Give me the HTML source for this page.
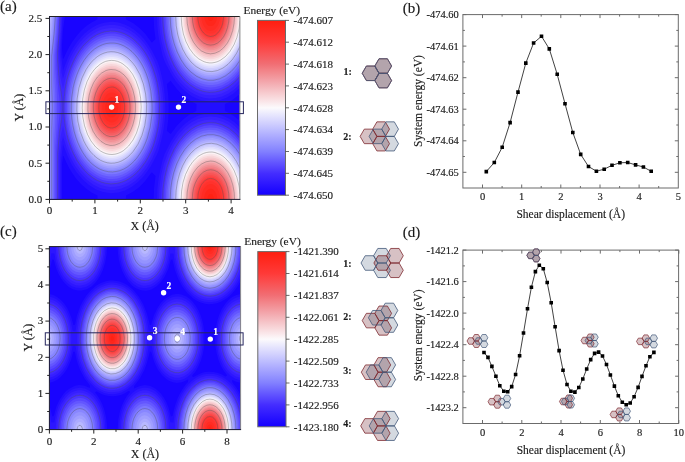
<!DOCTYPE html>
<html><head><meta charset="utf-8"><style>
html,body{margin:0;padding:0;background:#fff;width:685px;height:462px;overflow:hidden}
svg{display:block}
text{font-family:"Liberation Serif",serif;stroke-width:0.15px}
</style></head><body>
<svg width="685" height="462" viewBox="0 0 685 462">
<defs>
<clipPath id="ca"><rect x="49.5" y="16.5" width="190.4" height="182.9"/></clipPath>
<clipPath id="cc"><rect x="49.4" y="246.6" width="191.2" height="183"/></clipPath>
<linearGradient id="cb" x1="0" y1="0" x2="0" y2="1"><stop offset="0.0000" stop-color="#ff1e0f"/><stop offset="0.0312" stop-color="#ff2519"/><stop offset="0.0625" stop-color="#ff2c24"/><stop offset="0.0938" stop-color="#ff332e"/><stop offset="0.1250" stop-color="#ff3a38"/><stop offset="0.1562" stop-color="#fc4747"/><stop offset="0.1875" stop-color="#f85456"/><stop offset="0.2188" stop-color="#f46165"/><stop offset="0.2500" stop-color="#f16e74"/><stop offset="0.2812" stop-color="#f28085"/><stop offset="0.3125" stop-color="#f29196"/><stop offset="0.3438" stop-color="#f3a2a8"/><stop offset="0.3750" stop-color="#f4b4b9"/><stop offset="0.4062" stop-color="#f6c6ca"/><stop offset="0.4375" stop-color="#f8d7da"/><stop offset="0.4688" stop-color="#fae8eb"/><stop offset="0.5000" stop-color="#fcfafc"/><stop offset="0.5312" stop-color="#ecebfd"/><stop offset="0.5625" stop-color="#dddcfe"/><stop offset="0.5938" stop-color="#cecdfe"/><stop offset="0.6250" stop-color="#bebeff"/><stop offset="0.6562" stop-color="#afaeff"/><stop offset="0.6875" stop-color="#a09fff"/><stop offset="0.7188" stop-color="#9190ff"/><stop offset="0.7500" stop-color="#8280ff"/><stop offset="0.7812" stop-color="#726bff"/><stop offset="0.8125" stop-color="#6356ff"/><stop offset="0.8438" stop-color="#5442ff"/><stop offset="0.8750" stop-color="#442dff"/><stop offset="0.9062" stop-color="#3822ff"/><stop offset="0.9375" stop-color="#2c16ff"/><stop offset="0.9688" stop-color="#200bff"/><stop offset="1.0000" stop-color="#1400ff"/></linearGradient>
</defs>
<g clip-path="url(#ca)">
<rect x="49.5" y="16.5" width="190.4" height="182.9" fill="#1904ff"/>
<path fill="#220eff" fill-rule="evenodd" d="M240 199.5L153.6 199.5L154.1 187.5L155.5 176L152 172.5L151.5 172.6L145 181.3L139.5 186.9L133 191.8L126 195.5L125.9 199.5L97.5 199.5L97.4 195.5L91.5 192.5L86 188.6L80.9 184L76 178.4L72.5 173.5L69.1 168L66.1 162L63.5 156.1L63 156.2L62 165L62 199.5L49.5 199.5L49.5 16.5L64.9 16.5L63 29.7L62 45.5L62.1 50.5L63 58.7L63.5 58.8L66.3 52.5L69.4 46.5L72.8 41L76.5 35.9L81.3 30.5L86.3 26L91.5 22.4L97.2 19.5L97.5 19L97.5 16.5L125.9 16.5L125.9 19L126.2 19.5L133 23.1L139.5 28L145 33.6L151.5 42.3L152 42.4L155.5 39L154.1 28L153.6 16.5L240 16.5L240 93.9L233 99.6L229 102L224.9 104L224.9 110.5L225 111L229.5 113.2L233.5 115.7L240 121L240 199.5ZM170.6 134L177 125.6L183 119.5L189.5 114.6L196.3 111L196.5 104.5L196.5 104L192 101.8L188 99.3L182.5 94.9L176.8 89L170.5 80.8L167 84L166.9 84.5L168.3 96L168.7 107.5L168.3 119L166.9 130.5L167 130.9L170.6 134Z"/>
<path fill="#2c16ff" fill-rule="evenodd" d="M60.5 199.5L49.5 199.5L49.5 16.5L62.6 16.5L62 30.5L61 47L60.9 52.5L63 70.5L68.3 57L71 51.6L74 46.5L77.1 42L80.7 37.5L84.5 33.6L88.5 30.2L92.5 27.5L97 25.1L101 23.5L105.5 22.4L110.5 21.7L113 21.7L118.5 22.5L123.5 23.9L129 26.4L134.5 29.9L139.5 34.2L144 39L148.1 44.5L152.1 51L157.5 61.5L159.6 67.5L162.7 80.5L164.1 89L165.1 99L165.4 109L164.9 119L163.7 129L162 137.5L158.7 150.5L156.5 155.5L152 164.1L149 169.1L143.9 176L138 182.1L131.5 187.1L125 190.4L118.5 192.4L111 193.3L103 192L96 189.4L89 185.1L82.7 179.5L76.8 172.5L71.6 164.5L67.5 156L63 144.4L60.9 162.5L60.9 199.5L60.5 199.5ZM212.5 101.6L209 101.6L201.5 100.3L196.5 98.5L191.5 95.9L186.5 92.3L182 88.3L177.5 83.2L173.5 77.7L170.4 72.5L165.4 63L163.9 59.5L162.6 55.5L159.7 43L158.3 35L157.3 26L157 16.5L240 16.5L240 87.6L233.5 93.4L227 97.5L220 100.2L212.5 101.6ZM240 199.5L157 199.5L157.4 188.5L158.7 177.5L162.4 160.5L164.5 154L171.2 141L177 132.3L180.5 128.2L184 124.7L188 121.4L192 118.7L198 115.8L204 114.1L210.5 113.2L216.5 113.9L223 115.7L228.9 118.5L234.5 122.3L240 127.3L240 199.5Z"/>
<path fill="#361fff" fill-rule="evenodd" d="M59.5 199.5L49.5 199.5L49.5 16.5L61.7 16.5L61.1 31L59.9 48.5L59.9 55L61.6 73L63 78.5L67.7 64L70.2 58L73 52.6L76.1 47.5L79.7 42.5L83.5 38.2L87.5 34.5L91.5 31.4L96 28.8L100.5 26.8L105 25.6L109.5 25L114.5 25L119 25.7L123.5 27.1L129.5 29.9L135 33.7L140.2 38.5L145 44.2L149.5 51L153.4 58.5L156.6 66.5L159.3 75L161.3 84L162.7 93.5L163.4 103L163.4 113L162.6 122.5L161.1 132L159 141L156.2 149.5L152 159.3L147 167.8L141.5 175L135.2 181L128.5 185.5L121.5 188.5L114.5 189.9L110.5 190L107 189.7L100 187.9L93 184.4L86.5 179.6L80.5 173.3L75.2 166L70.5 157.4L66.8 148.5L63 136.5L61.6 142L59.9 160L59.9 199.5L59.5 199.5ZM215.5 98.1L210 98.4L205 97.9L199.5 96.5L194.5 94.3L189.5 91.2L184.5 87.1L180 82.4L176 77.2L172.1 71L168.8 64.5L166 57.5L163.4 49.5L161.5 41.5L160.1 33.5L159.2 25L158.9 16.5L240 16.5L240 83.9L234.5 89.2L228.5 93.4L222 96.4L215.5 98.1ZM240 199.5L158.9 199.5L159.5 187L161.1 175L163.9 163.5L167.9 152.5L172.7 143L178.5 134.4L185 127.3L188.5 124.4L192 122L198 119L204 117.2L210 116.5L216.5 117L223 118.9L229 121.8L234.5 125.7L240 131L240 199.5Z"/>
<path fill="#3f28ff" fill-rule="evenodd" d="M58.5 199.5L49.5 199.5L49.5 16.5L60.8 16.5L60.2 31.5L58.8 50L58.8 57.5L60.5 77.6L63 89.1L66.4 74.5L70.4 63L73 57.4L76 52L79 47.5L82.5 43.1L86 39.4L90 35.9L94 33.2L98 31L102 29.5L106.5 28.4L111 28L115.5 28.2L120 29.1L124 30.4L128.5 32.6L132.5 35.2L136.5 38.5L140 42L143.5 46.3L146.8 51L149.7 56L152.5 61.8L155 68L156.9 74L159.9 87L160.8 94L161.4 101L161.5 108.5L161.2 116L160.5 123.5L159.4 130.5L157.8 137.5L155.9 144L153.6 150.5L150.9 156.5L147.9 162L144.5 167.3L141 171.7L137 175.9L133 179.3L128.5 182.3L124 184.5L119.5 185.9L115 186.7L110 186.9L105.5 186.3L101 185.1L96.5 183.1L92 180.4L88 177.4L84 173.5L80.5 169.4L77 164.5L73.8 159L70.9 153L68.5 147L66.5 140.9L63 125.9L60.5 137.3L58.8 156.5L58.8 199.5L58.5 199.5ZM215 95L209.5 95.3L204.5 94.7L199.5 93.3L194.5 91L189.5 87.8L185 84L181 79.7L177 74.5L173.3 68.5L170.1 62L167.3 55L165.1 48L163.3 40.5L161.9 32.5L161.1 24.5L160.8 16.5L240 16.5L240 80.1L234.1 86L228 90.4L221.5 93.4L215 95ZM240 199.5L160.8 199.5L161.4 187.5L163 176L165.6 165L169.2 155L173.8 145.5L179.1 137.5L185.4 130.5L192 125.4L198 122.2L204.5 120.2L211 119.6L217 120.2L223 122L229 125.1L234.5 129.2L240 134.8L240 199.5Z"/>
<path fill="#4a35ff" fill-rule="evenodd" d="M57.5 199.5L49.5 199.5L49.5 16.5L59.9 16.5L59.2 32L57.7 51.5L57.7 60.5L59.4 82.5L60.9 91L61.8 98L62.2 108.5L61.5 119.5L59.4 132.5L57.7 153L57.5 199.5ZM214.5 92L210 92.3L205 91.7L199.5 90.2L194.5 87.8L190 84.8L186 81.4L182.4 77.5L178.2 72L174.8 66.5L171.8 60.5L168.8 53L166.8 46.5L165.2 40L163.8 31.5L163.1 25L162.7 16.5L240 16.5L240 76.3L234.5 82.1L228.5 86.8L225 88.8L221.5 90.3L218.5 91.3L214.5 92ZM116 183.5L111 183.9L106 183.3L102 182.3L97 180.2L93 177.8L88.5 174.3L84.2 170L80.2 165L77.2 160.5L73.7 154L71.3 148.5L68.8 141.5L66.8 134L65.3 126.5L64.3 118.5L63.8 111.5L63.8 104.5L64.3 96.5L65.3 88.5L66.7 81L68.8 73.5L70.7 68L73.2 62L76.3 56L79.7 50.5L83.2 46L88 41.1L92 37.8L97 34.7L101.5 32.8L105.5 31.7L110.5 31.1L115 31.2L120 32.2L124.5 33.8L129 36.2L132.5 38.6L137 42.6L140.2 46L144.3 51.5L147.7 57L150.2 62L152.7 68L155.2 75.5L156.8 81.5L158.3 89.5L159.2 97.5L159.6 104L159.2 117.5L158.3 125.5L157.2 131.5L155.3 139L153.3 145.5L150.9 151.5L148.2 157L145.3 162L141.3 167.5L137.3 172L133 175.9L129 178.7L125 180.9L120 182.7L116 183.5ZM240 199.5L162.7 199.5L163.2 188L164.7 177.5L167.2 167L170.7 157L174.7 148.5L180.2 140L186 133.6L192 128.7L198 125.4L204.5 123.3L211 122.6L217 123.3L223 125.2L229.5 128.8L235 133.2L240 138.6L240 199.5Z"/>
<path fill="#5746ff" fill-rule="evenodd" d="M56 199.5L49.5 199.5L49.5 16.5L59 16.5L58.2 33.5L56.5 52.5L56.5 65L58.3 89.5L59.5 100L59.7 109L59.4 115.5L58.3 125.5L56.5 150L56.5 199.5L56 199.5ZM215 89.5L210 89.9L205.5 89.4L200.5 88.1L196 86.1L191.5 83.2L187 79.5L183 75.3L179.5 70.7L176 65L173 59.1L170.5 52.9L168.3 46L166.6 39L165.3 31.5L164.6 24L164.3 16.5L240 16.5L240 73.2L234.5 79.4L228.5 84.2L222 87.6L218.5 88.8L215 89.5ZM116.5 181L112 181.4L107 181.1L102.5 180L98 178.1L93.5 175.5L89.5 172.4L85.5 168.5L81.8 164L78.4 159L75.1 153L72.5 147L70.2 140.5L68.3 133.5L66.9 126.5L65.9 119.5L65.4 112L65.3 104.5L65.8 97L66.7 89.5L68 82.6L69.8 75.5L72 69.1L74.6 63L77.5 57.4L81 52L84.5 47.5L88.5 43.4L92.5 40.1L97 37.3L101.5 35.3L106 34L110.5 33.5L115 33.6L119.5 34.5L124 36.1L128 38.2L132 40.9L136 44.4L139.5 48.2L143 52.8L146.2 58L149 63.4L151.5 69.4L153.5 75.5L155.3 82L156.5 88.5L157.5 95.5L158 102.5L158.1 109.5L157.7 116.5L157 123.5L155.8 130.5L154.2 137L152.2 143.5L149.9 149.5L147.2 155L144.4 160L141 164.8L137.5 169L133.5 172.8L129.5 175.8L125.5 178.1L121 179.9L116.5 181ZM240 199.5L164.3 199.5L164.7 189L166.1 178.5L168.4 168.5L171.7 159L175.6 150.5L180.5 142.8L186 136.4L192 131.3L198 127.9L204.5 125.7L211 125L217 125.7L223 127.7L229 131.1L234.5 135.5L240 141.7L240 199.5Z"/>
<path fill="#6356ff" fill-rule="evenodd" d="M55 199.5L49.5 199.5L49.5 16.5L58.1 16.5L57.3 31.5L55.3 54L55.3 68.5L56.7 89L57.3 108L56.7 126.5L55.3 146.5L55.3 199.5L55 199.5ZM215.5 87.1L211 87.5L206 87.1L201.5 86L197 84.1L192.5 81.3L188.5 78.1L184.5 74L180.9 69.5L177.5 64.1L174.6 58.5L172 52.3L169.8 45.5L168.1 38.5L166.9 31.5L166.1 24L165.8 16.5L240 16.5L240 70.1L234.5 76.6L228.5 81.6L222 85.2L215.5 87.1ZM113 179L108.5 178.9L104 178L99.5 176.4L95.5 174.2L91.5 171.4L87.5 167.8L84 163.8L80.5 159L77.6 154L74.9 148.5L72.5 142.5L70.5 136L69 129.5L67.8 122.5L67.1 115.5L66.8 108.5L67 101.5L67.5 94.5L68.6 87.5L70 81L71.8 74.5L74 68.5L76.5 63L79.5 57.5L82.9 52.5L86.2 48.5L90 44.8L94 41.6L98 39.3L102.5 37.4L107 36.2L111.5 35.8L116 36.2L120 37.1L124.5 38.8L128.5 41.1L132.5 44L136.5 47.8L140 51.9L143.2 56.5L146.4 62L149 67.5L151.2 73.5L153 79.5L154.5 86L155.6 92.5L156.3 99.5L156.6 106.5L156.4 113.5L155.8 120.5L154.9 127L153.5 133.6L151.7 140L149.5 146L147 151.7L144.1 157L141 161.7L137.5 166.1L134 169.6L130 172.8L126 175.3L121.5 177.3L117.5 178.5L113 179ZM240 199.5L165.8 199.5L166.2 189L167.6 179L169.8 169.5L172.8 160.5L176.5 152.5L181.2 145L186.5 138.7L192 133.9L198 130.3L204 128.2L210.5 127.4L217 128.1L223.5 130.4L229.5 134L235 138.9L240 144.8L240 199.5Z"/>
<path fill="#6f67ff" fill-rule="evenodd" d="M54 199.5L49.5 199.5L49.5 16.5L57.2 16.5L56.3 32L54.1 55L54.2 74L55.2 92L55.6 108L55.2 123.5L54.1 142.5L54 199.5ZM212.5 85L208 84.9L204 84.3L199.5 82.7L195.5 80.7L191.5 78L187.6 74.5L184 70.5L180.7 66L177.8 61L175.1 55.5L172.7 49.5L170.9 43.5L169.3 37L168.2 30.5L167.5 23.5L167.3 16.5L240 16.5L240 66.9L237 70.9L234 74.2L231 77L227.5 79.7L224 81.7L220 83.5L216.5 84.5L212.5 85ZM114.5 176.5L110 176.6L106 176.1L101.5 174.7L97.5 172.9L93.5 170.3L89.5 166.9L86 163.2L82.5 158.7L79.5 153.9L76.8 148.5L74.3 142.5L72.3 136.5L70.7 130L69.5 123.5L68.7 117L68.3 110L68.4 103L68.8 96.5L69.8 89.5L71.1 83L72.7 77L74.8 71L77.2 65.5L80.1 60L83 55.5L86.5 51.1L90 47.5L94 44.3L98 41.8L102.5 39.8L106.5 38.7L111 38.2L115.5 38.5L119.5 39.4L123.5 40.8L127.5 43L131.5 45.9L135 49.1L138.5 53L141.5 57.1L144.4 62L146.9 67L149.2 72.5L151.1 78.5L152.6 84.5L153.9 91L154.6 97.5L155.1 104.5L155 111.5L154.6 118L153.8 124.5L152.5 131L150.9 137L148.9 143L146.6 148.5L144 153.7L141 158.5L137.6 163L134 166.8L130.5 169.8L126.5 172.5L122.5 174.5L118.5 175.8L114.5 176.5ZM240 199.5L167.3 199.5L167.6 190L168.9 180.5L171 171L173.8 162.5L177.4 154.5L181.7 147.5L186.5 141.5L192 136.6L197.5 133.1L203.5 130.8L209.5 129.8L216 130.3L222 132.2L227.9 135.5L233.3 140L238.2 145.5L240 148L240 199.5Z"/>
<path fill="#7c78ff" fill-rule="evenodd" d="M52.5 199.5L49.5 199.5L49.5 16.5L56.2 16.5L55.3 32L53 55.5L53 79.5L53.7 94.5L53.9 108.5L53.7 121.5L53 135.5L53 199.5L52.5 199.5ZM213.5 82.5L209 82.6L205 82.1L201 80.9L196.9 79L193 76.5L189 73.1L185.5 69.3L182.3 65L179.5 60.5L176.7 55L174.3 49L172.4 43L170.8 36.5L169.7 30L169 23.5L168.8 16.5L240 16.5L240 63.6L234.5 70.8L231.3 74L228 76.7L224.5 78.9L221 80.6L217.5 81.8L213.5 82.5ZM115.5 174L111 174.3L107 173.9L103 172.8L99 171.1L95 168.7L91 165.6L87.5 162L84.3 158L81.3 153.5L78.5 148.2L76.2 143L74.1 137L72.5 131L71.2 124.5L70.3 118L69.9 111L69.8 104L70.3 97.5L71.1 91L72.3 84.5L73.9 78.5L76 72.5L78.3 67L81 62L84 57.3L87.4 53L91 49.3L94.5 46.5L98.5 44L102.5 42.3L106.5 41.1L111 40.6L115 40.8L119 41.6L123 43.1L126.5 44.9L130 47.3L133.6 50.5L137 54.2L140.2 58.5L143 63L145.5 68L147.8 73.5L149.6 79L152.3 91L153.1 97.5L153.5 104L153.2 116.5L151.4 129L148.1 140.5L145.9 146L143.5 151L140.5 156L137.6 160L134.5 163.5L131 166.8L127.5 169.3L123.5 171.6L119.5 173.1L115.5 174ZM240 199.5L168.8 199.5L169.2 190L170.3 181L172.3 172L175 164L178.5 156.2L182.5 149.6L187 143.9L192 139.2L197.5 135.6L203 133.3L209 132.3L215 132.6L221 134.3L226.5 137.2L231.5 141.1L236.6 146.5L240 151.3L240 199.5Z"/>
<path fill="#8886ff" fill-rule="evenodd" d="M51.5 199.5L49.5 199.5L49.5 16.5L55.3 16.5L54.2 32.5L51.7 56L51.7 85.5L52.3 108L51.7 129.5L51.7 199.5L51.5 199.5ZM214.5 80L210.5 80.3L206 79.9L202 78.8L198.5 77.3L195 75.3L190.5 71.7L187.3 68.5L183.8 64L181.2 60L178.3 54.5L175.8 48.5L173.7 42L172.2 36L171.2 30L170.6 24.5L170.2 16.5L240 16.5L240 60.2L234.9 67.5L232 70.6L228.5 73.7L225.5 75.8L222 77.8L218 79.3L214.5 80ZM116 171.5L112.5 171.9L108.5 171.7L104 170.7L100 169.2L96.5 167.2L92.5 164.2L89.2 161L85.8 157L82.8 152.5L80.3 148L77.8 142.5L75.8 137L74.2 131.5L72.7 124.5L71.7 117.5L71.3 111.5L71.3 105L71.6 98.5L73.2 87.5L74.7 81.5L76.8 75L78.8 70L81.3 65L84.3 60L87.8 55.5L91 52.1L94.5 49.1L98 46.8L102.5 44.7L106 43.6L110 43.1L114 43.1L117.5 43.6L121 44.7L124.5 46.3L128.5 48.8L132 51.7L135.2 55L138.4 59L141.3 63.5L143.7 68L146.3 74L147.8 78.5L149.2 83.5L150.7 90.5L151.9 101.5L152.1 108L151.9 115L150.2 127L147.3 138L145.2 143.5L142.9 148.5L140.3 153L137.2 157.5L134.2 161L131 164.1L127.5 166.8L124 168.9L119.5 170.7L116 171.5ZM240 199.5L170.2 199.5L170.6 190L171.7 182L173.3 174.5L175.8 166.5L178.7 159.5L182.7 152.5L186.8 147L191.5 142.3L196.5 138.7L200 136.9L203 135.7L208.5 134.7L214 134.8L220 136.3L225 138.8L230.5 142.9L235.4 148L240 154.7L240 199.5Z"/>
<path fill="#9493ff" fill-rule="evenodd" d="M49.5 199.5L49.5 16.5L54.3 16.5L53.5 28L52 43.6L49.9 56.5L49.9 199.5L49.5 199.5ZM212 78.5L208 78.4L204 77.7L200 76.2L196.5 74.4L193 71.9L189.5 68.7L186.5 65.3L183.5 61.2L181 57L178.5 51.9L176.4 46.5L174.7 41L173.2 35L172.2 29L171.4 16.5L240 16.5L240 57.6L237.3 62L234.3 66L231 69.5L227.5 72.5L224 74.9L220 76.8L216 78L212 78.5ZM114 170L110 170.1L106 169.5L102 168.2L98.5 166.5L95 164.2L91.5 161.2L88.4 158L85.4 154L82.5 149.5L80 144.5L77.9 139.5L76.1 134L73.5 122.5L72.8 116.5L72.4 110L72.9 97.5L74.9 85.5L76.4 80L78.2 74.5L80.5 69.3L83.1 64.5L86 60L89 56.3L92.5 52.7L96 50L99.5 47.8L103.5 46.1L107 45.2L111 44.8L115 45L118.5 45.7L122.5 47.2L126 49L129.5 51.5L132.7 54.5L135.9 58L138.8 62L141.5 66.5L143.7 71L147.5 81.5L150 93L151 105L150.6 117L148.6 129L145.3 140L140.9 149.5L138.4 153.5L135.4 157.5L132 161.1L128.7 164L125 166.5L121.5 168.2L118 169.3L114 170ZM240 199.5L171.4 199.5L171.7 191L172.7 182.5L174.5 174.5L176.9 167L179.9 160L183.5 153.7L187.5 148.4L192 143.9L197 140.3L202.5 137.7L208 136.5L213.5 136.5L219 137.8L224 140.1L229 143.6L233.9 148.5L237 152.5L240 157.3L240 199.5Z"/>
<path fill="#a09fff" fill-rule="evenodd" d="M49.5 48.6L49.5 16.5L53.3 16.5L52 33.3L49.5 48.6ZM214.5 76.5L210.5 76.8L206.5 76.5L202.5 75.4L198.5 73.7L195 71.5L191.4 68.5L188 64.9L185 61L182.2 56.5L179.9 52L177.6 46.5L175.8 41L174.4 35L173.3 29L172.7 23L172.4 16.5L240 16.5L240 55L237.4 59.5L234.5 63.5L231.5 67L228.5 69.8L225 72.4L221.5 74.3L218 75.7L214.5 76.5ZM116 168L112.5 168.4L108.5 168.2L104.5 167.3L101 166L97.5 164.1L94 161.5L90.5 158.2L87.4 154.5L84.5 150.3L82 145.8L79.8 141L77.8 135.5L76.2 130L74.9 124L73.6 112L73.5 105.5L73.8 99.5L75.6 87.5L77 82L78.8 76.5L81 71.1L83.4 66.5L86 62.3L89 58.4L92 55.2L95.5 52.2L99 50L103 48.1L106.5 47.1L110.5 46.5L114.5 46.7L118 47.3L121.5 48.5L125 50.3L128.5 52.7L131.5 55.3L134.5 58.5L137.2 62L139.7 66L142.1 70.5L146 80.5L148.6 91.5L149.8 103L149.7 114.5L148.1 126L145.1 137L141.1 146.5L136 154.5L133 158.1L130 161L126.5 163.7L123 165.7L119.5 167.1L116 168ZM240 199.5L172.4 199.5L172.7 191.5L173.7 183.5L175.3 176L177.6 168.5L180.5 161.6L183.9 155.5L188 150L192 145.8L197 142.1L202 139.7L207 138.4L212.5 138.1L218 139.2L223 141.3L228 144.7L232.5 149L236.5 154.1L240 159.9L240 199.5Z"/>
<path fill="#acabff" fill-rule="evenodd" d="M49.5 38.7L49.5 16.5L52.4 16.5L51.5 26.6L49.5 38.7ZM212.5 75L208.5 75L205 74.4L201.5 73.3L198 71.5L194.5 69.2L191 66.1L188 62.8L185.2 59L182.5 54.5L180.3 50L178.3 45L176.6 39.5L174.3 28L173.5 16.5L240 16.5L240 52.2L237.4 57L234.5 61.3L231.4 65L228 68.2L224.5 70.8L220.5 73L216.5 74.4L212.5 75ZM114.5 166.5L110.5 166.6L107 166.2L103.5 165.2L100 163.7L96.5 161.5L93 158.6L90 155.5L87 151.7L84.3 147.5L82 143L78.2 133L75.7 122L74.6 110L75 98.5L76.8 87L80 76.5L82.2 71.5L84.6 67L87.2 63L90 59.4L93 56.3L96.5 53.4L100 51.2L103.5 49.7L107 48.7L111 48.2L114.5 48.4L118 49.1L121.5 50.3L125 52.2L128.5 54.6L131.5 57.4L134.3 60.5L137 64.1L141.7 72.5L145.4 82.5L147.7 93L148.8 104.5L148.4 116L146.8 127L143.7 137.5L139.5 146.7L137 150.8L134.3 154.5L131.5 157.6L128.2 160.5L125 162.7L121.5 164.6L118 165.8L114.5 166.5ZM240 199.5L173.5 199.5L173.8 191.5L174.8 184L176.3 176.5L178.5 169.5L181.2 163L184.5 157L188 152.1L192 147.8L196.5 144.3L201.5 141.6L206.5 140.2L212 139.9L217 140.7L222 142.6L227 145.8L231.5 150L236 155.7L240 162.7L240 199.5Z"/>
<path fill="#b8b8ff" fill-rule="evenodd" d="M49.5 28.7L49.5 16.5L51.2 16.5L49.5 28.7ZM214.5 73L211 73.3L207 73.1L203 72L199.5 70.5L196 68.4L193 66L190 63L186.8 59L184 54.5L181.7 50L179.6 45L178 40L176.6 34.5L175.5 28.5L174.9 22.5L174.6 16.5L240 16.5L239.9 49.5L237.6 54L235 58.3L232 62.2L228.9 65.5L225.5 68.3L222 70.4L218.5 72L214.5 73ZM116 164.5L112.5 164.9L108.5 164.7L105 163.9L101.5 162.6L98 160.6L95 158.4L91.9 155.5L88.9 152L86.1 148L83.6 143.5L79.7 134L77.1 123.5L75.8 112L75.9 100.5L77.6 89L80.6 78.5L82.6 73.5L84.9 69L87.5 64.8L90.5 61L93.5 57.8L96.5 55.3L100 53.1L103.5 51.5L107 50.5L110.5 50L114 50.1L117.5 50.7L121 51.9L124 53.4L127 55.4L130.1 58L133 61.1L135.7 64.5L140.3 72.5L144 82L146.4 92L147.6 103L147.5 114L146 125L143.3 135L139.5 144L137 148.4L134.5 152L129 157.9L126 160.2L122.5 162.3L119.5 163.6L116 164.5ZM240 199.5L174.6 199.5L174.9 192L175.7 185L177.1 178L179.2 171L181.9 164.5L184.8 159L188.3 154L192 149.9L196.5 146.2L201.5 143.4L206.5 141.9L211.5 141.6L216.5 142.3L221.5 144.2L226 147L230.5 151L235.6 157.5L240 165.6L240 199.5Z"/>
<path fill="#c4c4ff" fill-rule="evenodd" d="M49.5 18.3L49.5 16.5L49.7 16.5L49.5 18.3ZM212.5 71.5L209 71.6L205.5 71L202 69.9L198.5 68.1L195.5 66.1L192.5 63.5L189.5 60.2L186.7 56.5L184.3 52.5L182.1 48L178.7 38.5L176.5 27.6L175.7 16.5L240 16.5L240 46.2L238 50.6L235.5 55.1L232.8 59L229.8 62.5L226.5 65.6L223 68L219.5 69.8L216 71L212.5 71.5ZM114.5 163L111 163.2L107.5 162.8L104 161.8L100.5 160.3L97 158L94 155.5L91.1 152.5L88.5 149.2L86 145.2L83.8 141L80.2 131.5L77.8 121L76.8 110L77.1 99L78.9 88L82 78L86.1 69.5L88.7 65.5L91.5 62L94.5 58.9L97.5 56.5L100.5 54.6L104 53.1L107.5 52.1L111 51.7L114.5 51.9L117.5 52.5L121 53.7L124 55.3L127 57.3L130 60L133 63.3L135.5 66.6L140 74.7L143.4 84L145.6 94L146.6 104.5L146.3 115L144.8 125.5L141.9 135.5L138 144.2L133.1 151.5L130.5 154.4L127.5 157.2L124.5 159.3L121 161.2L118 162.3L114.5 163ZM240 199.5L175.7 199.5L176 192.5L176.8 185.5L178.2 178.5L180 172.3L182.3 166.5L185.1 161L188.5 156L192 151.9L196.5 148.1L201 145.5L205.5 143.9L210.5 143.3L215.5 143.8L220 145.3L224.5 147.8L229 151.6L232.1 155L235 159L237.6 163.5L240 168.7L240 199.5Z"/>
<path fill="#d1d0fe" fill-rule="evenodd" d="M214.5 69.5L211 69.9L207.5 69.6L204 68.8L200.5 67.4L197 65.3L194 62.9L191 59.8L188.4 56.5L185.8 52.5L183.5 48.1L179.9 38.5L177.7 28L176.8 16.5L240 16.5L240 42.9L237.5 48.8L233 56.5L230.5 59.7L227.5 62.7L224.5 65.2L221 67.3L218 68.6L214.5 69.5ZM116 161L112.5 161.4L109 161.3L105.5 160.6L102.5 159.4L99 157.5L96 155.3L93 152.5L90.4 149.5L88 146L85.7 142L81.9 133L79.3 123L77.9 112L78.1 101L79.5 90.5L82.3 80.5L84.2 76L86.4 71.5L88.9 67.5L91.5 64.1L94.4 61L97.4 58.5L100.5 56.5L104 54.9L107 54L110.5 53.5L114 53.6L117 54.1L120 55.1L123 56.5L126 58.5L129 61L134.1 67L138.5 74.5L142 83.3L144.3 93L145.5 103L145.4 113.5L144 123.5L141.5 133L138 141.5L133.5 148.8L130.8 152L128 154.8L125 157.1L122 158.9L119 160.2L116 161ZM240 199.5L176.8 199.5L177.1 192.5L177.8 186L179.1 179.5L180.8 173.5L183 167.9L185.7 162.5L188.7 158L192 154L196 150.4L200.5 147.5L205 145.8L210 145L215 145.5L219.5 146.9L224 149.4L228 152.6L231.5 156.5L234.7 161L237.5 166.1L240 172L240 199.5Z"/>
<path fill="#dddcfe" fill-rule="evenodd" d="M213 68L209.5 68.1L206.5 67.7L203 66.7L200 65.3L197 63.4L194 60.9L191 57.7L188.5 54.4L186.1 50.5L184 46.3L180.7 37L178.6 27L177.9 16.5L240 16.5L240 39.2L238.1 44.5L235.8 49.5L233.5 53.4L231 56.9L228.5 59.7L225.5 62.5L222.5 64.6L219.5 66.2L216.5 67.3L213 68ZM114.5 159.5L111 159.7L108 159.4L104.5 158.4L101.5 157.1L98.5 155.3L95.5 152.9L92.7 150L90 146.6L85.6 139L82.1 130L80 120.5L79 110L79.3 99.5L80.9 89.5L83.8 80L87.6 72L90 68.3L92.5 65.1L95 62.5L98 60L101 58L104.5 56.5L107.5 55.6L111 55.2L114.5 55.4L117.5 56L120.5 57.1L123.5 58.7L126.5 60.8L129 63.1L134 69.1L138.1 76.5L141.3 85L143.5 94.5L144.4 104.5L144.2 114.5L142.7 124.5L140.1 133.5L136.5 141.6L132 148.5L129.3 151.5L126.5 154.1L123.5 156.2L120.5 157.8L117.5 158.9L114.5 159.5ZM240 199.5L177.9 199.5L178.1 193L178.8 187L179.9 181L181.6 175L183.6 169.5L186.1 164.5L188.9 160L192 156.1L196 152.3L200.5 149.3L205 147.6L209.5 146.8L214 147L218.5 148.3L223 150.6L227 153.7L231 158L234.5 163.1L237.5 169L240 175.7L240 199.5Z"/>
<path fill="#e9e8fd" fill-rule="evenodd" d="M214.5 66L211.5 66.4L208 66.2L204.5 65.4L201.5 64.2L198.5 62.5L195.5 60.2L192.5 57.3L189.9 54L187.5 50.3L185.2 46L181.9 37L179.8 27L179 16.5L240 16.5L240 35L237.8 42L235.1 48L231 54.6L226 60.1L223.5 62.1L220.5 63.9L217.5 65.2L214.5 66ZM116 157.5L113 157.9L109.5 157.9L106.5 157.3L103.5 156.3L100.5 154.7L97.5 152.6L94.6 150L92 147L87.5 140L83.8 131.5L81.4 122L80.1 112L80.2 101.5L81.6 91.5L84.3 82L87.9 74L92.5 67.2L95 64.5L98 61.9L101 59.9L104 58.4L107 57.5L110.5 57L113.5 57L116.5 57.5L119.5 58.5L122.5 59.9L127.9 64L132.6 69.5L136.7 76.5L139.9 84.5L142.2 93.5L143.3 103L143.2 112.5L142 122L139.7 131L136.5 139L132.5 145.6L127.5 151.3L125 153.3L122 155.2L119 156.6L116 157.5ZM240 199.5L179 199.5L179.2 193.5L179.8 187.5L180.8 182L182.3 176.5L184.3 171L186.5 166.4L189.1 162L192 158.2L196 154.2L200 151.5L204 149.6L208.5 148.6L213 148.6L217.5 149.7L221.5 151.5L225.6 154.5L229.6 158.5L233.2 163.5L236.4 169.5L238.9 176L240 179.9L240 199.5Z"/>
<path fill="#f6f4fc" fill-rule="evenodd" d="M213 64.5L209.5 64.6L206.5 64.2L203.5 63.3L200.5 61.9L197.6 60L195 57.8L192.5 55.1L190 51.8L185.9 44.5L182.8 36L180.8 26.5L180.1 16.5L240 16.5L240 29.8L239.8 31L237.3 40L233.5 48.4L229.4 54.5L224.4 59.5L219 62.8L216 63.9L213 64.5ZM114.5 156L111.5 156.2L108.5 156L105.5 155.2L102.5 154L99.5 152.2L97 150.3L94.2 147.5L91.8 144.5L87.5 137.3L84.2 129L82 119.5L81.1 110L81.4 100.5L82.9 91L85.5 82.2L89.1 74.5L93.7 68L96.1 65.5L99 63.1L102 61.2L105 59.8L108 59L111 58.7L114 58.8L117 59.4L120 60.5L122.5 61.8L125 63.5L127.8 66L132.5 71.7L136.3 78.5L139.3 86.5L141.4 95.5L142.2 104.5L142 114L140.7 123L138.3 131.5L135 139.1L130.9 145.5L126 150.6L123.5 152.5L120.5 154.2L117.5 155.4L114.5 156ZM240 199.5L180.1 199.5L180.3 193.5L180.9 188L181.9 182.5L183.2 177.5L185 172.5L187 168.1L189.4 164L192 160.4L195.5 156.7L199.5 153.6L203.5 151.6L208 150.4L212.5 150.3L216.5 151.1L220.5 152.8L224.5 155.5L228.5 159.4L232 164L235 169.4L237.3 175L238.8 180L240 185.1L240 199.5Z"/>
<path fill="#fbf3f5" fill-rule="evenodd" d="M214.5 62.5L211.5 62.9L208.5 62.8L205.5 62.2L202.3 61L199.5 59.4L196.5 57.1L194 54.7L191.4 51.5L189 47.8L187 44L184 36L182 27L181.2 16.5L240 16.5L239.7 24L238.2 33L236 40L232.5 47.5L228.5 53.4L224.4 57.5L220 60.5L217.5 61.6L214.5 62.5ZM112 154.5L109 154.3L106 153.6L103.2 152.5L100.5 151L95.5 146.8L91 141L87.5 134.4L84.5 125.7L82.8 117L82.2 108L82.7 99L84.3 90L87 81.7L90.5 74.7L95 68.7L100 64.3L103 62.5L105.5 61.4L108.5 60.7L111.5 60.4L114.5 60.6L117.5 61.3L120.4 62.5L123 64L128 68.2L132.5 74L136.1 81L139 89.5L140.6 98L141.2 107L140.7 116L139.1 125L136.5 133L133 140L128.5 146.1L123.5 150.6L121 152.1L118 153.4L115 154.2L112 154.5ZM240 199.5L181.2 199.5L181.8 189L184 179L185.5 174.5L187.4 170L189.5 166.3L192 162.6L195.5 158.7L199 155.8L203 153.6L207 152.3L211.5 152L215.5 152.6L219.5 154.1L223.5 156.7L227.1 160L230.5 164.2L233.5 169.2L236 174.9L237.9 181L239.2 187L240 193.9L240 199.5Z"/>
<path fill="#fae5e8" fill-rule="evenodd" d="M212.5 61L209.5 61.1L206.5 60.6L204 59.8L201.2 58.5L198.5 56.7L196 54.6L191.5 49.2L187.7 42.5L184.8 34.5L182.9 25.5L182.3 16.5L239 16.5L238.5 25L236.9 33L234.5 40.5L231.3 47L227 52.9L222.5 57L217.5 59.8L212.5 61ZM114 152.6L111 152.7L108.5 152.4L105.5 151.6L103 150.5L100 148.7L97.5 146.6L93 141.5L89.2 135L86.3 127.5L84.3 119L83.4 110L83.6 101L85 92L87.5 83.8L91 76.5L95 70.9L100 66.2L102.5 64.6L105.5 63.3L108 62.6L111 62.2L114 62.4L116.5 62.9L121.5 65L126.5 68.8L131 74.3L134.7 81L137.5 88.5L139.2 96.5L140 105L139.8 114L138.5 122.3L136.1 130.5L133 137.3L129 143.3L124.5 147.8L119.5 151L117 151.9L114 152.6ZM239 199.5L182.3 199.5L182.9 189.5L184.9 180L188.2 171.5L190.3 167.5L192.5 164.3L195.8 160.5L199.4 157.5L203 155.5L207 154.2L211 153.8L215 154.3L219 155.8L223 158.3L226.5 161.5L229.5 165.2L232.4 170L234.7 175L236.7 181L238 187L238.8 193.5L239 199.5Z"/>
<path fill="#f8d7da" fill-rule="evenodd" d="M213.5 59.1L211 59.3L208 59.1L205 58.4L202.5 57.3L199.5 55.5L197.1 53.5L192.5 48.2L188.7 41.5L185.9 34L184.1 25.5L183.4 16.5L237.9 16.5L237.4 24.5L236 31.8L233.7 39L230.9 45L227.1 50.5L223 54.6L218.5 57.5L213.5 59.1ZM115 150.6L112.5 150.9L109.5 150.8L106.5 150.1L104 149.1L99 145.9L94.4 141L90.5 134.7L87.5 127.5L85.5 119.3L84.5 110.5L84.7 102L85.9 93.5L88.2 85.5L91.5 78.3L95.5 72.5L98 69.9L100.5 67.9L105.5 65.2L108 64.4L111 64L116 64.6L121 66.6L126 70.5L130 75.3L133.5 81.4L136.2 88.5L138.1 96.5L138.9 104.5L138.8 112.5L137.7 120.5L135.7 128L132.8 135L129 141L124.8 145.5L120 148.8L115 150.6ZM237.5 199.5L183.4 199.5L184 190L186 180.5L189.4 172L193.5 165.3L196.5 161.9L200 159.1L203.5 157.1L207.5 155.9L211.5 155.6L215 156.2L219 157.7L222.5 159.9L226 163.1L229 166.9L231.7 171.5L234 176.5L235.9 182.5L237.1 188.5L237.9 196.5L237.9 199.5L237.5 199.5Z"/>
<path fill="#f6c9cd" fill-rule="evenodd" d="M214.5 57L212 57.4L209 57.4L206 56.8L203.5 55.9L201 54.5L198.5 52.7L196 50.3L193.7 47.5L189.9 41L187 33.5L185.2 25L184.6 16.5L236.8 16.5L236.3 24L235 31L233 37.5L230.2 43.5L226.9 48.5L223 52.6L219 55.3L214.5 57ZM113 149L108 148.7L103 146.7L98.1 143L94 138L90.5 131.7L87.9 124.5L86.2 116.5L85.6 108.5L86 100.5L87.3 92.5L89.7 85L92.9 78.5L97 73L101.5 69.1L106.5 66.7L111.5 65.8L116.5 66.5L121.5 68.9L126 72.6L129.8 77.5L133 83.5L135.5 90.5L137.2 98.5L137.8 106.5L137.4 114.5L136 122.5L133.8 129.5L130.7 136L127 141.2L122.5 145.4L118 147.9L113 149ZM236.5 199.5L184.6 199.5L185.2 190L187.1 181L190.3 173L192.3 169.5L194.5 166.4L197.5 163.1L201 160.4L204.5 158.6L208 157.6L211.5 157.4L215 158L218.5 159.3L222 161.5L225.2 164.5L228.1 168L230.8 172.5L233 177.5L234.8 183L236 189L236.7 196L236.8 199.5L236.5 199.5Z"/>
<path fill="#f5bbc0" fill-rule="evenodd" d="M213 55.5L210.5 55.7L208 55.5L205.5 54.8L203 53.8L198.3 50.5L194 45.5L190.6 39.5L188 32.5L186.3 24.5L185.7 16.5L235.6 16.5L235.2 23.5L233.9 30.5L231.8 37L229 42.9L225.5 47.9L221.8 51.5L217.5 54.2L213 55.5ZM114.5 147L112 147.3L109.5 147.1L107 146.6L104.5 145.6L100 142.6L95.7 138L92 132L89.4 125.5L87.6 118L86.8 110L87 102L88.2 94L90.3 87L93.3 80.5L97 75.3L101.5 71.1L106 68.7L108.5 68L111 67.6L113.5 67.7L116 68.2L120.5 70.2L124.7 73.5L128.5 78L131.6 83.5L134.1 90L135.8 97L136.6 104.5L136.5 112L135.5 119.5L133.6 126.5L131 132.7L127.5 138.3L123.5 142.5L119 145.5L114.5 147ZM235.5 199.5L185.7 199.5L186.3 190.5L188.1 182L191 174.5L195 168L198 164.7L201 162.3L204.5 160.5L208 159.4L211.5 159.2L215 159.8L218.5 161.2L221.5 163.2L224.6 166L227.5 169.6L230 173.8L232 178.3L233.7 183.5L234.8 189L235.5 195L235.5 199.5Z"/>
<path fill="#f4adb2" fill-rule="evenodd" d="M214 53.5L211.5 53.9L209 53.8L206.5 53.3L204 52.4L199.5 49.4L195.4 45L191.8 39L189.2 32.5L187.5 24.5L186.8 16.5L234.5 16.5L234.1 23L232.8 30L230.9 36L228.6 41L225.5 45.6L222 49.3L218 52L214 53.5ZM115 145.1L112.5 145.4L110 145.4L105.5 144.2L101 141.4L96.7 137L93.2 131.5L90.7 125.5L88.8 118L87.9 110.5L88 103L89.1 95.5L90.9 89L93.7 82.5L97.4 77L101.5 73.1L106 70.5L108.5 69.8L111 69.5L115.5 69.9L120 71.8L124 74.9L127.5 79L130.7 84.5L132.9 90L134.6 97L135.4 104L135.4 111L134.6 118L132.8 125L130.4 131L127.1 136.5L123.5 140.5L119.5 143.4L115 145.1ZM234.5 199.5L186.8 199.5L187.4 191L189.2 182.5L192 175.5L195.7 169.5L198.5 166.4L201.5 164L204.5 162.3L208 161.3L211.5 161L215 161.7L218 162.9L221 164.8L224 167.5L226.8 171L229.1 175L230.9 179L232.6 184L233.7 189L234.3 194L234.5 199.5Z"/>
<path fill="#f39fa4" fill-rule="evenodd" d="M212.5 52L208 51.9L203.5 50.3L199.5 47.5L195.5 42.9L192.4 37.5L190 31L188.5 24L187.9 16.5L233.4 16.5L233 23L231.7 29.5L229.8 35.5L227.4 40.5L224.2 45L220.5 48.6L216.5 50.9L212.5 52ZM114 143.5L109.5 143.6L105 142.1L101 139.5L97 135.1L93.9 130L91.5 124L89.8 117L89 110L89.2 102.5L90.2 95.5L92.1 89L94.9 83L98.4 78L102.2 74.5L106.5 72.1L111 71.2L115.5 71.7L119.5 73.4L123.5 76.4L127 80.6L129.8 85.5L132.1 91.5L133.7 98L134.4 105L134.3 112L133.3 119L131.5 125.3L129 131L126 135.7L122.3 139.5L118.5 142.1L114 143.5ZM233 199.5L187.9 199.5L188.4 191.5L190.1 183.5L192.8 176.5L196.5 170.7L199 167.9L202 165.5L205 163.9L208 163L211.5 162.8L214.5 163.3L217.5 164.4L220.7 166.5L223.5 169.1L226 172.2L228.2 176L230.2 180.5L231.8 185.5L232.8 191L233.4 198L233.4 199.5L233 199.5Z"/>
<path fill="#f29196" fill-rule="evenodd" d="M213.5 50.1L209 50.3L204.5 49L200.1 46L196.5 42L193.5 36.9L191.1 30.5L189.5 23.5L189 16.5L232.3 16.5L231.9 22.5L230.8 28.5L229.1 34L226.7 39L224 43.1L220.7 46.5L217 48.9L213.5 50.1ZM115 141.6L110.5 141.9L106.5 141L102.5 138.7L98.5 134.8L95.3 130L92.7 124L91 117.5L90.1 110.5L90.2 103.5L91.2 96.5L93 90L95.5 84.5L98.6 80L102.5 76.2L106.5 73.9L111 72.9L115 73.3L119 74.9L122.5 77.5L126 81.5L128.9 86.5L131.1 92L132.5 98L133.3 104.5L133.2 111L132.4 117.5L130.9 123.5L128.6 129L125.9 133.5L122.5 137.4L119 140L115 141.6ZM232 199.5L189 199.5L189.5 192L191 184.5L193.7 177.5L197.2 172L199.5 169.5L202.5 167.1L205.5 165.5L208.5 164.7L211.5 164.5L214.5 165L217.5 166.3L220.2 168L223 170.6L225.5 173.9L227.6 177.5L229.3 181.5L230.7 186L231.7 191L232.3 197.5L232.3 199.5L232 199.5Z"/>
<path fill="#f28389" fill-rule="evenodd" d="M212.5 48.5L208.5 48.5L204.2 47L200.5 44.4L197 40.4L194.2 35.5L192 29.5L190.6 23L190.1 16.5L231.2 16.5L230.8 22.5L229.6 28.5L227.8 34L225.6 38.5L222.7 42.5L219.5 45.5L216 47.5L212.5 48.5ZM114 140L110 140.1L106 139L102 136.4L98.5 132.6L95.7 128L93.4 122.5L91.9 116.5L91.2 110L91.3 103.5L92.2 97L93.9 91L96.4 85.5L99.5 81L103 77.7L107 75.5L111 74.7L115 75.1L119 76.8L122.5 79.5L125.5 83.1L128 87.5L130.2 93L131.6 99L132.2 105L132.1 111.5L131.3 117.5L129.6 123.5L127.5 128.4L124.6 133L121.5 136.3L118 138.7L114 140ZM231 199.5L190.1 199.5L190.6 192L192.1 185L194.6 178.5L198 173.2L200.5 170.5L203 168.6L205.5 167.3L208.5 166.4L211.5 166.3L214.5 166.8L217.5 168.1L220 169.8L222.5 172.2L224.7 175L226.7 178.5L228.4 182.5L229.8 187L230.7 191.5L231.2 197L231.2 199.5L231 199.5Z"/>
<path fill="#f1757b" fill-rule="evenodd" d="M213.5 46.6L209.5 46.9L205.5 45.8L201.5 43.3L198 39.5L195.1 34.5L193 29L191.7 23L191.2 16.5L230.1 16.5L229.8 22L228.9 27L227.3 32L225.2 36.5L222.9 40L220 43.1L217 45.2L213.5 46.6ZM112 138.5L108 137.9L104.5 136.3L101 133.4L98 129.5L95.6 125L93.7 119.5L92.7 114L92.2 108L92.5 102L93.6 96L95.4 90.5L97.6 86L100.5 82L104 78.9L107.5 77.1L111.5 76.4L115.5 77L119 78.7L122.4 81.5L125.2 85L127.6 89.5L129.5 95L130.7 101L131.2 107L130.9 113L129.8 119L128 124.4L125.7 129L122.8 133L119.5 135.9L116 137.7L112 138.5ZM230 199.5L191.2 199.5L191.6 192.5L193 186L195.3 180L198.5 174.8L200.6 172.5L203 170.5L205.5 169.1L208.5 168.2L211.5 168L214 168.4L217 169.7L219.5 171.4L222 173.8L224 176.4L225.8 179.5L227.3 183L228.6 187L229.6 191.5L230.1 196.5L230 199.5Z"/>
<path fill="#f2696e" fill-rule="evenodd" d="M212.5 45L208.5 45L205 43.8L201.5 41.3L198.5 37.8L196 33.5L194 28.2L192.8 22.5L192.3 16.5L229.1 16.5L228.7 22L227.7 27L226 32L224 36L221.6 39.5L219 42L216 43.9L212.5 45ZM114 136.5L110 136.6L106.5 135.6L103 133.3L100 130.1L97.5 126L95.4 121L94 115.5L93.4 110L93.4 104L94.2 98.5L95.7 93L97.9 88L100.7 84L104 80.8L107.5 78.9L111 78.2L114.5 78.5L118 79.9L121 82.2L123.9 85.5L126.2 89.5L128.2 94.5L129.4 99.5L130 105L130 110.5L129.3 116L128 121L126 125.9L123.5 129.9L120.5 133.2L117.5 135.3L114 136.5ZM229 199.5L192.3 199.5L192.7 193L194 186.7L196.2 181L199 176.4L201.1 174L203.5 172L206 170.7L208.5 169.9L211 169.7L213.5 170.1L216 171L218.5 172.5L221 174.8L223 177.3L224.7 180L226.3 183.5L227.6 187.5L228.4 191.5L229 196L229 199.5Z"/>
<path fill="#f55e62" fill-rule="evenodd" d="M213.5 43.1L209.5 43.4L206 42.4L202.5 40.2L199.6 37L197 32.8L195.1 28L193.9 22.5L193.4 16.5L228 16.5L227.6 21.5L226.8 26L225.5 30.1L223.7 34L221.5 37.4L219 40L216.5 41.8L213.5 43.1ZM112.5 135L109 134.7L105.5 133.2L102.5 130.8L99.8 127.5L97.5 123.2L95.8 118.5L94.8 113.5L94.4 108L94.7 102.5L95.7 97L97.4 92L99.4 88L102 84.6L105 82L108 80.5L111.5 79.9L115 80.4L118 81.8L121 84.2L123.6 87.5L125.8 91.5L127.4 96L128.5 101L129 106.5L128.8 112L127.9 117L126.5 121.7L124.5 126L122 129.6L119 132.5L116 134.2L112.5 135ZM227.5 199.5L193.4 199.5L193.8 193L195.1 187L197.3 181.5L200 177.3L202 175.2L204.1 173.5L206.5 172.3L209 171.6L211.5 171.5L214 172L216.5 173.1L218.5 174.4L220.5 176.3L222.6 179L224.3 182L225.7 185.5L226.9 189.5L227.6 193.5L228 199.5L227.5 199.5Z"/>
<path fill="#f85456" fill-rule="evenodd" d="M212.5 41.5L209 41.6L206 40.6L202.8 38.5L200 35.3L197.8 31.5L196 27L194.9 22L194.5 16.5L226.9 16.5L226.6 21L225.7 25.5L224.4 29.5L222.5 33.5L220.5 36.4L218 38.9L215.5 40.5L212.5 41.5ZM114 133L110.5 133.2L107.5 132.4L104.5 130.6L101.5 127.5L99.2 124L97.5 119.9L96.2 115L95.6 110L95.6 104.5L96.3 99.5L97.5 95L99.5 90.5L101.8 87L104.5 84.3L107.5 82.5L111 81.6L114 81.9L117 83L120 85.3L122.4 88L124.5 91.5L126.1 95.5L127.2 100L127.8 105L127.8 110L127.2 115L126 119.5L124.4 123.5L122.3 127L119.6 130L117 131.9L114 133ZM226.5 199.5L194.5 199.5L194.8 193.5L196 188L198 182.9L200.8 178.5L204.5 175.1L206.5 174.1L209 173.3L211.5 173.2L213.5 173.6L216 174.6L218 176L220 177.9L222 180.5L224.7 186L225.7 189.5L226.5 193.5L226.9 199L226.9 199.5L226.5 199.5Z"/>
<path fill="#fb4a4a" fill-rule="evenodd" d="M213.5 39.5L210 40L207 39.3L204 37.5L201.1 34.5L198.9 31L197.1 26.5L196 21.5L195.6 16.5L225.8 16.5L225.5 20.5L224.8 24.5L223.7 28L222.2 31.5L220.5 34.2L218.5 36.5L216 38.4L213.5 39.5ZM112.5 131.5L109.5 131.3L106.5 130.1L104 128.2L101.5 125.2L99.5 121.7L98 117.5L97 113L96.6 108L96.8 103L97.7 98.5L99 94.4L100.9 90.5L103.2 87.5L106 85.1L108.5 83.9L111.5 83.3L114.5 83.8L117.2 85L120 87.3L122.1 90L124 93.5L125.5 97.5L126.4 102L126.8 106.5L126.7 111L125.9 115.5L124.8 119.5L123 123.5L120.5 127L118 129.4L115.5 130.8L112.5 131.5ZM225.5 199.5L195.6 199.5L195.9 194L197.1 188.5L199 183.7L201.5 179.9L203.5 177.8L205.3 176.5L207.5 175.5L209.5 175L211.5 175L213.5 175.4L215.5 176.2L217.5 177.5L219.5 179.5L221 181.5L223.8 187L225.5 194L225.8 198.5L225.8 199.5L225.5 199.5Z"/>
<path fill="#fe3f3e" fill-rule="evenodd" d="M212.5 38L209.5 38.2L206.5 37.2L203.9 35.5L201.5 32.8L199.5 29.5L198 25.5L197 21L196.6 16.5L224.7 16.5L224.4 20.5L223.6 24.5L222.5 28L221 31L219 33.9L217 35.8L215 37.1L212.5 38ZM114 129.5L111 129.8L108.5 129.2L106 127.9L103.4 125.5L101.3 122.5L99.5 118.5L98.4 114.5L97.8 110L97.7 105.5L98.3 101L99.5 96.5L101 93L103 89.9L105.5 87.4L108 85.9L111 85.1L114 85.4L116.5 86.4L119 88.4L120.9 90.5L122.7 93.5L124.1 97L125.1 101L125.6 105L125.7 109.5L125.2 113.5L124.2 117.5L122.9 121L121 124.2L119 126.6L116.5 128.5L114 129.5ZM224.5 199.5L196.6 199.5L196.9 194.5L198 189.5L199.7 185L202 181.5L205.5 178.2L207.5 177.2L209.5 176.7L211.5 176.7L213.5 177.1L217 179.1L220.1 182.5L222.7 187.5L224.3 194L224.7 198L224.5 199.5Z"/>
<path fill="#ff3734" fill-rule="evenodd" d="M213.5 36L210.5 36.5L208 36L205.2 34.5L203 32.5L200.5 28.6L199 24.7L198 20L197.8 16.5L223.6 16.5L223.4 19L222.5 24L220.5 29.2L217.5 33.3L215.5 35L213.5 36ZM112.5 128L110.5 128L107.5 127L105 125.1L103 122.7L101 119L100 116.2L99 111.5L98.8 108.5L99 103.5L99.5 100.5L101 96L102.5 93L104.5 90.4L106.6 88.5L108.5 87.5L111.5 86.9L113.5 87L116 88L118.5 89.9L120.5 92.4L122 95L123.5 99L124.5 104.5L124.6 106.5L124.5 110.4L124 113.8L123 117.5L121.5 120.9L119.5 123.9L118 125.5L115.8 127L112.5 128ZM223.5 199.5L197.8 199.5L198 194.9L199 190.2L200.5 186.3L202.5 183.1L205.7 180L207.5 179.1L209.5 178.5L211.9 178.5L213.5 178.9L216.3 180.5L219.5 184L222 189L223 193L223.5 196.5L223.5 199.5Z"/>
<path fill="#ff322c" fill-rule="evenodd" d="M212 33.6L209.5 33.6L207.5 33L205.5 31.7L203.5 29.5L201.9 27L200.6 23.5L199.8 20L199.5 16.5L221.8 16.5L221.1 22.5L220.1 25.5L218.9 28L217.5 30L215.5 32L214 32.9L212 33.6ZM113.5 125.1L111 125.3L109 124.8L106.8 123.5L104.8 121.5L103.2 119L101.9 116L101 112.5L100.6 109L100.6 105.5L101 102L102 98.5L103.4 95.5L105 93.2L107 91.3L109 90.1L111.5 89.6L113.5 89.8L115.5 90.7L117.5 92.2L119 94L120.5 96.5L121.7 99.5L122.4 102.5L122.8 106L122.4 112.5L121.7 115.5L120.5 118.5L119 121L117.5 122.7L115.5 124.2L113.5 125.1ZM221.5 199.5L199.5 199.5L199.7 195.5L200.5 191.5L202 187.8L204 184.7L207 182.2L210 181.2L213 181.6L216 183.4L218.5 186.3L220.5 190.5L221.7 196L221.9 199.5L221.5 199.5Z"/>
<path fill="#ff2c24" fill-rule="evenodd" d="M212.5 30.6L210.5 30.9L208.5 30.5L206.5 29.4L205 27.9L203.5 25.6L202.4 23L201.6 20L201.2 16.5L220.1 16.5L219.5 21.1L217.9 25.5L215.5 28.8L214 29.9L212.5 30.6ZM114 122L112 122.5L110 122.2L108 121.3L106.5 120L105 118L103.7 115.5L102.4 110L102.3 106.5L102.6 103.5L103.3 100.5L104.4 98L106 95.5L107.5 94L109 93L111 92.5L113 92.6L114.5 93.1L116 94.1L117.5 95.6L118.8 97.5L119.9 100L121 105L120.9 111L119.5 115.9L117 119.9L115.5 121.2L114 122ZM220 199.5L201.2 199.5L201.4 196L202.2 192.5L203.4 189.5L205 187L207.5 184.9L210 184L212.5 184.3L215 185.7L217.1 188L218.8 191.5L219.8 195.5L220 199.5Z"/>
<path fill="#ff261b" fill-rule="evenodd" d="M211.5 26.1L209 25.9L207.6 25L206.5 23.8L204.9 20.5L204.2 16.5L217.1 16.5L216.6 20L215.4 23L213.5 25.2L211.5 26.1ZM113 117.6L110.5 117.6L109 116.9L108 115.9L106 112.5L105.2 108.5L105.6 104L106.9 100.5L109 98L111.5 97.1L114 97.8L116 99.7L117.5 102.8L118.2 106.5L118 110L117 113.5L115.3 116L113 117.6ZM217 199.5L204.2 199.5L204.3 197L204.8 194.5L205.6 192.5L207 190.5L208.5 189.3L210.5 188.7L212.5 189.1L214 190.2L215.4 192L216.5 194.5L217.1 197.5L217 199.5Z"/>
<path fill="#ff2113" fill-rule="evenodd" d="M211 21L209.5 20.7L208.5 19.7L207.9 18.5L207.5 16.5L213.9 16.5L213 19.5L212 20.6L211 21ZM112 112.6L111 112.5L109.7 111.5L108.9 110L108.5 108L108.6 106L109.3 104L110.5 102.6L111.5 102.3L112.6 102.5L113.8 103.5L114.6 105L114.9 107L114.8 109L114.1 111L113 112.2L112 112.6ZM213.5 199.5L207.4 199.5L207.8 196.5L209 194.6L210 194L211 193.9L212.5 194.8L213.8 197.5L213.9 199.5L213.5 199.5Z"/>
<path fill="none" stroke="#555" stroke-opacity="0.6" stroke-width="0.6" d="M59.9 16.5L59.2 32L57.7 51.5L57.7 60.5L59.4 82.5L60.9 91L61.8 98L62.2 108.5L61.5 119.5L59.4 132.5L57.7 153.5L57.7 199.5M240 76.3L234.5 82.1L228.5 86.8L223 89.7L220 90.8L216 91.8L209.5 92.3L203 91.3L196.5 88.9L190 84.8L184.1 79.5L179.2 73.5L174.2 65.5L170.3 57L167.2 48L164.7 37.5L163.3 27L162.7 16.5M116 183.5L111 183.9L106 183.3L102 182.3L97 180.2L93 177.8L88.5 174.3L84.2 170L80.2 165L77.2 160.5L73.7 154L71.3 148.5L68.8 141.5L66.8 134L65.3 126.5L64.3 118.5L63.8 111.5L63.8 104.5L64.3 96.5L65.3 88.5L66.7 81L68.8 73.5L70.7 68L73.2 62L76.3 56L79.7 50.5L83.2 46L88 41.1L92 37.8L97 34.7L101.5 32.8L105.5 31.7L110.5 31.1L115 31.2L120 32.2L124.5 33.8L129 36.2L132.5 38.6L137 42.6L140.2 46L144.3 51.5L147.7 57L150.2 62L152.7 68L155.2 75.5L156.8 81.5L158.3 89.5L159.2 97.5L159.6 104L159.2 117.5L158.3 125.5L157.2 131.5L155.3 139L153.3 145.5L150.9 151.5L148.2 157L145.3 162L141.3 167.5L137.3 172L133 175.9L129 178.7L125 180.9L120 182.7L116 183.5M162.7 199.5L163.2 188L164.7 177.5L167.2 167L170.2 158L174.2 149.5L178.8 142L184.1 135.5L190 130.1L196 126.3L202.5 123.7L209 122.7L212.5 122.7L216 123.1L222 124.8L228.5 128.1L234.5 132.7L240 138.6"/>
<path fill="none" stroke="#555" stroke-opacity="0.6" stroke-width="0.6" d="M55.3 16.5L54.2 32.5L51.7 56L51.7 85.5L52.3 107.5L51.7 129.5L51.7 199.5M240 60.2L235.7 66.5L231 71.6L225.5 75.8L219.5 78.8L213.5 80.2L208 80.2L202 78.8L196.5 76.2L190.5 71.7L185.6 66.5L181.2 60L177.2 52L174.3 44L172.2 36L170.7 26L170.2 16.5M116 171.5L112.5 171.9L108.5 171.7L104 170.7L100 169.2L96.5 167.2L92.5 164.2L89.2 161L85.8 157L82.8 152.5L80.3 148L77.8 142.5L75.8 137L74.2 131.5L72.7 124.5L71.7 117.5L71.3 111.5L71.3 105L71.6 98.5L73.2 87.5L74.7 81.5L76.8 75L78.8 70L81.3 65L84.3 60L87.8 55.5L91 52.1L94.5 49.1L98 46.8L102.5 44.7L106 43.6L110 43.1L114 43.1L117.5 43.6L121 44.7L124.5 46.3L128.5 48.8L132 51.7L135.2 55L138.4 59L141.3 63.5L143.7 68L146.3 74L147.8 78.5L149.2 83.5L150.7 90.5L151.9 101.5L152.1 108L151.9 115L150.2 127L147.3 138L145.2 143.5L142.9 148.5L140.3 153L137.2 157.5L134.2 161L131 164.1L127.5 166.8L124 168.9L119.5 170.7L116 171.5M170.2 199.5L170.7 189.5L171.8 181.5L173.7 173L176.7 164L180.3 156.5L184.8 149.5L190 143.6L195.5 139.3L201.5 136.2L207.5 134.8L213.5 134.7L219.5 136.1L225 138.8L231 143.3L235.8 148.5L240 154.7"/>
<path fill="none" stroke="#555" stroke-opacity="0.6" stroke-width="0.6" d="M49.7 16.5L49.5 18.3M240 46.2L236.5 53.4L232.5 59.4L228 64.3L223 68L217.5 70.5L212 71.6L206.5 71.2L201 69.4L196 66.5L191 62L186.5 56.1L182.8 49.5L179.8 42L177.6 34L176.2 25.5L175.7 16.5M114.5 163L111 163.2L107.5 162.8L104 161.8L100.5 160.3L97 158L94 155.5L91.1 152.5L88.5 149.2L86 145.2L83.8 141L80.2 131.5L77.8 121L76.8 110L77.1 99L78.9 88L82 78L86.1 69.5L88.7 65.5L91.5 62L94.5 58.9L97.5 56.5L100.5 54.6L104 53.1L107.5 52.1L111 51.7L114.5 51.9L117.5 52.5L121 53.7L124 55.3L127 57.3L130 60L133 63.3L135.5 66.6L140 74.7L143.4 84L145.6 94L146.6 104.5L146.3 115L144.8 125.5L141.9 135.5L138 144.2L133.1 151.5L130.5 154.4L127.5 157.2L124.5 159.3L121 161.2L118 162.3L114.5 163M175.7 199.5L176.1 190.5L177.4 182L179.6 173.5L182.5 166L186 159.5L190.5 153.5L195.5 148.8L200.5 145.7L206 143.8L211.5 143.3L217 144.2L222.5 146.6L227.9 150.5L232.5 155.5L236.5 161.5L240 168.7"/>
<path fill="none" stroke="#555" stroke-opacity="0.6" stroke-width="0.6" d="M240 21.1L239 29L236.9 37.5L234 44.7L230 51.4L225.5 56.5L220.5 60.2L217.9 61.5L215 62.4L212 62.9L209.5 62.9L206.7 62.5L204 61.7L198.9 59L194 54.7L189.5 48.6L186 41.7L183.4 34L181.8 25.5L181.2 16.5M112 154.5L109 154.3L106 153.6L103.2 152.5L100.5 151L95.5 146.8L91 141L87.5 134.4L84.5 125.7L82.8 117L82.2 108L82.7 99L84.3 90L87 81.7L90.5 74.7L95 68.7L100 64.3L103 62.5L105.5 61.4L108.5 60.7L111.5 60.4L114.5 60.6L117.5 61.3L120.4 62.5L123 64L128 68.2L132.5 74L136.1 81L139 89.5L140.6 98L141.2 107L140.7 116L139.1 125L136.5 133L133 140L128.5 146.1L123.5 150.6L121 152.1L118 153.4L115 154.2L112 154.5M181.2 199.5L181.6 191L183 182.5L185.5 174.5L189.1 167L193 161.4L198 156.5L201 154.6L203.5 153.4L206.3 152.5L209 152.1L212 152L215 152.5L220.2 154.5L223 156.3L225.5 158.4L230 163.5L234 170.2L236.9 177.5L239 185.9L240 193.9"/>
<path fill="none" stroke="#555" stroke-opacity="0.6" stroke-width="0.6" d="M234.5 16.5L234 23.5L232.7 30.5L230.3 37.5L227.4 43L223.5 47.9L219.5 51.2L215 53.2L210.5 53.9L206 53.1L201.5 51L197.5 47.5L193.7 42.5L190.9 37L188.7 30.5L187.3 23.5L186.8 16.5M115 145.1L112.5 145.4L110 145.4L105.5 144.2L101 141.4L96.7 137L93.2 131.5L90.7 125.5L88.8 118L87.9 110.5L88 103L89.1 95.5L90.9 89L93.7 82.5L97.4 77L101.5 73.1L106 70.5L108.5 69.8L111 69.5L115.5 69.9L120 71.8L124 74.9L127.5 79L130.7 84.5L132.9 90L134.6 97L135.4 104L135.4 111L134.6 118L132.8 125L130.4 131L127.1 136.5L123.5 140.5L119.5 143.4L115 145.1M186.8 199.5L187.2 192L188.6 184.5L190.8 178L193.6 172.5L197.4 167.5L201.5 164L206 161.8L210.5 161L213 161.2L215.5 161.8L220 164.1L224 167.5L227.7 172.5L230.7 178.5L232.8 185L234.2 192.5L234.5 199.5"/>
<path fill="none" stroke="#555" stroke-opacity="0.6" stroke-width="0.6" d="M229.1 16.5L228.7 22L227.5 27.5L225.8 32.5L223.5 36.9L220.6 40.5L217.5 43.1L214 44.7L210.5 45.2L207 44.6L203.5 42.9L200.5 40.3L197.6 36.5L195.5 32.4L193.8 27.5L192.7 22L192.3 16.5M114 136.5L110 136.6L106.5 135.6L103 133.3L100 130.1L97.5 126L95.4 121L94 115.5L93.4 110L93.4 104L94.2 98.5L95.7 93L97.9 88L100.7 84L104 80.8L107.5 78.9L111 78.2L114.5 78.5L118 79.9L121 82.2L123.9 85.5L126.2 89.5L128.2 94.5L129.4 99.5L130 105L130 110.5L129.3 116L128 121L126 125.9L123.5 129.9L120.5 133.2L117.5 135.3L114 136.5M192.3 199.5L192.6 193.5L193.6 188L195.3 183L197.5 178.6L200.5 174.6L203.5 172L207 170.3L210.5 169.7L214 170.2L217.5 171.8L221 174.8L223.8 178.5L226.1 183L227.7 188L228.7 193.5L229.1 199.5"/>
<path fill="none" stroke="#555" stroke-opacity="0.6" stroke-width="0.6" d="M223.6 16.5L223.4 19L222.5 24.2L221.5 27.1L219.5 30.9L217.5 33.3L215.5 35L213.5 36L210.5 36.5L208 36L205.9 35L203.5 33L201.5 30.4L200 27.5L199 24.7L198 20L197.8 16.5M112.5 128L110.5 128L107.5 127L105 125.1L103 122.7L101 119L100 116.2L99 111.5L98.8 108.5L99 103.5L99.5 100.5L101 96L102.5 93L104.5 90.4L106.6 88.5L108.5 87.5L111.5 86.9L113.5 87L116 88L118.5 89.9L120.5 92.4L122 95L123.5 99L124.5 104.5L124.6 106.5L124.5 110.4L124 113.8L123 117.5L121.5 120.9L119.5 123.9L118 125.5L115.8 127L112.5 128M197.8 199.5L198 195L198.5 192L200 187.5L201.5 184.5L203 182.4L205 180.5L207.6 179L210.5 178.4L213.5 178.9L215.5 179.9L217.5 181.5L219.5 184L221 186.7L222.5 190.7L223.5 196L223.6 199.5"/>
</g>
<g clip-path="url(#cc)">
<rect x="49.4" y="246.6" width="191.2" height="183" fill="#1904ff"/>
<path fill="#220eff" fill-rule="evenodd" d="M81.9 290.6L77.4 290.6L72.9 289.3L68.4 286.7L64.5 283.1L61.1 278.6L58.3 273.6L56 268.1L53.9 260.3L53.4 259.6L52.4 259.6L52.1 260.1L49.4 271.3L49.4 246.6L107.1 246.6L106.6 254.6L105.2 262.6L102.9 270.1L99.8 276.6L96 282.1L91.9 286.2L86.9 289.2L81.9 290.6ZM212.4 304.1L208.9 304.2L205.9 303.9L202.4 303.1L199.4 302L195.9 300.2L192.9 298.2L187.3 293.1L182.3 286.6L178 278.6L174.9 270.1L172.4 259.6L170.9 259.7L168.3 269.1L164.5 277.1L160.9 282.3L156.4 286.6L151.4 289.5L148.9 290.3L145.9 290.7L142.9 290.6L140.4 290.1L135.4 288L131.9 285.4L128.3 281.6L125.2 277.1L122.4 271.6L120.4 266L118.8 259.6L117.9 253.1L117.6 246.6L240.4 246.6L240.4 281.5L237.9 285.9L235 290.1L232.1 293.6L228.9 296.7L224.9 299.6L220.9 301.8L216.9 303.3L212.4 304.1ZM240.4 429.6L117.6 429.6L118.2 420.1L120 411.1L121.9 405.6L124.2 400.6L126.9 396.1L130.1 392.1L129.9 391.6L128.4 391L124.4 393.4L120.9 394.9L117.4 395.8L113.4 396.3L108.9 396.1L104.9 395.3L100.9 393.8L96.9 391.5L96.2 391.6L95.1 392.6L97.9 396.3L100.2 400.1L102.2 404.1L103.9 408.6L105.3 413.6L106.3 418.6L106.9 424.1L107.1 429.6L49.4 429.6L49.4 404.6L52.1 415.6L52.4 416.3L53.4 416.3L53.9 415.6L56.4 406.6L59.4 400.1L63.4 394.1L65.9 391.3L68.4 389.2L73.4 386.4L75.9 385.6L78.9 385.1L81.9 385.3L84.4 385.8L90.1 388.1L89.9 385.6L84.4 378.3L80.1 370.1L77.5 363.1L76 357.6L74.9 352L74.4 351.7L73.4 351.7L73.2 352.1L71.2 359.6L68.8 365.6L66.4 370L63.9 373.6L60.4 377.3L56.9 380L53.4 381.7L49.4 382.7L49.4 294.1L53.4 295.1L57.4 297.2L60.9 299.9L64.2 303.6L67.2 308.1L69.6 313.1L71.5 318.1L73.4 325.1L74.9 324.8L77.1 315.1L80.3 306.1L83.4 300.1L86.7 295.1L90.9 290.2L95.7 286.1L100.7 283.1L105.9 281.2L109.4 280.6L113.4 280.5L116.9 280.9L120.4 281.8L123.9 283.2L127.3 285.1L130.4 287.4L133.4 290.1L138.8 296.6L143.4 304.6L146.9 313.5L149.9 325.1L150.9 325.1L151.2 324.6L153.8 315.6L157.4 307.9L161.1 302.6L165.4 298.4L170.4 295.4L172.9 294.5L175.9 294L178.9 294L181.4 294.4L186.4 296.5L189.9 299L192.9 301.9L195.9 305.9L198.4 310.2L200.5 315.1L202.3 320.6L203.5 326.1L204.3 332.1L204.6 337.6L204.4 343.6L203.8 349.1L202.7 354.6L200.9 360.7L198.4 366.6L195.4 371.7L191.8 376.1L193.4 376.9L201.4 373.1L204.9 372.1L208.9 371.7L213.4 371.9L217.4 372.8L221.4 374.3L225.4 376.5L227.2 375.6L223.5 370.6L220.9 366L218.5 360.1L216.8 354.1L215.6 347.6L215 340.6L215.2 333.6L215.9 327.1L217.3 320.6L219.3 314.6L221.8 309.1L224.9 304.2L228.4 300.1L232.2 297.1L236.4 295L240.4 294L240.4 382.8L236.9 382L232.4 379.9L232.1 380.1L232.4 382.6L236.7 388.1L240.4 394.4L240.4 429.6ZM172.5 416.1L174.7 406.6L177.7 398.1L179.9 393.4L182.4 389.2L184.9 385.6L187.9 382.1L188.2 379.6L187.9 379.5L184.9 381.1L181.9 382.2L176.9 382.9L173.9 382.5L171.4 381.8L168.9 380.7L166.3 379.1L161.8 375.1L157.8 369.6L155.7 365.6L154 361.6L151.4 352.6L150.9 351.7L149.9 351.7L147.1 362.6L144.4 370.1L139.9 378.6L134.2 386.1L133.9 388.6L139.9 385.9L144.9 385.1L147.9 385.4L150.4 386L153.4 387.4L155.9 388.9L160.4 393L164.1 398.1L166.3 402.1L168.2 406.6L170.9 416.2L172.5 416.1Z"/>
<path fill="#2c16ff" fill-rule="evenodd" d="M81.4 288.1L76.4 287.8L71.9 286.2L67.9 283.5L63.9 279.2L60.5 274.1L57.8 268.1L55.8 261.6L54.4 253.6L51.4 253.3L49.4 265.2L49.4 246.6L105.6 246.6L105.1 254.6L103.7 262.1L101.4 269.1L98.5 275.1L94.9 280.3L90.9 284.1L86.4 286.8L81.4 288.1ZM211.9 302.1L208.4 302.1L204.9 301.7L201.4 300.7L198.4 299.4L194.9 297.3L192 295.1L186.4 289.3L183.8 285.6L181.4 281.6L177.6 273.1L174.9 263.6L173.4 253.4L170.4 253.6L168.4 263.3L165.6 271.1L161.6 278.1L159.4 280.9L156.9 283.3L154.4 285.2L151.9 286.6L149.4 287.6L146.4 288.1L143.4 288.1L140.9 287.7L138.4 286.9L135.9 285.6L132.4 283L129.2 279.6L126.4 275.5L123.9 270.6L121.8 265.1L120.3 259.1L119.5 253.1L119.1 246.6L240.4 246.6L240.4 277.6L238.9 280.6L236.4 285.1L233.4 289.3L230.4 292.7L226.9 295.9L223.4 298.3L219.4 300.3L215.9 301.4L211.9 302.1ZM115.4 394.1L111.9 394.3L108.4 394L104.9 393.2L101.4 391.8L97.9 389.9L94.9 387.7L89.3 382.1L86.6 378.6L84.2 374.6L80.3 366.1L77.5 357.1L75.4 345.5L72.9 345.7L72.7 346.1L71.1 354.1L69.2 360.1L66.5 366.1L63.4 371L60.4 374.4L56.9 377.2L53.4 379.1L49.4 380.2L49.4 296.6L53.4 297.7L56.9 299.6L60.4 302.4L63.4 305.8L66.5 310.6L69.2 316.6L71 322.6L72.6 330.6L72.9 331.1L75.4 331.4L77.2 321.1L79.2 313.6L82.2 306.1L85.7 299.6L89.9 294L94.9 289.1L100.4 285.5L105.9 283.3L109.4 282.6L113.4 282.5L116.9 282.9L120.4 283.9L123.9 285.4L127.4 287.5L130.8 290.1L133.9 293.2L136.7 296.6L139.3 300.6L141.8 305.1L143.8 309.6L146.9 319.6L148.9 331.4L151.9 331L153.7 321.6L156.7 313.1L158.8 309.1L160.9 306L163.4 303.1L166.1 300.6L168.9 298.7L171.4 297.6L174.4 296.7L177.4 296.5L180.4 296.8L182.9 297.5L185.9 298.9L188.4 300.6L191.4 303.3L193.9 306.4L196.3 310.1L198.3 314.1L200 318.6L201.4 323.6L202.9 333.6L203 339.1L202.8 344.1L202.2 349.1L201.2 354.1L199.7 359.1L197.9 363.5L195.8 367.6L193.4 371.1L190.8 374.1L187.9 376.6L184.9 378.5L181.9 379.7L178.9 380.3L175.4 380.2L171.9 379.4L168.9 378.1L166.4 376.4L163.7 374.1L161.4 371.4L159.1 368.1L156.5 363.1L154.4 357.7L152.9 352.1L151.9 345.8L148.9 345.4L147.2 355.6L145.1 363.6L141.8 371.6L137.8 378.6L132.9 384.7L127.4 389.3L121.4 392.6L115.4 394.1ZM240.4 380.2L235.4 378.8L231 376.1L226.9 372L223.4 366.9L220.5 360.6L218.3 353.6L217 346.1L216.6 338.6L217 330.6L218.3 323.1L220.5 316.1L223.4 309.9L226.9 304.8L231.2 300.6L235.9 297.8L240.4 296.6L240.4 380.2ZM240.4 429.6L119.1 429.6L119.4 423.1L120.3 417.1L121.7 411.1L123.7 405.6L126.3 400.6L129 396.6L132.4 392.9L135.9 390.3L138.4 389L140.9 388.2L143.4 387.7L146.4 387.7L149.4 388.3L151.9 389.3L154.4 390.6L156.9 392.5L161.5 397.6L163.8 401.1L165.5 404.6L168.4 412.6L170.4 422.2L173.4 422.6L174.8 412.6L177.4 403.4L180.9 395.1L185.6 387.6L190.9 381.7L193.9 379.3L196.9 377.3L199.9 375.8L203.4 374.6L206.4 373.9L209.9 373.7L213.9 374L217.9 375L221.9 376.7L225.7 379.1L229.3 382.1L232.6 385.6L235.6 389.6L238.3 394.1L240.4 398.3L240.4 429.6ZM105.4 429.6L49.4 429.6L49.4 410.7L51.4 422.6L54.4 422.2L55.9 414L58.3 406.6L61.5 400.1L65.4 394.8L69.9 390.9L72.4 389.4L74.9 388.4L79.9 387.7L84.9 388.5L88.9 390.4L93 393.6L96.8 398.1L99.8 403.1L102.3 409.1L104.2 416.1L105.3 423.6L105.4 429.6Z"/>
<path fill="#361fff" fill-rule="evenodd" d="M49.4 255.9L49.4 246.6L50 246.6L49.4 255.9ZM80.9 285.6L78.4 285.6L75.9 285.2L71.4 283.2L66.9 279.6L63.3 275.1L60.1 269.1L57.7 262.1L56.2 254.6L55.6 246.6L104 246.6L103.5 254.1L102.2 261.1L100.2 267.6L97.2 273.6L93.9 278.3L89.9 282.1L85.4 284.6L80.9 285.6ZM146.4 285.6L143.9 285.7L141.4 285.3L136.9 283.5L132.4 280.1L128.4 275.2L125.1 269.1L122.7 262.1L121.2 254.6L120.7 246.6L169.1 246.6L168.6 254.1L167.3 261.1L165.2 267.6L162.4 273.4L158.9 278.4L154.9 282.1L150.9 284.4L146.4 285.6ZM211.4 300.1L207.9 300.1L204.4 299.5L200.9 298.4L197.4 296.6L193.9 294.3L190.9 291.6L188.1 288.6L185.5 285.1L181 277.1L177.6 267.6L175.4 257.1L174.7 246.6L240.4 246.6L240.4 273.2L237 280.6L234.4 285L231.7 288.6L228.9 291.6L225.5 294.6L221.9 296.9L218.4 298.6L214.9 299.6L211.4 300.1ZM114.9 392.1L111.4 392.3L107.9 391.9L104.4 390.9L100.9 389.4L97.4 387.3L94.4 384.9L91.6 382.1L88.9 378.7L86.4 375L84 370.6L80.5 361.6L78.1 351.6L77.1 341.1L77.4 330.6L79.1 320.1L82.1 310.6L84.1 306.1L86.4 301.8L88.9 298.1L91.7 294.6L94.8 291.6L97.9 289.2L100.9 287.4L104.4 285.9L107.9 284.9L111.4 284.5L114.9 284.7L118.4 285.4L121.9 286.6L124.9 288.1L127.9 290.2L130.9 292.7L133.6 295.6L136.3 299.1L140.6 306.6L144.1 315.6L146.4 325.5L147.4 335.6L147.1 346.1L145.5 356.1L142.6 365.6L138.6 374.1L133.7 381.1L130.9 384.1L127.9 386.6L124.9 388.7L121.4 390.4L118.4 391.4L114.9 392.1ZM179.4 377.7L176.9 377.8L174.4 377.5L169.9 375.9L165.4 372.7L161.4 368.2L157.9 362.1L155.5 355.6L153.8 348.1L153.1 340.6L153.3 332.6L154.5 325.1L156.5 318.1L159.5 311.6L163.4 306.1L167.4 302.4L171.9 300L174.4 299.3L176.9 299L181.4 299.6L185.9 301.6L190.2 305.1L193.9 309.8L197 315.6L199.3 322.1L200.8 329.1L201.4 336.6L201.2 344.1L200.1 351.6L198.1 358.6L195.4 364.5L192.1 369.6L188.2 373.6L183.9 376.3L179.4 377.7ZM49.4 377.7L49.4 299.2L53.9 300.5L57.9 303.1L61.9 307.1L65.2 312.1L67.9 318L69.8 324.6L71 331.6L71.4 338.6L71 345.6L69.8 352.6L67.8 359.1L65 365.1L61.6 370.1L57.9 373.7L53.9 376.3L49.4 377.7ZM240.4 377.7L235.9 376.4L231.9 374L227.9 370.1L224.5 365.1L221.7 359.1L219.7 352.6L218.5 345.6L218.1 338.6L218.5 331.1L219.8 324.1L221.8 317.6L224.4 311.9L227.9 306.8L231.6 303.1L235.9 300.4L240.4 299.1L240.4 377.7ZM240.4 429.6L174.7 429.6L174.9 423.6L175.6 417.6L176.6 412.1L178.1 406.6L179.9 401.4L182.1 396.6L184.6 392.1L187.4 388.2L191.4 383.8L196 380.1L200.9 377.5L205.9 376.1L210.9 375.7L216.2 376.6L221.3 378.6L225.9 381.6L230.2 385.6L234.2 390.6L237.5 396.1L240.4 402.7L240.4 429.6ZM103.9 429.6L55.6 429.6L56.3 420.6L58.1 412.1L61.4 404.1L65.4 397.9L68.4 394.8L71.4 392.6L74.4 391.2L77.9 390.3L81.4 390.3L84.4 390.9L87.9 392.5L90.9 394.6L93.9 397.6L96.4 400.9L98.5 404.6L100.5 409.1L102.1 414.1L103.1 419.1L103.9 425.1L103.9 429.6ZM168.9 429.6L120.7 429.6L121.3 420.6L123.2 412.1L126.4 404.1L130.4 398L133.4 394.9L136.4 392.7L139.4 391.2L142.9 390.3L146.4 390.3L149.4 390.9L152.9 392.4L155.9 394.5L158.9 397.5L161.4 400.8L163.6 404.6L165.5 409.1L167.1 414.1L168.3 419.6L168.9 425.6L168.9 429.6ZM49.9 429.6L49.4 429.6L49.4 420L49.9 429.6Z"/>
<path fill="#3f28ff" fill-rule="evenodd" d="M80.9 283.1L76.4 282.7L71.9 280.8L67.9 277.6L64.3 273.1L61.3 267.6L59.1 261.1L57.7 254.1L57.2 246.6L102.5 246.6L102 253.6L100.8 260.1L98.9 266.1L96.3 271.6L93.1 276.1L89.4 279.7L85.4 282L80.9 283.1ZM145.9 283.1L141.4 282.7L136.9 280.8L132.9 277.6L129.3 273.1L126.4 267.6L124.1 261.1L122.7 254.1L122.2 246.6L167.5 246.6L167.1 253.6L165.7 260.6L163.8 266.6L161 272.1L157.7 276.6L153.9 280.1L149.9 282.2L145.9 283.1ZM210.4 298.1L206.9 297.9L203.9 297.3L200.4 296L197.4 294.4L194.4 292.3L191.5 289.6L186.4 283.3L182.2 275.6L179 266.6L177 256.6L176.3 246.6L240.4 246.6L240.4 268L238 274.6L234.9 280.9L232.5 284.6L229.9 287.9L226.9 291L223.9 293.4L220.9 295.3L217.4 296.8L213.9 297.7L210.4 298.1ZM114.4 390.1L110.9 390.2L107.9 389.8L104.4 388.8L101.4 387.5L98.4 385.6L95.4 383.3L92.4 380.3L89.9 377.1L85.4 369.6L81.9 360.6L79.6 350.6L78.7 340.6L79 330.6L80.7 320.6L83.7 311.1L87.6 303.1L90 299.6L92.8 296.1L95.4 293.5L98.4 291.2L101.4 289.3L104.9 287.8L107.9 287L111.4 286.6L114.9 286.7L117.9 287.3L121.4 288.5L124.4 290.1L127.4 292.2L130.2 294.6L135.2 300.6L139.5 308.1L142.7 316.6L144.9 326.1L145.8 336.1L145.5 346.1L143.8 356.1L141 365.1L137.2 373.1L132.4 379.9L129.8 382.6L126.9 385L123.9 387L120.9 388.5L117.9 389.5L114.4 390.1ZM179.4 375.1L174.9 375.1L170.4 373.5L166.2 370.6L162.4 366.2L159.4 361.1L156.9 354.6L155.3 347.6L154.7 340.6L154.9 333.1L156 325.6L158 319.1L160.8 313.1L164.4 308.1L168.2 304.6L172.4 302.4L176.9 301.5L181.4 302.1L185.4 304L189.4 307.3L192.8 311.6L195.8 317.1L197.9 323.1L199.3 329.6L199.9 336.6L199.7 343.6L198.6 350.6L196.9 356.8L194.4 362.5L191.4 367.2L187.7 371.1L183.9 373.7L179.4 375.1ZM49.4 375.1L49.4 301.7L53.4 302.9L57.4 305.5L60.9 309.1L63.9 313.6L66.5 319.1L68.3 325.1L69.4 331.6L69.8 338.6L69.4 345.1L68.3 351.6L66.4 357.9L63.9 363.3L60.9 367.7L57.4 371.3L53.4 373.9L49.4 375.1ZM240.4 375.2L236.4 374L232.4 371.6L228.9 368.1L225.8 363.6L223.2 358.1L221.3 352.1L220.1 345.6L219.7 338.6L220.1 331.6L221.2 325.1L223 319.1L225.6 313.6L228.9 308.7L232.4 305.2L236.4 302.8L240.4 301.7L240.4 375.2ZM240.4 429.6L176.3 429.6L177.1 418.6L179.3 408.1L181 403.1L183 398.6L185.4 394.1L187.9 390.4L191.6 386.1L195.9 382.5L200.4 379.9L205.4 378.2L210.4 377.8L214.9 378.3L219.9 380.1L224.4 382.8L228.9 386.8L233.1 392.1L236.8 398.6L239.7 405.6L240.4 407.8L240.4 429.6ZM102.4 429.6L57.2 429.6L57.8 421.1L59.6 413.1L62.4 406L66.2 400.1L68.9 397.3L71.9 395L74.9 393.6L77.9 392.8L80.9 392.8L83.9 393.3L86.9 394.6L89.9 396.6L92.4 398.9L94.9 402.1L97.3 406.1L99 410.1L100.5 414.6L101.6 419.6L102.3 425.1L102.4 429.6ZM167.4 429.6L122.2 429.6L122.8 421.1L124.6 413.1L127.4 406.1L129.4 402.7L131.4 399.9L133.9 397.3L136.9 395.1L139.9 393.6L142.9 392.9L145.9 392.8L148.9 393.3L151.9 394.5L155 396.6L157.6 399.1L159.9 402.1L162.3 406.1L164.1 410.1L165.5 414.6L166.7 419.6L167.3 425.1L167.4 429.6Z"/>
<path fill="#4a35ff" fill-rule="evenodd" d="M80.4 280.6L76.2 280.1L71.9 278.1L68.4 275.1L64.9 270.6L62.4 265.6L60.4 259.6L59.2 253.1L58.7 246.6L100.9 246.6L100.5 253.1L99.4 259.1L97.5 265.1L94.9 270.3L91.9 274.4L88.4 277.6L84.4 279.8L80.4 280.6ZM145.4 280.6L141.2 280.1L136.9 278.1L133.4 275.1L130.3 271.1L127.4 265.6L125.4 259.6L124.2 253.1L123.8 246.6L165.9 246.6L165.5 253.1L164.4 259.2L162.4 265.3L159.9 270.3L156.9 274.5L153.4 277.7L149.4 279.8L145.4 280.6ZM213.9 295.7L210.4 296.1L206.9 295.9L202.9 294.9L200.4 293.9L196.9 291.8L194.4 289.9L191.6 287.1L188.7 283.6L186.1 279.6L184 275.6L180.7 266.6L178.6 257.1L177.9 246.6L240.4 246.6L240.3 262.1L237.7 271.1L234.3 278.6L230.7 284.1L228.3 287.1L225.4 289.9L222.9 291.8L219.4 293.9L213.9 295.7ZM113.9 388.1L111.4 388.2L107.9 387.8L104.9 386.9L101.4 385.3L98.4 383.3L95.4 380.8L90.6 375.1L88.1 371.1L86 367.1L83.1 359.1L81.1 350.1L80.2 340.1L80.6 330.1L82.2 321.1L84.6 313.1L86.6 308.6L88.7 304.6L93.4 298.1L96.4 295.1L99.4 292.8L104.9 289.9L108.4 288.9L111.4 288.6L114.9 288.7L117.9 289.4L123.4 291.7L125.9 293.3L128.9 295.9L131.5 298.6L134.2 302.1L138.1 309.1L141.2 317.1L143.2 325.6L144.2 336.1L144.2 341.6L143.8 347.1L142.2 356.1L139.7 364.1L136.1 371.6L133.5 375.6L131.2 378.6L125.9 383.5L122.9 385.4L119.9 386.8L116.4 387.8L113.9 388.1ZM178.9 372.7L174.9 372.5L170.8 371.1L166.9 368.3L163.4 364.3L160.4 359.1L158.4 353.6L156.9 347.1L156.2 340.1L156.4 333.6L157.4 326.9L159.4 320.2L161.9 314.9L164.9 310.6L168.6 307.1L172.4 305L176.9 304.1L180.9 304.6L184.9 306.4L188.4 309.2L191.9 313.6L194.4 318.4L196.4 324.1L197.8 330.6L198.3 336.6L198.2 343.1L197.3 349.1L195.9 354.6L193.4 360.6L190.4 365.3L186.9 369L182.9 371.5L178.9 372.7ZM50.9 372.2L49.4 372.6L49.4 304.2L52.9 305.3L56.4 307.5L59.6 310.6L62.4 314.6L64.8 319.6L66.5 324.6L67.8 331.1L68.2 337.1L68.1 343.1L67.2 349.1L65.8 354.6L63.5 360.1L60.9 364.5L57.9 368L54.4 370.7L50.9 372.2ZM240.4 372.6L236.9 371.6L232.9 369.1L229.8 366.1L226.9 361.8L224.4 356.6L222.8 351.6L221.6 345.1L221.2 338.6L221.5 332.6L222.6 326.1L224.4 320.3L226.8 315.1L229.9 310.6L232.9 307.7L236.4 305.4L240.4 304.2L240.4 372.6ZM240.4 429.6L177.9 429.6L178.6 419.1L180.6 409.6L183.6 401.1L185.6 397.1L188.1 393.1L191.7 388.6L195.9 384.8L199.9 382.3L204.9 380.4L209.4 379.8L214.4 380.3L218.9 381.8L223.4 384.4L227.6 388.1L231.7 393.1L234.7 398.1L237.6 404.6L239.2 409.6L240.4 414.5L240.4 429.6ZM100.9 429.6L58.7 429.6L59.3 421.6L60.9 414.4L63.4 408L66.9 402.4L69.4 399.7L71.9 397.8L74.9 396.2L77.4 395.5L80.4 395.3L83.4 395.8L86.4 397L88.9 398.6L91.4 400.9L93.9 404L97.4 410.6L98.9 415L99.9 419.1L100.6 424.1L100.9 429.6ZM165.9 429.6L123.8 429.6L124.4 421.6L125.9 414.6L128.4 408.1L131.9 402.5L134.4 399.8L136.9 397.8L139.4 396.4L142.4 395.5L145.4 395.3L148.4 395.7L151.4 396.9L153.9 398.6L156.4 400.9L158.9 404L160.9 407.3L162.8 411.6L164.4 416.6L165.2 420.6L165.8 425.6L165.9 429.6Z"/>
<path fill="#5746ff" fill-rule="evenodd" d="M82.4 277.7L78.4 277.9L74.4 276.7L70.4 274L67 270.1L64.2 265.1L62.2 259.6L60.8 253.1L60.4 246.6L99.3 246.6L98.9 252.1L98 257.6L96.5 262.6L94.4 267.2L91.9 271.1L88.9 274.3L85.9 276.4L82.4 277.7ZM147.4 277.7L143.4 277.9L139.4 276.7L135.4 273.9L132 270.1L129.2 265.1L127.2 259.6L125.9 253.1L125.4 246.6L164.3 246.6L164 252.1L163 257.6L161.5 262.6L159.4 267.3L156.9 271.1L153.9 274.3L150.9 276.4L147.4 277.7ZM213.9 294.1L210.9 294.5L207.4 294.3L203.9 293.6L200.9 292.4L197.9 290.7L194.9 288.4L192.1 285.6L189.6 282.6L187.3 279.1L185.2 275.1L181.9 266.3L179.8 256.6L179.1 246.6L240.4 246.6L240.4 253.1L238.9 262.6L236.5 270.6L233 278.1L229 284.1L224.4 288.8L219.4 292.2L213.9 294.1ZM113.4 386.6L110.4 386.6L107.4 386L104.4 385.1L101.4 383.6L98.5 381.6L95.9 379.3L91.2 373.6L87.2 366.6L84.1 358.1L82.2 349.1L81.4 339.6L81.9 330.1L83.5 321.1L86.2 312.6L89.9 305.1L94.4 299.1L96.9 296.6L99.9 294.2L102.9 292.4L105.9 291.2L108.9 290.4L111.9 290.2L114.9 290.3L117.9 291L123.4 293.5L126.4 295.6L128.9 297.8L133.5 303.6L137.4 310.6L140.4 318.9L142.2 327.6L143 337.1L142.6 346.6L141 355.6L138.3 364.1L134.6 371.6L130.2 377.6L127.7 380.1L124.9 382.4L119.4 385.3L116.4 386.2L113.4 386.6ZM50.4 369.6L49.4 369.9L49.4 306.9L52.9 308.1L55.9 310.1L58.9 313.1L61.6 317.1L63.7 321.6L65.2 326.6L66.2 332.1L66.6 337.6L66.4 343.1L65.6 348.6L64.1 354.1L62.2 358.6L59.7 362.6L56.9 365.8L53.9 368.1L50.4 369.6ZM180.4 369.7L176.4 370L172.4 369.1L168.9 367L165.4 363.5L162.6 359.1L160.2 353.6L158.7 347.6L157.9 341.6L157.9 335.1L158.8 328.6L160.4 322.7L162.6 317.6L165.4 313.3L168.9 309.8L172.4 307.7L176.4 306.8L179.9 307L183.4 308.3L186.9 310.9L189.9 314.3L192.4 318.6L194.5 323.6L195.9 329.1L196.6 335.1L196.6 341.1L196 347.1L194.7 352.6L192.7 357.6L190.4 361.8L187.4 365.4L183.9 368.2L180.4 369.7ZM240.4 369.9L236.9 368.8L233.5 366.6L230.4 363.4L227.9 359.7L225.8 355.1L224.2 350.1L223.2 344.6L222.9 338.6L223.2 332.6L224.2 327.1L225.8 321.6L227.9 317.1L230.4 313.4L233.4 310.3L236.9 308L240.4 306.9L240.4 369.9ZM240.4 429.6L179.1 429.6L179.7 420.1L181.6 410.6L184.6 402.1L186.6 398.1L188.9 394.3L192.4 389.9L196.4 386.2L200.4 383.7L204.9 382L209.4 381.4L213.9 381.8L218.4 383.2L222.4 385.5L226.4 388.9L229.9 392.9L233.2 398.1L235.8 403.6L238.1 410.1L239.6 416.6L240.4 422.8L240.4 429.6ZM98.9 429.6L60.4 429.6L60.9 422.1L62.5 415.1L65 409.1L68.4 404L70.4 401.9L72.9 400L75.4 398.8L78.4 398L81.4 398L83.9 398.6L86.4 399.8L88.9 401.6L91.4 404.1L93.2 406.6L95.1 410.1L96.6 413.6L97.9 418.1L98.8 422.6L99.3 428.6L99.3 429.6L98.9 429.6ZM163.9 429.6L125.4 429.6L126 422.1L127.6 415.1L130 409.1L133.4 404L135.4 401.9L137.9 400L140.4 398.8L143.4 398L146.4 398L148.9 398.6L151.4 399.8L153.9 401.6L156.4 404.1L158.4 406.9L160.2 410.1L161.6 413.6L163 418.1L163.8 422.6L164.3 429.1L164.3 429.6L163.9 429.6Z"/>
<path fill="#6356ff" fill-rule="evenodd" d="M81.4 275.2L77.9 275.1L74.4 273.9L70.9 271.4L67.9 267.8L65.4 263.3L63.6 258.1L62.4 252.6L62 246.6L97.6 246.6L97.3 252.1L96.3 257.1L94.9 261.7L92.9 265.9L90.4 269.6L87.9 272.1L84.9 274.1L81.4 275.2ZM146.4 275.2L142.9 275.1L139.4 273.9L135.9 271.3L132.9 267.8L130.4 263.2L128.6 258.1L127.5 252.6L127.1 246.6L162.7 246.6L162.3 252.1L161.4 257.1L159.9 261.8L157.9 266L155.4 269.6L152.9 272.1L149.9 274.1L146.4 275.2ZM213.4 292.6L210.4 292.9L206.9 292.7L203.9 292L200.9 290.7L197.9 288.9L195.4 287L192.9 284.5L190.4 281.4L186.1 274.1L183 265.6L181 256.1L180.3 246.6L239.5 246.6L239 255.1L237.5 263.1L235.2 270.6L231.9 277.5L227.9 283.3L223.4 287.8L218.4 291L213.4 292.6ZM116.4 384.6L113.4 385L110.4 385L107.4 384.5L104.4 383.4L101.4 381.8L98.9 380.1L93.9 375.1L89.7 368.6L86.2 360.6L83.8 351.6L82.7 342.1L82.9 332.6L84.2 323.6L86.6 315.1L90.3 307.1L94.9 300.6L99.9 296L102.4 294.4L105.4 293L108.4 292.1L111.4 291.7L114.4 291.9L116.9 292.3L119.9 293.3L122.4 294.6L127.4 298.3L131.9 303.6L135.8 310.1L138.7 317.6L140.8 326.1L141.7 334.6L141.6 343.6L140.5 352.1L138.4 360.1L135.3 367.6L131.4 374L126.9 378.9L121.9 382.5L119.4 383.7L116.4 384.6ZM179.4 367.2L175.9 367.3L172.4 366.3L168.9 364L165.9 360.7L163.4 356.6L161.4 351.6L160.1 346.1L159.5 340.6L159.6 334.6L160.4 329.1L161.9 323.8L164 319.1L166.7 315.1L169.9 312L173.4 310.1L176.9 309.4L180.4 309.9L183.4 311.2L186.5 313.6L189.4 317.1L191.6 321.1L193.4 326.1L194.5 331.1L195 336.6L194.9 342.1L194.2 347.6L192.8 352.6L190.9 357.1L188.4 361L185.9 363.8L182.9 365.9L179.4 367.2ZM240.4 367.2L237 366.1L234.1 364.1L231.4 361.3L229 357.6L227 353.1L225.7 348.6L224.8 343.6L224.5 338.6L224.8 333.1L225.7 328.1L227 323.6L229 319.1L231.4 315.5L234.2 312.6L237.4 310.5L240.4 309.6L240.4 367.2ZM49.4 367.2L49.4 309.6L52.4 310.7L55.4 312.7L58.2 315.6L60.5 319.1L62.4 323.4L63.8 328.1L64.7 333.1L65 338.6L64.7 343.6L63.8 348.6L62.4 353.5L60.5 357.6L58.3 361.1L55.4 364.1L52.4 366.1L49.4 367.2ZM239.4 429.6L180.3 429.6L180.9 420.1L182.9 410.6L185.9 402.3L190 395.1L193.4 390.9L197 387.6L201 385.1L205.4 383.5L209.4 382.9L213.9 383.3L217.9 384.7L221.9 386.9L225.7 390.1L229.1 394.1L232 398.6L234.7 404.1L236.8 410.1L238.3 416.6L239.3 423.6L239.4 429.6ZM162.4 429.6L127.1 429.6L127.5 423.1L128.9 416.6L131.4 410.6L134.4 406.1L136.4 404.1L138.9 402.3L140.9 401.3L143.4 400.7L145.9 400.6L148.4 401.2L150.9 402.3L152.9 403.7L154.9 405.7L156.9 408.2L158.6 411.1L160.1 414.6L161.3 418.6L162.1 422.6L162.6 427.6L162.7 429.6L162.4 429.6ZM97.4 429.6L62 429.6L62.5 423.1L63.9 416.6L66.4 410.6L69.4 406.1L71.4 404L73.9 402.2L75.9 401.3L78.4 400.7L80.9 400.7L83.4 401.2L85.9 402.3L87.9 403.8L89.9 405.7L91.9 408.3L93.5 411.1L95.1 414.6L96.3 418.6L97.1 422.6L97.6 427.6L97.6 429.6L97.4 429.6Z"/>
<path fill="#6f67ff" fill-rule="evenodd" d="M82.9 272.1L79.4 272.6L75.9 271.8L72.4 269.7L69.5 266.6L67.1 262.6L65.2 257.6L64.1 252.1L63.7 246.6L96 246.6L95.7 251.1L94.9 255.6L93.7 259.6L92.2 263.1L90.4 266.2L87.9 269.1L85.4 271L82.9 272.1ZM147.9 272.1L144.4 272.6L140.9 271.8L137.4 269.6L134.6 266.6L132.2 262.6L130.3 257.6L129.1 252.1L128.7 246.6L161 246.6L160.7 251.1L160 255.6L158.8 259.6L157.3 263.1L155.4 266.2L152.9 269.1L150.4 271L147.9 272.1ZM212.9 291.1L209.9 291.4L206.9 291.1L203.9 290.4L201 289.1L197.9 287.2L195.4 285.1L190.9 279.8L186.9 272.7L184 264.6L182.1 255.6L181.5 246.6L238.3 246.6L237.8 254.6L236.4 262.6L234 270.1L230.9 276.6L227.2 282.1L222.9 286.4L217.9 289.6L212.9 291.1ZM115.9 383.1L112.9 383.5L109.9 383.4L106.9 382.7L104.4 381.8L99.3 378.6L96.9 376.4L94.4 373.5L90.3 367.1L87.2 359.6L85 351.1L83.9 342.1L84 333.1L85.3 324.1L87.7 315.6L91.2 308.1L95.4 302.1L100.4 297.4L102.9 295.8L105.9 294.4L108.4 293.7L111.4 293.3L114.4 293.4L116.9 293.9L121.9 296L126.7 299.6L131 304.6L134.8 311.1L137.6 318.1L139.5 326.1L140.5 334.6L140.5 343.1L139.4 351.6L137.3 359.6L134.4 366.6L130.7 372.6L126.3 377.6L121.4 381.1L118.9 382.3L115.9 383.1ZM178.4 364.7L174.9 364.4L171.9 363.2L169.1 361.1L166.6 358.1L164.3 354.1L162.6 349.6L161.6 344.6L161.1 339.6L161.3 334.6L162 329.6L163.4 324.9L165.4 320.5L167.8 317.1L170.4 314.6L173.4 312.8L176.9 312.1L179.9 312.4L182.9 313.7L185.9 316.1L188.3 319.1L190.4 323.1L191.9 327.2L193 332.1L193.4 337.1L193.3 342.1L192.5 347.1L191.3 351.6L189.4 355.8L186.9 359.5L184.4 362L181.4 363.9L178.4 364.7ZM50.4 364.2L49.4 364.5L49.4 312.3L51.9 313.2L54.7 315.1L56.9 317.4L59.1 320.6L60.9 324.5L62.2 328.6L63 333.1L63.3 337.6L63.2 342.1L62.5 346.6L61.4 350.9L59.9 354.6L57.9 358.1L55.9 360.6L53.4 362.7L50.4 364.2ZM240.4 364.5L237.4 363.5L234.9 361.8L232.4 359.2L230.4 356.1L228.5 352.1L227.3 348.1L226.5 343.6L226.2 338.6L226.4 333.6L227.2 329.1L228.4 325L230.1 321.1L232.4 317.6L234.9 315L237.4 313.3L240.4 312.3L240.4 364.5ZM237.9 429.6L181.5 429.6L182.1 420.1L184.1 410.6L187.4 402.1L191.6 395.1L194.9 391.3L198.4 388.4L202.4 386.1L206.4 384.8L210.4 384.5L214.4 385L218.4 386.5L221.9 388.7L225.4 391.8L228.6 395.6L231.4 400.1L234 405.6L235.9 411.6L237.4 418.1L238.2 426.1L238.3 429.6L237.9 429.6ZM95.9 429.6L63.7 429.6L64.1 423.6L65.3 418.1L67.2 413.1L69.9 408.8L71.9 406.6L73.9 405.1L75.9 404.1L77.9 403.5L80.4 403.3L82.4 403.6L84.9 404.6L86.9 405.9L88.9 407.8L90.7 410.1L93.5 415.6L95.4 422.6L95.9 429.6ZM160.9 429.6L128.7 429.6L129.1 423.6L130.4 417.8L132.4 412.8L135.1 408.6L136.9 406.7L138.9 405.1L140.9 404.1L143.4 403.4L145.9 403.3L147.9 403.7L149.9 404.6L151.9 405.9L153.9 407.8L155.7 410.1L158.5 415.6L160.4 422.6L160.9 426.6L160.9 429.6Z"/>
<path fill="#7c78ff" fill-rule="evenodd" d="M81.9 269.7L78.9 269.9L75.9 269L72.9 267.1L70.4 264.3L68.3 260.6L66.6 256.1L65.7 251.6L65.3 246.6L94.3 246.6L94.1 250.6L93.4 254.6L92.4 258.1L90.9 261.6L89 264.6L86.9 266.9L84.4 268.7L81.9 269.7ZM146.9 269.7L143.9 269.9L140.9 269L137.9 267L135.4 264.2L133.3 260.6L131.7 256.1L130.7 251.6L130.3 246.6L159.4 246.6L159.1 250.6L158.4 254.6L157.4 258.2L155.9 261.6L154 264.6L151.9 267L149.4 268.7L146.9 269.7ZM212.4 289.6L209.4 289.8L206.9 289.6L203.9 288.8L201.4 287.6L196.4 284.1L193.9 281.5L191.7 278.6L187.9 271.9L185.1 264.1L183.3 255.6L182.7 246.6L237.1 246.6L236.6 254.6L235.2 262.1L232.9 269.5L229.9 275.8L226.2 281.1L221.9 285.4L217.4 288.1L212.4 289.6ZM115.4 381.7L112.9 382L109.9 381.8L106.9 381.1L104.4 380.1L99.4 376.8L94.9 372L91 365.6L88.1 358.6L86 350.1L85.1 341.6L85.3 332.6L86.5 324.1L88.9 316.1L92.1 309.1L96.3 303.1L100.9 298.8L105.9 296L108.4 295.3L111.4 294.9L116.4 295.4L121.4 297.4L126.3 301.1L130.4 306L133.9 312.1L136.6 319.1L138.5 327.1L139.3 335.1L139.2 343.6L138.1 351.6L136.2 359.1L133.2 366.1L129.5 372.1L125.3 376.6L120.4 379.9L115.4 381.7ZM49.9 361.6L49.4 361.8L49.4 315L51.9 316L54.4 317.9L56.4 320.1L58.2 323.1L59.8 326.6L60.8 330.1L61.5 334.1L61.7 338.1L61.5 342.1L60.9 346.1L59.8 350.1L58.4 353.4L56.5 356.6L54.4 358.9L52.4 360.5L49.9 361.6ZM179.9 361.7L176.9 362L173.9 361.4L171.4 360L168.8 357.6L166.7 354.6L164.8 350.6L163.5 346.1L162.8 341.1L162.8 336.1L163.5 331.1L164.7 326.6L166.4 322.7L168.5 319.6L171 317.1L173.9 315.4L176.9 314.8L179.9 315.1L182.4 316.3L184.9 318.3L186.9 320.7L188.8 324.1L190.2 327.6L191.2 331.6L191.7 336.1L191.7 340.6L191.3 344.6L190.4 348.6L188.9 352.6L186.9 356.1L184.9 358.5L182.4 360.5L179.9 361.7ZM240.4 361.8L237.9 360.9L235.4 359.2L233.4 357.1L231.4 354L229.9 350.6L228.7 346.6L228 342.6L227.8 338.6L228 334.1L228.7 330.1L229.9 326.2L231.4 322.8L233.4 319.7L235.4 317.6L237.9 315.9L240.4 315L240.4 361.8ZM236.9 429.6L182.7 429.6L183.4 420.1L185.3 411.1L188.4 402.9L192.5 396.1L195.6 392.6L198.9 389.8L202.4 387.7L206.4 386.4L210.4 386L213.9 386.5L217.9 388L221.4 390.1L224.9 393.3L227.9 396.9L230.7 401.6L233 406.6L234.8 412.1L236.1 418.1L237 425.1L237.1 429.6L236.9 429.6ZM93.9 429.6L65.3 429.6L65.7 424.1L67 418.6L68.9 414L71.4 410.3L74.9 407.3L76.9 406.4L78.9 406L80.9 406L82.9 406.5L86.5 408.6L89.9 412.6L92.4 417.8L94 424.6L94.3 429.6L93.9 429.6ZM158.9 429.6L130.3 429.6L130.7 424.1L131.9 418.9L133.9 414.1L136.4 410.4L139.9 407.4L141.9 406.4L143.9 406L145.9 406L147.9 406.5L151.5 408.6L154.9 412.5L157.4 417.7L158.4 421.1L159.1 425.1L159.4 429.6L158.9 429.6Z"/>
<path fill="#8886ff" fill-rule="evenodd" d="M80.9 267.2L78.4 267.1L75.7 266.1L73.4 264.4L71.4 262.1L69.4 258.6L67.9 254.2L67.3 251.1L66.9 246.6L92.7 246.6L91.9 253.6L90.4 258.1L88.9 261.1L87.4 263.2L85.4 265.2L83 266.6L80.9 267.2ZM145.9 267.2L143.4 267.1L140.9 266.2L138.4 264.4L136.4 262.1L134.9 259.6L133.3 255.6L132.4 251.5L132 246.6L157.7 246.6L156.9 253.7L155.9 257.1L154.4 260.3L152.9 262.6L150.5 265.1L148 266.6L145.9 267.2ZM211.9 288.2L209.4 288.3L206.4 287.9L201.4 286L198.9 284.4L196.4 282.2L192.2 277.1L188.7 270.6L186.2 263.6L184.6 256.1L183.9 246.6L235.9 246.6L235.6 253.1L234.2 261.6L232.2 268.1L229.1 274.6L225.8 279.6L221.4 284L216.9 286.7L211.9 288.2ZM114.9 380.2L109.9 380.3L106.9 379.5L104.4 378.5L101.9 377L99.4 375L95.1 370.1L91.6 364.1L88.6 356.1L87.1 349.6L86.2 340.6L86.5 331.6L87.6 324.6L89.6 317.6L92.7 310.6L96.8 304.6L101.4 300.2L103.4 298.9L106.4 297.5L111.4 296.4L115.9 296.8L120.9 298.8L125.4 302.2L129.6 307.1L133.2 313.6L135.7 320.1L137.2 326.6L138.2 335.6L138.2 342.6L137.2 350.6L135.2 358.1L132.1 365.6L128.2 371.6L123.9 376L119.4 378.8L114.9 380.2ZM178.9 359.2L176.4 359.3L173.8 358.6L171.4 357.1L168.9 354.3L167.4 351.8L165.9 348.1L164.9 344.1L164.4 339.6L164.6 335.1L165.3 330.6L166.4 327.2L167.9 324.1L169.9 321.2L172.3 319.1L174.4 318L176.9 317.5L178.9 317.6L181.5 318.6L183.9 320.4L185.9 322.9L187.5 325.6L188.9 329.4L189.8 333.6L190.1 336.6L190 341.1L189.5 345.1L187.4 351.3L185.4 354.6L183.6 356.6L181.4 358.2L178.9 359.2ZM50.4 358.7L49.4 359.1L49.4 317.8L51.4 318.6L53.4 320.1L54.9 321.6L56.9 324.7L58.4 328.1L59.4 331.6L60 337.6L59.9 341.6L59.4 345L57.4 351.1L55.9 353.8L54.4 355.7L52.4 357.6L50.4 358.7ZM240.4 359.1L237.9 358.1L235.9 356.6L232.9 352.6L231.4 349.5L230.4 346.3L229.8 343.1L229.5 338.6L229.7 334.6L230.4 330.6L232.4 325L233.9 322.5L235.9 320.2L238.1 318.6L240.4 317.7L240.4 359.1ZM235.9 429.6L183.9 429.6L184.1 424.1L184.6 419.6L186.7 410.6L189.7 403.1L191.7 399.6L194.2 396.1L197.4 392.7L200.4 390.5L203.9 388.7L207.4 387.8L211.4 387.7L214.9 388.4L218.4 389.9L221.4 391.9L224.4 394.7L227.1 398.1L230.1 403.1L232.1 407.6L233.7 412.6L235.1 419.1L235.7 424.1L235.9 429.6ZM92.4 429.6L66.9 429.6L67.4 424.1L68.3 420.1L69.9 416.2L71.9 413.1L75.1 410.1L76.9 409.2L78.9 408.7L82.4 409.1L85.9 411.1L88.9 414.8L90.9 419L92.4 425.1L92.7 429.6L92.4 429.6ZM157.4 429.6L132 429.6L132.4 424.3L133.4 420.1L134.9 416.3L136.9 413.1L140.2 410.1L142.2 409.1L143.9 408.7L147.4 409.1L150.9 411.1L153.8 414.6L155.9 418.8L157.4 424.9L157.7 429.6L157.4 429.6Z"/>
<path fill="#9493ff" fill-rule="evenodd" d="M81.4 263.7L78.9 263.9L76.9 263.3L74.9 262L72.9 259.9L71.3 257.1L70.1 254.1L69.3 250.6L69 246.6L90.6 246.6L89.9 252.6L87.9 258L86.4 260.3L84.9 261.8L83.4 262.9L81.4 263.7ZM146.4 263.7L143.9 263.8L141.9 263.2L139.9 262L137.9 259.8L136.3 257.1L135.2 254.1L134.4 250.6L134 246.6L155.7 246.6L155 252.6L152.9 258.1L151.4 260.3L149.9 261.9L148.4 262.9L146.4 263.7ZM212.9 286.7L210.4 287L207.4 286.8L204.9 286.2L202.4 285.1L199.9 283.7L197.4 281.6L193.4 277.1L189.7 270.6L186.9 263.1L185.3 255.1L184.7 246.6L235.1 246.6L234.7 254.1L233.4 261.1L231.4 267.6L228.6 273.6L225.2 278.6L221.4 282.5L217.4 285.2L212.9 286.7ZM112.9 379.1L110.4 379L107.9 378.5L103.4 376.6L98.9 373L94.9 368L91.5 361.6L89.1 354.6L87.6 347.1L87 339.1L87.4 331.1L88.7 323.6L90.9 316.6L94.1 310.1L97.9 304.9L102.4 300.9L106.9 298.6L109.4 297.9L111.9 297.7L114.4 297.8L116.9 298.4L121.4 300.5L125.9 304.2L129.7 309.1L132.9 315.1L135.4 322.1L136.9 329.6L137.5 337.6L137.1 345.6L135.8 353.1L133.6 360.1L130.4 366.6L126.8 371.6L122.4 375.7L117.9 378.1L115.4 378.8L112.9 379.1ZM179.4 355.7L176.9 356L174.9 355.6L172.9 354.5L170.9 352.7L169.2 350.1L167.9 347.3L167 344.1L166.5 340.6L166.5 337.1L166.8 333.6L167.7 330.1L169 327.1L170.5 324.6L172.4 322.6L174.4 321.4L176.9 320.8L178.9 321L180.9 321.8L182.9 323.3L184.4 325.1L185.8 327.6L186.9 330.3L188 336.6L187.7 343.1L187 346.1L185.9 349.1L184.5 351.6L182.9 353.5L181.4 354.7L179.4 355.7ZM240.4 355.8L238.4 354.9L236.9 353.7L235.4 352L233.9 349.6L232.2 344.6L231.5 338.6L232.1 332.6L234 327.1L235.4 324.8L236.9 323.1L238.4 322L240.4 321L240.4 355.8ZM49.4 355.7L49.4 321.1L51.4 322.2L52.9 323.4L55.5 327.1L57.4 332.6L58 338.6L57.3 344.6L55.6 349.6L52.9 353.4L51.4 354.7L49.4 355.7ZM234.9 429.6L184.7 429.6L185.3 420.6L187.3 411.6L190.4 403.8L194.4 397.5L197.4 394.2L200.4 391.9L203.9 390L207.4 389.1L210.9 388.9L214.4 389.5L217.9 391L220.9 392.9L223.9 395.7L226.9 399.5L229.3 403.6L231.4 408.3L233.1 413.6L234.3 419.1L235 425.6L235.1 429.6L234.9 429.6ZM90.4 429.6L69 429.6L69.3 425.6L70.2 421.6L71.6 418.1L73.4 415.4L75.9 413.1L78.9 412L81.9 412.3L84.9 414L87.4 417L89.1 420.6L90.4 425.6L90.6 429.6L90.4 429.6ZM155.4 429.6L134 429.6L134.3 425.6L135.2 421.6L136.6 418.1L138.4 415.4L140.9 413.2L143.9 412L146.9 412.3L149.9 414L152.4 416.9L154.2 420.6L155.4 425.6L155.7 429.6L155.4 429.6Z"/>
<path fill="#a09fff" fill-rule="evenodd" d="M81.9 260.2L79.9 260.6L77.9 260.2L75.9 259.1L74.4 257.6L72.9 255.1L71.9 252.6L71.3 249.6L71 246.6L88.6 246.6L88.1 251.1L86.7 255.1L84.4 258.5L81.9 260.2ZM146.9 260.2L144.9 260.6L142.9 260.2L140.9 259.1L139.4 257.5L137.9 255.1L137 252.6L136.3 249.6L136.1 246.6L153.6 246.6L153.1 251.1L151.8 255.1L149.4 258.5L146.9 260.2ZM211.4 285.6L208.9 285.7L206.4 285.3L203.9 284.5L201.4 283.3L196.9 279.7L193.2 275.1L189.9 269.1L187.5 262.1L186 254.6L185.4 246.6L234.4 246.6L233.9 254.1L232.6 261.1L230.4 267.8L227.6 273.6L223.9 278.6L220.1 282.1L215.9 284.5L211.4 285.6ZM114.9 377.6L112.4 377.8L109.9 377.7L107.4 377.1L104.9 376L100.4 372.9L96.5 368.6L93.1 363.1L90.4 356.3L88.7 349.1L87.8 341.1L88 333.1L89.1 325.6L91.1 318.6L94 312.1L97.8 306.6L101.9 302.6L106.4 300.1L108.9 299.3L111.4 299L115.9 299.4L120.4 301.2L124.8 304.6L128.6 309.1L131.7 314.6L134.2 321.1L135.9 328.1L136.6 335.6L136.5 343.1L135.5 350.6L133.6 357.6L131.1 363.6L127.9 368.7L123.9 373.1L119.4 376.1L114.9 377.6ZM178.4 352.6L176.4 352.7L174.9 352.2L173.4 351.3L171.8 349.6L170.5 347.6L169.5 345.1L168.5 339.6L168.9 334.1L170.6 329.1L171.9 327.1L173.4 325.5L174.9 324.6L176.9 324.1L178.9 324.3L180.4 325L183 327.6L185.2 332.1L186 337.1L185.7 342.6L184 347.6L182.9 349.4L181.4 351L179.9 352.1L178.4 352.6ZM49.4 352.3L49.4 324.5L51.9 326.3L54.1 329.6L55.5 333.6L56 338.6L55.5 343.1L54.2 347.1L51.9 350.5L49.4 352.3ZM240.4 352.4L237.7 350.6L235.4 347.2L234 343.1L233.5 338.6L234 333.6L235.4 329.6L237.4 326.5L238.9 325.2L240.4 324.4L240.4 352.4ZM233.9 429.6L185.4 429.6L186.1 420.6L188 412.1L191 404.6L194.9 398.4L197.9 395.2L200.9 392.9L203.9 391.4L207.4 390.4L210.9 390.2L214.4 390.8L217.9 392.3L220.9 394.4L223.9 397.2L226.5 400.6L228.9 404.7L231 409.6L232.7 415.1L233.7 420.6L234.4 428.6L234.4 429.6L233.9 429.6ZM88.4 429.6L71 429.6L71.3 426.1L72 423.1L73 420.6L74.6 418.1L76.4 416.4L78.9 415.4L81.4 415.5L83.9 416.9L85.9 419.3L87.4 422.4L88.4 426.6L88.6 429.6L88.4 429.6ZM153.4 429.6L136.1 429.6L136.3 426.1L137 423.1L138.3 420.1L139.9 417.8L141.9 416.1L144.4 415.3L146.9 415.7L148.9 416.9L150.9 419.2L152.5 422.6L153.5 426.6L153.7 429.6L153.4 429.6Z"/>
<path fill="#acabff" fill-rule="evenodd" d="M80.9 257.1L79.4 257.2L77.9 256.8L76.4 255.8L75.4 254.6L73.8 251.1L73.1 246.6L86.6 246.6L86.1 250.1L84.9 253.5L82.9 256L80.9 257.1ZM145.9 257.1L144.4 257.2L142.9 256.8L140.5 254.6L138.8 251.1L138.1 246.6L151.6 246.6L151.2 250.1L149.9 253.6L147.9 256.1L145.9 257.1ZM212.9 284.1L210.4 284.4L207.9 284.3L205.4 283.7L202.9 282.7L198.4 279.6L194.4 275.1L190.9 269.1L188.3 262.1L186.8 254.6L186.2 246.6L233.6 246.6L233.2 253.6L232 260.1L230.2 266.1L227.6 271.6L224.4 276.5L220.9 280.1L216.9 282.7L212.9 284.1ZM115.9 376.1L113.4 376.5L110.9 376.5L106.4 375.4L101.9 372.8L97.7 368.6L94.1 363.1L91.4 356.7L89.5 349.6L88.6 342.1L88.7 334.1L89.7 326.6L91.6 319.6L94.4 313.2L97.9 308L101.9 304.1L106.4 301.4L108.9 300.6L111.4 300.3L115.9 300.7L120.4 302.6L124.4 305.7L127.9 309.8L131 315.1L133.4 321.1L135 327.6L135.8 334.6L135.9 341.6L135.1 348.6L133.4 355.6L131.1 361.6L127.9 367L124.4 371.2L120.4 374.2L115.9 376.1ZM178.4 349.2L176.9 349.4L175.4 349L173.1 347.1L171.4 343.8L170.6 339.6L170.8 335.1L172.2 331.1L174.4 328.5L176.9 327.4L179.4 328L181.7 330.1L183.2 333.1L184 337.1L183.8 341.1L182.6 345.1L180.9 347.7L178.4 349.2ZM49.4 348.8L49.4 328L51.2 329.6L52.7 332.1L53.6 335.1L53.9 338.6L53.6 341.6L52.8 344.6L51.3 347.1L49.4 348.8ZM240.4 348.9L238.4 347.4L237 345.1L236 342.1L235.6 338.6L235.9 335.1L236.9 331.9L238.4 329.5L240.4 327.9L240.4 348.9ZM233.4 429.6L186.2 429.6L186.8 421.1L188.5 413.1L191.2 406.1L194.9 400L197.4 397.2L200.4 394.6L203.4 392.9L206.9 391.7L210.4 391.4L213.4 391.9L216.9 393.1L220 395.1L222.9 397.7L225.7 401.1L228.1 405.1L230.1 409.6L231.7 414.6L232.8 419.6L233.5 426.1L233.6 429.6L233.4 429.6ZM86.4 429.6L73.1 429.6L73.8 424.6L74.6 422.6L75.9 420.6L77.4 419.3L79.4 418.6L81.4 418.9L82.9 419.8L84.4 421.6L85.7 424.1L86.4 427.1L86.4 429.6ZM151.4 429.6L138.1 429.6L138.9 424.6L139.7 422.6L140.9 420.7L142.4 419.4L144.4 418.6L146.4 418.9L147.9 419.8L149.5 421.6L150.7 424.1L151.5 427.6L151.6 429.6L151.4 429.6Z"/>
<path fill="#b8b8ff" fill-rule="evenodd" d="M80.9 253.7L78.9 253.8L76.9 252.3L75.6 249.6L75.1 246.6L84.5 246.6L84.2 249.1L83.5 251.1L82.4 252.7L80.9 253.7ZM145.9 253.7L143.9 253.8L141.9 252.2L140.6 249.6L140.2 246.6L149.6 246.6L149.2 249.1L148.5 251.1L147.4 252.7L145.9 253.7ZM210.9 283.1L206.4 282.7L201.9 280.8L197.9 277.7L194.2 273.1L191.2 267.6L188.9 261.1L187.5 254.1L186.9 246.6L232.9 246.6L232.4 253.6L231.2 260.1L229.1 266.6L226.4 271.9L223 276.6L219.4 279.8L215.4 282.1L210.9 283.1ZM114.4 375.1L109.9 375.1L105.4 373.6L101.4 370.9L97.4 366.6L94.1 361.1L91.8 355.1L90.1 348.1L89.3 340.6L89.5 333.1L90.6 326.1L92.7 319.1L95.4 313.3L98.9 308.4L102.9 304.7L107.4 302.3L111.9 301.5L116.4 302.1L120.4 303.9L124.4 307.1L127.9 311.5L130.9 316.9L133.1 323.1L134.5 329.6L135.2 336.6L135 343.6L133.9 350.6L132 357.1L129.6 362.6L126.4 367.4L122.8 371.1L118.9 373.7L114.4 375.1ZM178.4 345.8L176.4 345.9L174.5 344.6L173.3 342.6L172.6 339.6L172.7 336.6L173.6 333.6L174.9 331.8L176.9 330.8L178.9 331.2L180.3 332.6L181.4 334.6L181.9 337.1L181.9 340.1L181.2 342.6L179.9 344.8L178.4 345.8ZM240.4 345.4L239.4 344.4L238.4 342.6L237.6 338.6L237.8 336.1L238.4 334.2L239.2 332.6L240.4 331.4L240.4 345.4ZM49.4 345.2L49.4 331.6L50.4 332.8L51.3 334.6L51.9 338.6L51.1 342.6L49.4 345.2ZM232.4 429.6L186.9 429.6L187.5 421.6L189.2 413.6L192 406.6L195.7 400.6L198.4 397.7L201.4 395.3L204.4 393.8L207.4 392.9L210.9 392.8L213.9 393.3L216.9 394.5L219.9 396.4L222.9 399.2L225.4 402.4L227.6 406.1L229.6 410.6L231.1 415.6L232.2 421.1L232.9 428.6L232.9 429.6L232.4 429.6ZM84.4 429.6L75.1 429.6L75.6 426.1L76.9 423.6L77.9 422.6L79.4 422L80.9 422.1L81.9 422.7L82.9 423.8L83.8 425.6L84.4 427.9L84.4 429.6ZM149.4 429.6L140.2 429.6L140.7 426.1L141.9 423.6L142.9 422.6L144.4 422L145.9 422.1L146.9 422.7L147.9 423.7L148.9 425.7L149.5 428.1L149.4 429.6Z"/>
<path fill="#c4c4ff" fill-rule="evenodd" d="M79.9 250.6L78.7 250.1L77.9 249.2L77.4 248.1L77.2 246.6L82.4 246.6L81.5 249.6L79.9 250.6ZM144.9 250.6L143.9 250.2L142.9 249.2L142.3 246.6L147.5 246.6L146.9 249.1L145.9 250.2L144.9 250.6ZM212.4 281.7L207.9 281.7L203.4 280.3L198.9 277.2L195.3 273.1L192.1 267.6L189.7 261.1L188.2 254.1L187.7 246.6L232.1 246.6L231.7 253.1L230.6 259.1L228.8 265.1L226.1 270.6L222.9 275.1L219.4 278.5L216.4 280.3L212.4 281.7ZM115.4 373.6L110.9 374L106.4 372.8L102.4 370.4L98.7 366.6L95.1 361.1L92.6 355.1L91 349.1L90.1 341.6L90.2 334.1L91.2 327.1L93.2 320.1L95.7 314.6L98.7 310.1L102.4 306.5L106.9 303.8L111.4 302.8L115.9 303.3L119.9 305L123.9 308.1L127.2 312.1L130 317.1L132.1 322.6L133.6 328.6L134.3 335.1L134.3 341.6L133.6 348.1L132.2 354.1L129.6 360.6L126.6 365.6L123.4 369.2L119.9 371.8L115.4 373.6ZM177.9 342.6L176.9 342.7L175.9 342.1L174.8 339.6L174.9 336.5L175.9 334.8L176.9 334.1L177.9 334.3L178.9 335L179.9 337.6L179.9 339.1L179.4 340.9L177.9 342.6ZM240.4 341.3L239.9 340.1L239.7 338.6L239.9 336.6L240.4 335.5L240.4 341.3ZM49.4 340.7L49.4 336.1L49.8 338.6L49.4 340.7ZM231.9 429.6L187.7 429.6L188.3 421.6L190.1 413.6L192.7 407.1L196.2 401.6L198.9 398.7L201.9 396.4L204.9 394.9L207.4 394.2L210.4 394L213.4 394.4L216.9 395.8L219.9 397.8L222.8 400.6L225.1 403.6L227.1 407.1L229.1 411.6L230.6 416.6L231.5 421.1L232 426.6L232.1 429.6L231.9 429.6ZM82.4 429.6L77.2 429.6L77.4 427.9L77.9 426.6L79.4 425.4L80.9 425.7L81.9 427.1L82.4 429.6ZM147.4 429.6L142.3 429.6L142.4 428L143.4 426L144.4 425.4L145.9 425.6L147 427.1L147.4 428.4L147.4 429.6Z"/>
<path fill="#d1d0fe" fill-rule="evenodd" d="M212.4 280.6L207.9 280.7L203.4 279.2L199.4 276.4L195.6 272.1L192.5 266.6L190.3 260.6L188.9 253.6L188.4 246.6L231.4 246.6L231 252.6L230 258.6L228.3 264.1L225.9 269.4L223.1 273.6L219.9 276.9L216.4 279.2L212.4 280.6ZM115.4 372.6L110.9 372.9L106.9 371.9L102.9 369.6L98.9 365.5L95.9 360.9L93.4 355.1L91.7 348.6L90.8 341.6L90.9 334.6L91.8 327.6L93.6 321.1L96.1 315.6L99.4 310.7L102.9 307.2L106.9 304.9L111.4 303.9L115.4 304.2L119.4 305.8L123.1 308.6L126.4 312.4L129.2 317.1L131.3 322.6L132.8 328.6L133.6 335.1L133.6 341.6L132.9 348.1L131.4 354.1L129.2 359.6L126.4 364.4L122.9 368.4L119.4 371L115.4 372.6ZM231.4 429.6L188.4 429.6L188.9 422.1L190.5 414.6L193.1 408.1L196.4 402.7L198.9 399.9L201.4 397.8L204.4 396.2L207.4 395.3L210.4 395L213.4 395.5L216.4 396.6L219.4 398.6L221.9 400.9L224.4 404.1L226.4 407.4L228.1 411.1L229.6 415.6L230.6 420.1L231.2 424.6L231.4 429.6Z"/>
<path fill="#dddcfe" fill-rule="evenodd" d="M211.9 279.7L207.4 279.6L203.4 278.1L199.4 275.2L195.9 271.1L193.1 266.1L191 260.1L189.6 253.6L189.1 246.6L230.7 246.6L230.3 252.6L229.3 258.6L227.5 264.1L225.1 269.1L222.4 273.1L218.9 276.5L215.4 278.6L211.9 279.7ZM114.9 371.7L110.4 371.8L106.4 370.6L102.5 368.1L99.2 364.6L96.1 359.6L93.8 354.1L92.2 347.6L91.5 341.1L91.6 334.1L92.5 327.6L94.2 321.6L96.7 316.1L99.9 311.4L103.4 308L107.4 305.8L111.4 304.9L115.4 305.2L118.9 306.6L122.4 309.1L125.9 313.1L128.5 317.6L130.7 323.1L132.2 329.1L133 335.6L132.9 342.1L132.1 348.1L130.6 354.1L128.4 359.5L125.6 364.1L122.4 367.7L118.9 370.2L114.9 371.7ZM230.4 429.6L189.1 429.6L189.6 422.1L191.3 414.6L193.9 408.2L197.1 403.1L199.9 400.2L202.4 398.3L204.9 397L207.9 396.2L210.9 396.1L213.9 396.7L216.4 397.7L219.2 399.6L221.8 402.1L223.9 404.8L225.9 408.1L227.7 412.1L229.1 416.6L230.1 421.6L230.7 427.6L230.7 429.6L230.4 429.6Z"/>
<path fill="#e9e8fd" fill-rule="evenodd" d="M211.9 278.6L209.4 278.8L207.4 278.6L203.5 277.1L199.9 274.5L196.4 270.4L193.7 265.6L191.6 259.6L190.3 253.1L189.8 246.6L230 246.6L229.6 252.6L228.6 258.1L226.9 263.6L224.8 268.1L222.1 272.1L218.9 275.4L215.4 277.6L211.9 278.6ZM114.9 370.7L110.9 370.9L106.9 369.8L102.9 367.2L99.5 363.6L96.7 359.1L94.5 353.6L92.9 347.6L92.2 341.1L92.3 334.6L93.2 328.1L94.8 322.1L97 317.1L99.9 312.7L103.4 309.2L107.4 306.8L111.4 305.9L115.4 306.3L118.9 307.7L122.4 310.3L125.4 313.8L127.9 318.1L130.1 323.6L131.6 329.6L132.3 335.6L132.2 342.1L131.4 348.1L130 353.6L127.9 358.8L125.3 363.1L121.9 366.9L118.4 369.4L114.9 370.7ZM229.9 429.6L189.8 429.6L190.3 422.6L191.8 415.6L194.3 409.1L197.4 404.1L199.9 401.4L202.4 399.4L204.9 398.1L207.9 397.2L210.9 397.1L213.4 397.6L216.4 398.8L218.9 400.5L221.4 402.9L223.5 405.6L225.4 408.9L227 412.6L228.3 416.6L229.3 421.1L229.9 426.1L229.9 429.6Z"/>
<path fill="#f6f4fc" fill-rule="evenodd" d="M211.9 277.6L207.9 277.6L203.9 276.2L200.2 273.6L196.9 269.7L194.1 264.6L192.2 259.1L191 253.1L190.5 246.6L229.3 246.6L228.9 252.6L227.9 258L226.3 263.1L224.2 267.6L221.4 271.6L218.4 274.6L215.4 276.5L211.9 277.6ZM114.9 369.6L110.9 369.9L106.9 368.7L103.4 366.5L100.2 363.1L97.3 358.6L95.1 353.1L93.6 347.1L92.9 341.1L93 334.6L93.8 328.6L95.4 322.7L97.7 317.6L100.4 313.4L103.9 309.9L107.4 307.9L111.4 306.9L114.9 307.2L118.5 308.6L121.9 311.1L124.9 314.6L127.6 319.1L129.5 324.1L130.9 329.6L131.5 335.6L131.5 341.6L130.8 347.6L129.4 353.1L127.4 358L124.9 362.3L121.9 365.7L118.4 368.3L114.9 369.6ZM228.9 429.6L190.5 429.6L191 422.6L192.5 415.6L194.9 409.6L198.4 404.2L200.4 402.1L203.1 400.1L205.9 398.8L208.4 398.2L211.4 398.2L213.9 398.8L216.4 399.9L218.8 401.6L220.9 403.6L223.2 406.6L225.1 410.1L226.6 413.6L228 418.1L228.8 422.6L229.3 429.1L229.3 429.6L228.9 429.6Z"/>
<path fill="#fbf3f5" fill-rule="evenodd" d="M211.4 276.7L207.9 276.6L203.9 275.1L200.4 272.5L197.4 268.9L194.7 264.1L192.8 258.6L191.6 252.6L191.2 246.6L228.6 246.6L228.3 252.1L227.3 257.6L225.7 262.6L223.6 267.1L220.9 270.9L217.9 273.8L214.9 275.7L211.4 276.7ZM114.4 368.7L110.4 368.7L106.9 367.6L103.4 365.3L100.4 362L97.7 357.6L95.7 352.6L94.2 346.6L93.6 340.6L93.7 334.1L94.6 328.1L96.2 322.6L98.4 317.9L101.3 313.6L104.4 310.7L108.3 308.6L111.9 307.9L115.4 308.4L118.9 309.9L121.9 312.3L124.9 316L127.2 320.1L129.1 325.1L130.3 330.6L130.9 336.1L130.8 342.1L130.1 347.6L128.6 353.1L126.8 357.6L124.4 361.6L121.3 365.1L117.9 367.5L114.4 368.7ZM228.4 429.6L191.2 429.6L191.7 422.6L193.3 415.6L195.8 409.6L198.9 404.9L200.9 402.9L203.4 401L205.9 399.8L208.4 399.2L210.9 399.1L213.4 399.6L215.9 400.7L218.4 402.4L220.9 404.9L222.9 407.6L226 414.1L228 422.1L228.5 427.1L228.6 429.6L228.4 429.6Z"/>
<path fill="#fae5e8" fill-rule="evenodd" d="M210.9 275.6L207.4 275.4L203.9 274L200.4 271.2L197.5 267.6L195.1 263.1L193.4 258.1L192.3 252.6L191.9 246.6L227.9 246.6L227.6 252.1L226.5 257.6L224.9 262.6L222.9 266.6L220.4 270.2L217.4 273L214.4 274.7L210.9 275.6ZM113.9 367.7L110.4 367.6L106.9 366.5L103.4 364L100.4 360.6L97.9 356.2L96.1 351.6L94.8 346.1L94.2 340.1L94.4 334.1L95.2 328.6L96.8 323.1L98.9 318.6L101.7 314.6L104.9 311.6L108.4 309.7L111.9 309L115.4 309.5L118.4 310.8L121.4 313.1L124.4 316.7L126.8 321.1L128.5 325.6L129.7 331.1L130.2 336.6L130.1 342.1L129.4 347.6L127.9 352.9L125.9 357.6L123.4 361.5L120.4 364.6L117.4 366.5L113.9 367.7ZM227.9 429.6L191.9 429.6L192.3 423.1L193.7 416.6L195.9 411.1L198.9 406.3L201 404.1L203.4 402.2L205.4 401.2L207.9 400.4L210.4 400.2L212.9 400.6L215.4 401.6L217.9 403.3L219.9 405.1L221.9 407.7L223.7 410.6L225.2 414.1L227.3 421.6L227.9 429.6Z"/>
<path fill="#f8d7da" fill-rule="evenodd" d="M212.9 274.1L208.9 274.5L205.4 273.6L201.9 271.3L198.9 268.1L196.2 263.6L194.3 258.6L193 252.6L192.5 246.6L227.3 246.6L227 251.6L226.2 256.1L224.9 260.6L223.1 264.6L220.9 268.1L218.4 270.9L215.9 272.8L212.9 274.1ZM112.9 366.6L109.4 366.3L106.4 365L103.3 362.6L100.4 359.1L98.2 355.1L96.4 350.1L95.3 344.6L94.9 339.1L95.1 333.6L96.1 328.1L97.6 323.1L99.8 318.6L102.4 315.1L105.4 312.4L108.4 310.8L111.9 310.1L115.4 310.6L118.4 312L121.4 314.4L124.3 318.1L126.4 322.1L128.1 327.1L129.1 332.1L129.6 337.6L129.3 343.1L128.4 348.6L126.9 353.5L124.9 357.7L122.4 361.3L119.4 364.1L116.4 365.8L112.9 366.6ZM226.9 429.6L192.5 429.6L193 423.1L194.3 417.1L196.5 411.6L199.4 407.1L201.4 405L203.9 403.1L205.9 402.1L208.4 401.4L210.9 401.4L213.4 401.9L215.9 403.1L217.9 404.5L219.9 406.5L221.9 409.2L224.9 415.4L226.8 423.1L227.3 429.1L227.3 429.6L226.9 429.6Z"/>
<path fill="#f6c9cd" fill-rule="evenodd" d="M212.4 273.1L208.9 273.4L205.4 272.4L201.9 270.1L199.2 267.1L196.8 263.1L194.9 258.1L193.7 252.6L193.2 246.6L226.6 246.6L226.3 251.6L225.5 256.1L224.3 260.1L222.5 264.1L220.4 267.4L217.9 270.1L215.4 271.9L212.4 273.1ZM114.9 365.2L111.4 365.5L107.9 364.6L104.9 362.8L101.9 359.7L99.6 356.1L97.6 351.6L96.3 346.6L95.6 341.1L95.6 335.6L96.3 330.1L97.7 325.1L99.6 320.6L101.9 317.1L104.9 314L107.9 312.2L111.4 311.3L114.4 311.5L117.4 312.6L120.4 314.7L122.9 317.6L125.1 321.1L126.9 325.6L128.2 330.6L128.8 335.6L128.8 341.1L128.2 346.1L127.1 350.6L125.4 355.1L123.4 358.6L120.9 361.6L117.9 363.9L114.9 365.2ZM226.4 429.6L193.2 429.6L193.6 423.6L194.9 417.6L197.2 412.1L199.9 407.9L201.9 405.8L203.9 404.3L205.9 403.3L208.4 402.6L210.9 402.5L212.9 402.9L215.4 404L217.4 405.3L219.4 407.3L221.2 409.6L224.2 415.6L226.1 423.1L226.6 427.6L226.4 429.6Z"/>
<path fill="#f5bbc0" fill-rule="evenodd" d="M211.4 272.2L207.9 272.1L204.9 271L201.9 268.8L199.2 265.6L197 261.6L195.3 257.1L194.3 252.1L193.9 246.6L225.9 246.6L225.6 251.6L224.7 256.1L223.4 260.3L221.6 264.1L219.4 267.2L216.9 269.7L214.4 271.2L211.4 272.2ZM114.4 364.2L110.9 364.3L107.9 363.5L104.9 361.5L102.1 358.6L99.9 355L98.1 350.6L96.8 345.6L96.3 340.6L96.3 335.1L97 330.1L98.5 325.1L100.4 320.9L102.9 317.2L105.4 314.9L108.4 313.1L111.9 312.4L114.9 312.7L117.9 314.1L120.5 316.1L123 319.1L125 322.6L126.7 327.1L127.7 331.6L128.2 336.6L128.1 341.6L127.5 346.1L126.4 350.6L124.8 354.6L122.7 358.1L120.1 361.1L117.4 363L114.4 364.2ZM225.9 429.6L193.9 429.6L194.3 423.6L195.5 418.1L197.5 413.1L200 409.1L201.9 407.1L203.9 405.5L205.9 404.4L208.4 403.7L210.9 403.6L212.9 404L214.9 404.9L216.9 406.2L220.5 410.1L223.4 415.6L225.3 422.6L225.9 429.6Z"/>
<path fill="#f4adb2" fill-rule="evenodd" d="M210.9 271.1L207.9 271L204.9 269.8L201.9 267.5L199.4 264.4L197.4 260.6L195.8 256.1L194.9 251.6L194.6 246.6L225.3 246.6L225 251.1L224.1 255.6L222.7 260.1L220.9 263.6L218.9 266.4L216.4 268.8L213.9 270.3L210.9 271.1ZM113.9 363.2L110.9 363.2L107.9 362.3L104.9 360.3L102.4 357.5L100.3 354.1L98.5 349.6L97.4 345.1L96.9 340.1L97 335.1L97.8 330.1L99.1 325.6L100.9 321.6L103.3 318.1L105.9 315.7L108.9 314.1L111.9 313.5L114.9 313.9L117.6 315.1L120.4 317.3L122.6 320.1L124.6 323.6L126.1 327.6L127.1 332.1L127.5 336.6L127.5 341.1L126.8 346.1L125.8 350.1L124.1 354.1L121.9 357.7L119.4 360.4L116.9 362.1L113.9 363.2ZM224.9 429.6L194.6 429.6L195 423.6L196.3 418.1L198.1 413.6L200.9 409.4L202.9 407.4L204.8 406.1L206.9 405.2L208.9 404.8L210.9 404.8L212.9 405.2L214.9 406.1L216.9 407.4L220.4 411.4L223.2 417.1L224.9 424.1L225.3 429.6L224.9 429.6Z"/>
<path fill="#f39fa4" fill-rule="evenodd" d="M212.4 269.7L208.9 270L205.9 269.1L202.9 267.2L200.4 264.4L198.4 261.1L196.7 256.6L195.6 251.6L195.2 246.6L224.6 246.6L224.4 250.6L223.7 254.6L222.7 258.1L221.1 261.6L219.4 264.4L217.4 266.7L214.9 268.6L212.4 269.7ZM113.4 362.1L110.4 362L107.4 360.9L104.9 359L102.4 356.1L100.4 352.6L98.9 348.6L98 344.1L97.5 339.6L97.7 335.1L98.4 330.3L99.6 326.1L101.4 322.3L103.6 319.1L106.4 316.6L108.9 315.2L111.9 314.6L114.9 315L117.4 316.1L119.9 318.1L122.3 321.1L124.2 324.6L125.6 328.6L126.5 332.6L126.9 337.1L126.8 341.6L126.1 346.1L124.9 350.4L123.3 354.1L121.3 357.1L118.9 359.6L116.4 361.2L113.4 362.1ZM224.4 429.6L195.2 429.6L195.6 424.1L196.7 419.1L198.5 414.6L200.9 410.8L204.4 407.6L206.4 406.5L208.4 405.9L210.4 405.8L212.4 406.2L214.4 407L216.4 408.3L219.9 412.1L222.4 417.1L224.1 423.6L224.6 428.1L224.6 429.6L224.4 429.6Z"/>
<path fill="#f29196" fill-rule="evenodd" d="M211.9 268.7L208.9 268.9L205.9 268L203.4 266.4L200.9 263.6L198.8 260.1L197.2 256.1L196.3 251.6L195.9 246.6L224 246.6L223.7 250.6L223 254.6L221.9 258.1L220.4 261.3L218.4 264.3L216.4 266.4L214.4 267.7L211.9 268.7ZM114.9 360.7L111.9 361.1L108.9 360.4L106.4 359L103.9 356.7L101.8 353.6L100 349.6L98.9 345.6L98.3 341.1L98.2 336.6L98.7 332.1L99.9 327.6L101.4 324L103.4 320.8L105.9 318.2L108.4 316.6L111.4 315.8L114.4 316L116.9 317L119.4 318.9L121.3 321.1L123.1 324.1L124.6 327.6L125.6 331.6L126.2 335.6L126.2 340.1L125.8 344.1L124.9 348.1L123.6 351.6L121.9 354.8L119.9 357.4L117.4 359.5L114.9 360.7ZM223.9 429.6L195.9 429.6L196.2 424.6L197.3 419.6L199.1 415.1L201.4 411.6L204.9 408.4L208.4 407.1L210.4 407L212.4 407.3L215.9 409.1L219.2 412.6L221.8 417.6L223.5 423.6L223.9 429.6Z"/>
<path fill="#f28389" fill-rule="evenodd" d="M211.4 267.7L208.4 267.7L205.9 266.8L203.4 265.1L200.9 262.2L199.1 259.1L197.7 255.1L196.8 251.1L196.5 246.6L223.3 246.6L223 250.6L222.4 254.1L221.3 257.6L219.9 260.6L217.9 263.6L215.9 265.5L213.9 266.8L211.4 267.7ZM114.4 359.7L111.4 359.9L108.9 359.3L106.4 357.8L104.2 355.6L102.1 352.6L100.6 349.1L99.5 345.1L98.9 340.6L98.9 336.1L99.5 331.6L100.6 327.6L102.2 324.1L104.2 321.1L106.4 319L108.9 317.5L111.9 316.9L114.4 317.1L116.9 318.2L119.4 320.2L121.3 322.6L123 325.6L124.3 329.1L125.1 332.6L125.6 336.6L125.6 340.6L125.1 344.6L124.2 348.1L122.8 351.6L121.1 354.6L118.9 357.1L116.9 358.6L114.4 359.7ZM222.9 429.6L196.5 429.6L196.9 424.6L197.9 420L199.7 415.6L201.9 412.3L203.4 410.8L205.4 409.3L208.9 408.1L212.4 408.4L215.9 410.3L218.9 413.6L221.4 418.6L223 425.1L223.3 429.6L222.9 429.6Z"/>
<path fill="#f1757b" fill-rule="evenodd" d="M210.9 266.6L208.4 266.5L205.9 265.7L203.4 263.8L201.4 261.5L199.5 258.1L198.3 254.6L197.4 250.6L197.2 246.6L222.7 246.6L221.8 253.6L220.7 257.1L219.3 260.1L217.4 262.8L215.4 264.7L213.4 265.9L210.9 266.6ZM113.9 358.6L111.4 358.8L108.9 358.1L106.4 356.6L104.4 354.5L102.5 351.6L101 348.1L100 344.1L99.5 340.1L99.6 335.6L100.2 331.6L101.4 327.6L102.8 324.6L104.9 321.7L106.9 319.9L109.4 318.5L111.9 318L114.4 318.3L116.4 319.1L118.5 320.6L120.7 323.1L122.4 326.1L123.6 329.1L124.4 332.6L124.9 336.6L124.9 340.6L124.5 344.1L123.6 347.6L122.2 351.1L120.4 354.1L118.4 356.3L116.4 357.7L113.9 358.6ZM222.4 429.6L197.2 429.6L197.5 425.1L198.4 420.8L199.9 416.9L201.9 413.7L204.9 410.8L208.4 409.3L211.9 409.4L215.4 411.2L218.4 414.4L220.8 419.1L222.3 425.1L222.7 429.1L222.7 429.6L222.4 429.6Z"/>
<path fill="#f2696e" fill-rule="evenodd" d="M212.4 265.2L209.9 265.6L207.3 265.1L204.6 263.6L202.4 261.4L200.4 258.2L198.9 254.3L198.1 250.1L197.8 246.6L222 246.6L221.4 252.3L219.4 258.2L217.9 260.7L216.4 262.5L214.4 264.2L212.4 265.2ZM113.4 357.6L110.9 357.6L108.4 356.7L106.4 355.3L104.4 353.1L102.9 350.6L101.4 347L100.4 342.6L100.2 339.6L100.3 335.1L100.9 331.6L101.9 328.4L103.4 325.2L105.4 322.5L107.4 320.7L109.4 319.6L111.9 319.1L114.4 319.4L116.4 320.3L118.4 321.8L120.4 324.2L121.9 326.8L123.4 331L124.3 337.6L124.1 341.6L123.4 345.6L121.4 351L119.9 353.3L117.9 355.4L115.9 356.8L113.4 357.6ZM221.9 429.6L197.8 429.6L198 426.1L198.9 421.6L200.4 417.7L201.9 415.1L204.8 412.1L207.9 410.6L211.4 410.5L213.3 411.1L214.9 412L217.9 415.1L219.9 418.7L221.4 423.6L221.9 427.1L221.9 429.6Z"/>
<path fill="#f55e62" fill-rule="evenodd" d="M211.4 264.2L208.9 264.3L206.9 263.7L204.5 262.1L202.6 260.1L200.9 257.2L199.7 254.1L198.9 250.6L198.6 246.6L221.2 246.6L220.5 252.6L219.6 255.6L218.4 258.2L216.9 260.5L215.4 262.1L213.4 263.5L211.4 264.2ZM114.4 356.1L111.9 356.5L109.9 356.1L107.9 355.1L105.7 353.1L103.9 350.6L102.5 347.6L101.5 344.1L101 340.6L101 336.6L101.4 333.1L102.4 329.6L103.7 326.6L105.4 324L107.4 322.1L109.4 320.9L111.9 320.3L113.9 320.5L115.9 321.3L117.9 322.8L119.5 324.6L121 327.1L122.3 330.1L123 333.1L123.5 336.6L123.1 343.1L122.4 346.1L121.3 349.1L119.9 351.6L118.3 353.6L116.4 355.2L114.4 356.1ZM220.9 429.6L198.6 429.6L198.9 425.6L199.8 421.6L201.2 418.1L202.9 415.4L205.9 412.7L208.9 411.6L211.9 411.8L214.9 413.4L217.8 416.6L219.7 420.6L220.9 425.6L221.2 429.6L220.9 429.6Z"/>
<path fill="#f85456" fill-rule="evenodd" d="M210.4 263.1L208.4 263L206.4 262.2L204.4 260.6L202.8 258.6L201.4 256.1L200.3 253.1L199.7 250.1L199.4 246.6L220.4 246.6L219.6 252.6L218.6 255.6L217.4 258.1L215.9 260.1L214.3 261.6L212.4 262.6L210.4 263.1ZM113.4 355.2L111.4 355.2L109.3 354.6L107.4 353.4L105.4 351.2L103.9 348.6L102.9 346.1L102.2 343.1L101.8 339.6L102.3 333.1L103.1 330.1L104.5 327.1L105.9 325L107.9 323L109.9 322L111.9 321.6L113.9 321.8L115.9 322.6L117.8 324.1L119.4 326.1L120.8 328.6L121.7 331.1L122.7 337.1L122.2 343.6L120.3 349.1L118.9 351.4L117.4 353.1L115.4 354.5L113.4 355.2ZM219.9 429.6L199.4 429.6L199.7 425.6L200.5 422.1L201.9 418.7L203.6 416.1L205.9 414L208.9 412.8L211.9 413L214.7 414.6L217.3 417.6L219.1 421.6L220.3 427.1L220.4 429.6L219.9 429.6Z"/>
<path fill="#fb4a4a" fill-rule="evenodd" d="M211.4 261.7L209.4 261.9L207.4 261.4L205.4 260.1L203.6 258.1L202.1 255.6L201.2 253.1L200.5 250.1L200.2 246.6L219.6 246.6L218.9 252.1L217.2 256.6L215.9 258.5L214.4 260.1L211.4 261.7ZM114.4 353.6L112.4 354L110.4 353.8L108.4 352.8L106.9 351.5L105.4 349.5L104 346.6L103.1 343.6L102.7 340.6L102.6 337.1L102.9 334.1L103.7 331.1L104.9 328.2L106.3 326.1L107.9 324.4L109.9 323.2L111.9 322.8L113.9 323L115.4 323.6L116.9 324.7L118.6 326.6L120.8 331.1L121.8 336.6L121.5 342.6L120 347.6L118.9 349.7L117.4 351.6L115.9 352.9L114.4 353.6ZM219.4 429.6L200.2 429.6L200.5 426.1L201.3 422.6L202.4 419.7L203.9 417.3L206.4 415L208.9 414L211.4 414.1L214.2 415.6L216.5 418.1L218.2 421.6L219.3 426.1L219.4 429.6Z"/>
<path fill="#fe3f3e" fill-rule="evenodd" d="M210.4 260.7L208.4 260.5L206.9 259.8L205.4 258.7L203.9 256.9L202.7 254.6L201.8 252.1L201 246.6L218.8 246.6L218.1 251.6L216.4 256.1L213.9 259.1L212.4 260.1L210.4 260.7ZM113.4 352.7L111.4 352.8L109.9 352.3L108.4 351.4L106.6 349.6L105.4 347.6L104.4 345.1L103.4 339.6L103.8 334.1L105.5 329.1L106.9 326.9L108.4 325.4L109.9 324.5L111.9 324L113.9 324.2L115.4 324.9L118.1 327.6L120.2 332.1L121 337.1L120.7 342.6L119 347.6L117.9 349.5L116.4 351.1L114.9 352.2L113.4 352.7ZM218.4 429.6L201 429.6L201.3 426.1L202 423.1L203.2 420.1L204.9 417.7L206.9 416L209.4 415.2L211.9 415.6L213.9 416.7L216 419.1L217.7 422.6L218.6 427.1L218.8 429.6L218.4 429.6Z"/>
<path fill="#ff3734" fill-rule="evenodd" d="M211.4 259.2L209.9 259.4L208.1 259.1L206.4 258.1L204.9 256.6L202.9 252.6L202.4 251L201.9 246.6L217.9 246.6L217.4 251.1L215.9 255.1L213.4 258.1L211.4 259.2ZM112.4 351.6L110.4 351.2L109.2 350.6L107.9 349.5L106.4 347.4L104.9 343.8L104.4 341.4L104.3 338.6L104.4 335.4L104.9 333L106.9 328.6L109.4 326.1L110.4 325.6L112.4 325.3L115 326.1L116.4 327.1L117.9 329.1L118.9 331.1L119.9 334.5L120.2 338.6L119.9 342.1L119.4 344.3L117.9 347.7L115.9 350.1L114.4 351.1L112.4 351.6ZM217.9 429.6L201.9 429.6L202.4 425.1L202.9 423.1L204.4 420.1L205.4 418.7L207.4 417.1L209.4 416.5L211.4 416.7L213.8 418.1L215.4 420L216.9 423.1L217.8 427.6L217.9 429.6Z"/>
<path fill="#ff322c" fill-rule="evenodd" d="M210.9 256.7L208.4 256.5L206.9 255.6L205.9 254.5L204.2 251.1L203.5 246.6L216.3 246.6L215.9 250.1L214.8 253.1L212.9 255.6L210.9 256.7ZM113.9 348.6L111.4 348.9L109.9 348.3L108.9 347.4L106.9 344.3L105.9 340.1L106 335.6L107.3 331.6L109.4 328.9L111.9 327.9L114.4 328.5L116.2 330.1L117.8 333.1L118.6 336.6L118.5 340.6L117.6 344.1L115.9 347.1L113.9 348.6ZM215.9 429.6L203.5 429.6L204.2 424.6L205.1 422.6L206.4 420.7L207.9 419.6L209.4 419.1L211.4 419.3L212.9 420.3L214.4 422L215.6 424.6L216.3 428.6L216.3 429.6L215.9 429.6Z"/>
<path fill="#ff2c24" fill-rule="evenodd" d="M210.4 254.1L208.4 253.8L206.9 252.5L205.5 249.6L205.1 246.6L214.7 246.6L214.4 249.2L213.4 251.7L211.9 253.5L210.4 254.1ZM112.9 346.2L110.9 346L109.2 344.6L108 342.1L107.4 339.1L107.6 336.1L108.6 333.1L109.9 331.5L111.9 330.5L113.9 331L115.4 332.4L116.5 334.6L117 337.6L116.9 340.6L116.1 343.1L114.8 345.1L112.9 346.2ZM214.4 429.6L205.1 429.6L205.7 425.6L207.4 422.8L208.4 422.1L209.9 421.7L211.4 422.1L212.4 422.8L213.4 424.1L214.2 426.1L214.7 429.1L214.7 429.6L214.4 429.6Z"/>
<path fill="#ff261b" fill-rule="evenodd" d="M210.9 251.3L209.4 251.5L208.1 250.6L207.2 249.1L206.7 246.6L213.1 246.6L212.4 249.6L210.9 251.3ZM112.4 343.7L110.9 343.2L109.9 342.1L109.3 340.6L109 338.6L109.2 336.6L109.9 334.8L110.9 333.6L112.4 333.1L113.4 333.5L114.5 334.6L115.3 336.6L115.4 338.6L115.2 340.6L114.5 342.1L113.4 343.3L112.4 343.7ZM212.9 429.6L206.7 429.6L207.1 427.1L207.9 425.5L209.4 424.4L210.4 424.4L211.4 424.9L212.7 427.1L213.1 429.1L213.1 429.6L212.9 429.6Z"/>
<path fill="#ff2113" fill-rule="evenodd" d="M210.4 248.8L209.4 248.8L208.9 248.3L208.3 246.6L211.5 246.6L211.1 248.1L210.4 248.8ZM112.9 340.8L111.9 341L111.4 340.7L110.7 339.1L110.8 337.1L111.9 335.8L112.9 336L113.8 337.6L113.7 339.6L112.9 340.8ZM211.4 429.6L208.3 429.6L208.9 427.5L209.4 427.1L210.4 427.1L211.2 428.1L211.4 429.6Z"/>
<path fill="none" stroke="#555" stroke-opacity="0.6" stroke-width="0.6" d="M100.9 246.6L100.4 253.6L99.2 259.6L97.4 265.2L94.4 271.1L91.4 275L87.7 278.1L83.9 280L79.9 280.6L75.9 280L71.9 278.1L68.4 275.1L64.9 270.6L62.4 265.6L60.4 259.6L59.2 253.1L58.7 246.6M165.9 246.6L165.5 253.1L164.4 259.2L162.4 265.3L159.7 270.6L156.4 275L152.9 278L148.9 280L144.9 280.6L140.9 280L136.9 278.1L133.4 275.1L130 270.6L127.4 265.5L125.4 259.6L124.2 253.1L123.8 246.6M240.4 261.4L238.2 269.6L235.1 277.1L231.1 283.6L226.4 289L221.4 292.8L218.4 294.3L215.4 295.4L210.4 296.1L204.9 295.5L199.4 293.3L194.4 289.9L191.6 287.1L189.1 284.1L185.5 278.6L182.1 271.1L179.6 262.6L178.2 253.6L177.9 246.6M113.9 388.1L111.4 388.2L107.9 387.8L104.9 386.9L101.4 385.3L98.4 383.3L95.4 380.8L90.6 375.1L88.1 371.1L86 367.1L83.1 359.1L81.1 350.1L80.2 340.1L80.6 330.1L82.2 321.1L84.6 313.1L86.6 308.6L88.7 304.6L93.4 298.1L96.4 295.1L99.4 292.8L104.9 289.9L108.4 288.9L111.4 288.6L114.9 288.7L117.9 289.4L123.4 291.7L125.9 293.3L128.9 295.9L131.5 298.6L134.2 302.1L138.1 309.1L141.2 317.1L143.2 325.6L144.2 336.1L144.2 341.6L143.8 347.1L142.2 356.1L139.7 364.1L136.1 371.6L133.5 375.6L131.2 378.6L125.9 383.5L122.9 385.4L119.9 386.8L116.4 387.8L113.9 388.1M178.9 372.7L174.9 372.5L170.8 371.1L166.9 368.3L163.4 364.3L160.4 359.1L158.4 353.6L156.9 347.1L156.2 340.1L156.4 333.6L157.4 326.9L159.4 320.2L161.9 314.9L164.9 310.6L168.6 307.1L172.4 305L176.9 304.1L180.9 304.6L184.9 306.4L188.4 309.2L191.9 313.6L194.4 318.4L196.4 324.1L197.8 330.6L198.3 336.6L198.2 343.1L197.3 349.1L195.9 354.6L193.4 360.6L190.4 365.3L186.9 369L182.9 371.5L178.9 372.7M49.4 304.2L53.4 305.6L56.9 307.9L60 311.1L62.9 315.5L65.4 321.1L66.9 326.2L67.9 332.1L68.3 338.6L67.9 344.6L66.9 350.6L65.4 355.7L62.9 361.3L60.1 365.6L56.9 368.9L53.4 371.2L49.4 372.6M240.4 372.6L236.9 371.6L232.9 369.1L229.8 366.1L226.9 361.8L224.4 356.6L222.8 351.6L221.6 345.1L221.2 338.6L221.5 332.6L222.6 326.1L224.4 320.3L226.8 315.1L229.9 310.6L232.9 307.7L236.4 305.4L240.4 304.2M177.9 429.6L178.2 422.1L179.7 413.1L182.2 404.6L185.6 397.1L189.6 391.1L193.9 386.5L198.9 382.8L201.9 381.4L204.9 380.4L207.9 379.9L210.9 379.8L216.4 380.8L221.9 383.4L226.9 387.4L231.7 393.1L235.2 399.1L238.2 406.1L240.4 414.5M58.7 429.6L59.2 422.6L60.4 416.2L62.4 410.2L64.9 405.3L68 401.1L71.9 397.8L75.9 395.9L79.9 395.3L83.9 395.9L87.9 397.9L91.6 401.1L94.9 405.6L97.4 410.6L99.4 416.9L100.5 423.1L100.9 429.6M123.8 429.6L124.2 422.6L125.4 416.4L127.4 410.3L129.9 405.4L133.1 401.1L136.9 397.8L140.9 395.9L144.9 395.3L148.9 395.9L152.9 397.8L156.6 401.1L159.9 405.5L162.4 410.6L164.4 416.6L165.5 422.6L165.9 429.6"/>
<path fill="none" stroke="#555" stroke-opacity="0.6" stroke-width="0.6" d="M92.7 246.6L91.9 253.6L90.4 258.1L88.9 261.1L86.9 263.8L84.8 265.6L82.9 266.6L79.9 267.2L77.4 266.8L74.9 265.6L72.9 263.9L70.9 261.4L69.4 258.6L67.9 254.2L67.3 251.1L66.9 246.6M157.7 246.6L156.9 253.7L155.9 257.1L153.9 261.2L151.9 263.8L149.9 265.6L147.9 266.6L144.9 267.2L142.4 266.8L139.9 265.6L137.9 263.9L135.9 261.3L134.4 258.5L132.9 254.1L132.3 251.1L132 246.6M235.9 246.6L235.6 253.1L234.2 261.6L231.8 269.1L228.2 276.1L224 281.6L219.4 285.4L214.9 287.5L209.9 288.3L204.9 287.5L200.4 285.4L195.8 281.6L191.6 276.1L188 269.1L185.6 261.6L184.2 253.1L183.9 246.6M114.9 380.2L109.9 380.3L106.9 379.5L104.4 378.5L101.9 377L99.4 375L95.1 370.1L91.6 364.1L88.6 356.1L87.1 349.6L86.2 340.6L86.5 331.6L87.6 324.6L89.6 317.6L92.7 310.6L96.8 304.6L101.4 300.2L103.4 298.9L106.4 297.5L111.4 296.4L115.9 296.8L120.9 298.8L125.4 302.2L129.6 307.1L133.2 313.6L135.7 320.1L137.2 326.6L138.2 335.6L138.2 342.6L137.2 350.6L135.2 358.1L132.1 365.6L128.2 371.6L123.9 376L119.4 378.8L114.9 380.2M178.9 359.2L176.4 359.3L173.8 358.6L171.4 357.1L168.9 354.3L167.4 351.8L165.9 348.1L164.9 344.1L164.4 339.6L164.6 335.1L165.3 330.6L166.4 327.2L167.9 324.1L169.9 321.2L172.3 319.1L174.4 318L176.9 317.5L178.9 317.6L181.5 318.6L183.9 320.4L185.9 322.9L187.5 325.6L188.9 329.4L189.8 333.6L190.1 336.6L190 341.1L189.5 345.1L187.4 351.3L185.4 354.6L183.6 356.6L181.4 358.2L178.9 359.2M49.4 317.8L51.4 318.6L53.4 320.1L54.9 321.6L56.9 324.7L58.4 328.1L59.4 331.6L59.9 335.1L60 338.6L59.4 345.1L58.4 348.7L56.9 352.1L55.4 354.6L53.4 356.7L51.6 358.1L49.4 359.1M240.4 359.1L237.9 358.1L235.9 356.6L232.9 352.6L231.4 349.5L230.4 346.3L229.8 343.1L229.5 338.6L229.7 334.6L230.4 330.6L232.4 325L233.9 322.5L235.9 320.2L238.1 318.6L240.4 317.7M183.9 429.6L184.2 422.6L185.7 414.1L188.1 406.6L191.7 399.6L195.5 394.6L199.9 390.8L204.9 388.4L207.4 387.8L209.9 387.6L212.4 387.8L214.9 388.4L219.9 390.8L224.3 394.6L228.1 399.6L231.7 406.6L234.1 414.1L235.6 422.6L235.9 429.6M66.9 429.6L67.3 425.1L67.9 421.6L69.4 417.3L70.9 414.5L72.9 411.9L75.1 410.1L77.4 409L79.9 408.6L82.4 409.1L84.5 410.1L86.9 412.1L88.9 414.8L90.4 417.7L91.8 422.1L92.4 425.2L92.7 429.6M132 429.6L132.3 425.1L132.9 421.9L133.9 418.6L135.9 414.6L137.9 412L140.2 410.1L142.4 409L144.9 408.6L147.4 409.1L149.6 410.1L151.9 412.1L153.9 414.7L155.4 417.6L156.9 422.1L157.4 425.1L157.7 429.6"/>
<path fill="none" stroke="#555" stroke-opacity="0.6" stroke-width="0.6" d="M82.4 246.6L81.5 249.6L79.9 250.6L78.7 250.1L77.9 249.2L77.4 248.1L77.2 246.6M147.5 246.6L146.9 249.1L145.9 250.2L144.9 250.6L143.9 250.2L142.9 249.2L142.3 246.6M232.1 246.6L231.6 253.6L230.2 260.6L228.1 266.6L225.5 271.6L222 276.1L218.4 279.2L213.9 281.3L209.9 281.9L207.9 281.7L204.9 281L200.9 278.8L197.4 275.7L194.3 271.6L191.7 266.6L189.6 260.6L188.2 253.6L187.7 246.6M115.4 373.6L110.9 374L106.4 372.8L102.4 370.4L98.7 366.6L95.1 361.1L92.6 355.1L91 349.1L90.1 341.6L90.2 334.1L91.2 327.1L93.2 320.1L95.7 314.6L98.7 310.1L102.4 306.5L106.9 303.8L111.4 302.8L115.9 303.3L119.9 305L123.9 308.1L127.2 312.1L130 317.1L132.1 322.6L133.6 328.6L134.3 335.1L134.3 341.6L133.6 348.1L132.2 354.1L129.6 360.6L126.6 365.6L123.4 369.2L119.9 371.8L115.4 373.6M177.9 342.6L176.9 342.7L175.9 342.1L174.8 339.6L174.9 336.5L175.9 334.8L176.9 334.1L177.9 334.3L178.9 335L179.9 337.6L179.9 339.1L179.4 340.9L177.9 342.6M240.4 341.3L239.9 340.1L239.7 338.6L239.9 336.6L240.4 335.5M49.4 336.1L49.8 338.6L49.4 340.7M187.7 429.6L188.1 423.1L189.2 416.6L191.1 410.6L194.1 404.6L197.5 400.1L201.4 396.7L205.4 394.7L209.9 394L214.4 394.7L218.4 396.7L222.3 400.1L225.7 404.6L228.7 410.6L230.6 416.6L231.7 423.1L232.1 429.6M77.2 429.6L77.4 427.9L77.9 426.6L78.9 425.6L79.9 425.4L81.4 426.1L82.4 428.6L82.4 429.6M142.3 429.6L142.4 428.1L142.9 426.7L143.9 425.6L144.9 425.4L145.9 425.6L146.4 426.1L147.3 428.1L147.5 429.6"/>
<path fill="none" stroke="#555" stroke-opacity="0.6" stroke-width="0.6" d="M228.6 246.6L228.2 252.6L227.1 258.1L225.4 263.3L223 268.1L219.9 272L216.9 274.6L213.4 276.2L209.9 276.8L206.4 276.2L202.9 274.5L199.9 272L196.8 268.1L194.4 263.3L192.7 258.1L191.6 252.6L191.2 246.6M114.4 368.7L110.4 368.7L106.9 367.6L103.4 365.3L100.4 362L97.7 357.6L95.7 352.6L94.2 346.6L93.6 340.6L93.7 334.1L94.6 328.1L96.2 322.6L98.4 317.9L101.3 313.6L104.4 310.7L108.3 308.6L111.9 307.9L115.4 308.4L118.9 309.9L121.9 312.3L124.9 316L127.2 320.1L129.1 325.1L130.3 330.6L130.9 336.1L130.8 342.1L130.1 347.6L128.6 353.1L126.8 357.6L124.4 361.6L121.3 365.1L117.9 367.5L114.4 368.7M191.2 429.6L191.6 423.6L192.6 418.1L194.4 412.6L196.6 408.1L199.4 404.4L202.5 401.6L206.4 399.6L209.9 399.1L213.4 399.6L217.3 401.6L220.4 404.4L223.2 408.1L225.4 412.6L227.2 418.1L228.2 423.6L228.6 429.6"/>
<path fill="none" stroke="#555" stroke-opacity="0.6" stroke-width="0.6" d="M225.3 246.6L225 251.1L224 256.1L222.7 260.1L220.6 264.1L218.4 267L215.9 269.2L212.9 270.7L209.9 271.2L206.9 270.7L203.9 269.2L201.4 267L199.2 264.1L197.1 260.1L195.8 256.1L194.9 251.6L194.6 246.6M113.9 363.2L110.9 363.2L107.9 362.3L104.9 360.3L102.4 357.5L100.3 354.1L98.5 349.6L97.4 345.1L96.9 340.1L97 335.1L97.8 330.1L99.1 325.6L100.9 321.6L103.3 318.1L105.9 315.7L108.9 314.1L111.9 313.5L114.9 313.9L117.6 315.1L120.4 317.3L122.6 320.1L124.6 323.6L126.1 327.6L127.1 332.1L127.5 336.6L127.5 341.1L126.8 346.1L125.8 350.1L124.1 354.1L121.9 357.7L119.4 360.4L116.9 362.1L113.9 363.2M194.6 429.6L194.8 425.1L195.7 420.1L197.2 415.6L199 412.1L201.4 408.9L203.9 406.7L206.9 405.2L209.9 404.7L212.9 405.2L215.9 406.7L218.4 408.9L220.8 412.1L222.6 415.6L224.1 420.1L225 425.1L225.3 429.6"/>
<path fill="none" stroke="#555" stroke-opacity="0.6" stroke-width="0.6" d="M222 246.6L221.7 250.1L221 254.1L219.9 257.1L218.4 260L216.4 262.5L214.4 264.2L212.4 265.2L209.9 265.6L207.4 265.1L205.4 264.2L203.4 262.5L201.4 260L199.9 257.1L198.9 254.1L198.1 250.1L197.8 246.6M113.4 357.6L110.9 357.6L108.4 356.7L106.4 355.3L104.4 353.1L102.9 350.6L101.4 347L100.4 342.6L100.2 339.6L100.3 335.1L100.9 331.6L101.9 328.4L103.4 325.2L105.4 322.5L107.4 320.7L109.4 319.6L111.9 319.1L114.4 319.4L116.4 320.3L118.4 321.8L120.4 324.2L121.9 326.8L123.4 331L124.3 337.6L124.1 341.6L123.4 345.6L121.4 351L119.9 353.3L117.9 355.4L115.9 356.8L113.4 357.6M197.8 429.6L198 426.1L198.9 421.6L199.9 418.8L201.4 415.9L203.4 413.3L205.4 411.7L207.8 410.6L209.9 410.3L212 410.6L214.4 411.7L216.4 413.3L218.4 415.9L219.9 418.7L220.9 421.6L221.8 426.1L222 429.6"/>
<path fill="none" stroke="#555" stroke-opacity="0.6" stroke-width="0.6" d="M217.9 246.6L217.4 251.1L215.9 255.1L213.4 258.1L211.7 259.1L209.9 259.4L208.1 259.1L206.4 258.1L204.9 256.6L203.9 255.1L202.4 251L201.9 246.6M112.4 351.6L110.4 351.2L109.2 350.6L107.9 349.5L106.4 347.4L104.9 343.8L104.4 341.4L104.3 338.6L104.4 335.4L104.9 333L106.9 328.6L109.4 326.1L110.4 325.6L112.4 325.3L115 326.1L116.4 327.1L117.9 329.1L118.9 331.1L119.9 334.5L120.2 338.6L119.9 342.1L119.4 344.3L117.9 347.7L115.9 350.1L114.4 351.1L112.4 351.6M201.9 429.6L202.4 424.9L202.9 423.1L204.4 420L205.9 418.2L207.4 417.1L209.9 416.5L212.4 417.1L213.9 418.2L215.4 420L216.9 423.1L217.4 424.9L217.9 429.6"/>
</g>
<line x1="49.5" y1="16.5" x2="239.9" y2="16.5" stroke="#222" stroke-width="1"/>
<line x1="239.9" y1="16.5" x2="239.9" y2="199.4" stroke="#888" stroke-width="1"/>
<line x1="49.5" y1="16" x2="49.5" y2="199.9" stroke="#1c1c30" stroke-width="1"/>
<line x1="49" y1="199.4" x2="240.4" y2="199.4" stroke="#1c1c30" stroke-width="1"/>
<line x1="49.5" y1="199.4" x2="49.5" y2="203.4" stroke="#222" stroke-width="1"/>
<line x1="94.9" y1="199.4" x2="94.9" y2="203.4" stroke="#222" stroke-width="1"/>
<line x1="140.3" y1="199.4" x2="140.3" y2="203.4" stroke="#222" stroke-width="1"/>
<line x1="185.7" y1="199.4" x2="185.7" y2="203.4" stroke="#222" stroke-width="1"/>
<line x1="231.1" y1="199.4" x2="231.1" y2="203.4" stroke="#222" stroke-width="1"/>
<line x1="72.2" y1="199.4" x2="72.2" y2="201.6" stroke="#222" stroke-width="1"/>
<line x1="117.6" y1="199.4" x2="117.6" y2="201.6" stroke="#222" stroke-width="1"/>
<line x1="163" y1="199.4" x2="163" y2="201.6" stroke="#222" stroke-width="1"/>
<line x1="208.4" y1="199.4" x2="208.4" y2="201.6" stroke="#222" stroke-width="1"/>
<line x1="45.5" y1="199.4" x2="49.5" y2="199.4" stroke="#222" stroke-width="1"/>
<line x1="45.5" y1="163.2" x2="49.5" y2="163.2" stroke="#222" stroke-width="1"/>
<line x1="45.5" y1="127" x2="49.5" y2="127" stroke="#222" stroke-width="1"/>
<line x1="45.5" y1="90.8" x2="49.5" y2="90.8" stroke="#222" stroke-width="1"/>
<line x1="45.5" y1="54.6" x2="49.5" y2="54.6" stroke="#222" stroke-width="1"/>
<line x1="45.5" y1="18.4" x2="49.5" y2="18.4" stroke="#222" stroke-width="1"/>
<line x1="47.3" y1="181.3" x2="49.5" y2="181.3" stroke="#222" stroke-width="1"/>
<line x1="47.3" y1="145.1" x2="49.5" y2="145.1" stroke="#222" stroke-width="1"/>
<line x1="47.3" y1="108.9" x2="49.5" y2="108.9" stroke="#222" stroke-width="1"/>
<line x1="47.3" y1="72.7" x2="49.5" y2="72.7" stroke="#222" stroke-width="1"/>
<line x1="47.3" y1="36.5" x2="49.5" y2="36.5" stroke="#222" stroke-width="1"/>
<text x="49.5" y="214.3" font-size="11" text-anchor="middle" fill="#1a1a1a" stroke="#1a1a1a">0</text>
<text x="94.9" y="214.3" font-size="11" text-anchor="middle" fill="#1a1a1a" stroke="#1a1a1a">1</text>
<text x="140.3" y="214.3" font-size="11" text-anchor="middle" fill="#1a1a1a" stroke="#1a1a1a">2</text>
<text x="185.7" y="214.3" font-size="11" text-anchor="middle" fill="#1a1a1a" stroke="#1a1a1a">3</text>
<text x="231.1" y="214.3" font-size="11" text-anchor="middle" fill="#1a1a1a" stroke="#1a1a1a">4</text>
<text x="42.3" y="202.7" font-size="11" text-anchor="end" fill="#1a1a1a" stroke="#1a1a1a">0.0</text>
<text x="42.3" y="166.5" font-size="11" text-anchor="end" fill="#1a1a1a" stroke="#1a1a1a">0.5</text>
<text x="42.3" y="130.3" font-size="11" text-anchor="end" fill="#1a1a1a" stroke="#1a1a1a">1.0</text>
<text x="42.3" y="94.1" font-size="11" text-anchor="end" fill="#1a1a1a" stroke="#1a1a1a">1.5</text>
<text x="42.3" y="57.9" font-size="11" text-anchor="end" fill="#1a1a1a" stroke="#1a1a1a">2.0</text>
<text x="42.3" y="21.7" font-size="11" text-anchor="end" fill="#1a1a1a" stroke="#1a1a1a">2.5</text>
<rect x="45.9" y="101.8" width="197.5" height="11.8" fill="none" stroke="#26265e" stroke-width="1"/>
<circle cx="111.6" cy="107.1" r="2.7" fill="#fff"/><text x="114.5" y="102.5" font-size="9.5" text-anchor="start" font-weight="bold" fill="#fff" stroke="#fff">1</text>
<circle cx="178.5" cy="107.1" r="2.7" fill="#fff"/><text x="181.5" y="102.5" font-size="9.5" text-anchor="start" font-weight="bold" fill="#fff" stroke="#fff">2</text>
<text x="0" y="10.7" font-size="15" text-anchor="start" fill="#1a1a1a" stroke="#1a1a1a">(a)</text>
<text transform="translate(23.2 107.6) rotate(-90)" font-size="12" text-anchor="middle" fill="#1a1a1a" stroke="#1a1a1a">Y (&#197;)</text>
<text x="144.7" y="229.9" font-size="12" text-anchor="middle" fill="#1a1a1a" stroke="#1a1a1a">X (&#197;)</text>
<text x="243.6" y="13.9" font-size="11.4" text-anchor="start" fill="#1a1a1a" stroke="#1a1a1a">Energy (eV)</text>
<rect x="257.5" y="20.4" width="28" height="174.8" fill="url(#cb)" stroke="#6a6a6a" stroke-width="1"/>
<line x1="285.5" y1="20.4" x2="289" y2="20.4" stroke="#444" stroke-width="0.8"/>
<text x="293.5" y="24.1" font-size="11" text-anchor="start" fill="#1a1a1a" stroke="#1a1a1a">-474.607</text>
<line x1="285.5" y1="42.2" x2="289" y2="42.2" stroke="#444" stroke-width="0.8"/>
<text x="293.5" y="46" font-size="11" text-anchor="start" fill="#1a1a1a" stroke="#1a1a1a">-474.612</text>
<line x1="285.5" y1="64.1" x2="289" y2="64.1" stroke="#444" stroke-width="0.8"/>
<text x="293.5" y="67.8" font-size="11" text-anchor="start" fill="#1a1a1a" stroke="#1a1a1a">-474.618</text>
<line x1="285.5" y1="85.9" x2="289" y2="85.9" stroke="#444" stroke-width="0.8"/>
<text x="293.5" y="89.6" font-size="11" text-anchor="start" fill="#1a1a1a" stroke="#1a1a1a">-474.623</text>
<line x1="285.5" y1="107.8" x2="289" y2="107.8" stroke="#444" stroke-width="0.8"/>
<text x="293.5" y="111.5" font-size="11" text-anchor="start" fill="#1a1a1a" stroke="#1a1a1a">-474.628</text>
<line x1="285.5" y1="129.6" x2="289" y2="129.6" stroke="#444" stroke-width="0.8"/>
<text x="293.5" y="133.3" font-size="11" text-anchor="start" fill="#1a1a1a" stroke="#1a1a1a">-474.634</text>
<line x1="285.5" y1="151.5" x2="289" y2="151.5" stroke="#444" stroke-width="0.8"/>
<text x="293.5" y="155.2" font-size="11" text-anchor="start" fill="#1a1a1a" stroke="#1a1a1a">-474.639</text>
<line x1="285.5" y1="173.3" x2="289" y2="173.3" stroke="#444" stroke-width="0.8"/>
<text x="293.5" y="177" font-size="11" text-anchor="start" fill="#1a1a1a" stroke="#1a1a1a">-474.645</text>
<line x1="285.5" y1="195.2" x2="289" y2="195.2" stroke="#444" stroke-width="0.8"/>
<text x="293.5" y="198.9" font-size="11" text-anchor="start" fill="#1a1a1a" stroke="#1a1a1a">-474.650</text>
<text x="343.6" y="75.1" font-size="10" text-anchor="start" font-weight="bold" fill="#1a1a1a" stroke="#1a1a1a">1:</text>
<text x="343.3" y="140.2" font-size="10" text-anchor="start" font-weight="bold" fill="#1a1a1a" stroke="#1a1a1a">2:</text>
<path d="M379.00 73.30L374.80 80.57L366.40 80.57L362.20 73.30L366.40 66.03L374.80 66.03ZM391.60 66.03L387.40 73.30L379.00 73.30L374.80 66.03L379.00 58.75L387.40 58.75ZM391.60 80.57L387.40 87.85L379.00 87.85L374.80 80.57L379.00 73.30L387.40 73.30Z" fill="#d7c1c4"/><path d="M379.00 73.30L374.80 80.57L366.40 80.57L362.20 73.30L366.40 66.03L374.80 66.03ZM391.60 66.03L387.40 73.30L379.00 73.30L374.80 66.03L379.00 58.75L387.40 58.75ZM391.60 80.57L387.40 87.85L379.00 87.85L374.80 80.57L379.00 73.30L387.40 73.30Z" fill="#d4d9e0" style="mix-blend-mode:multiply"/><path d="M379.00 73.30L374.80 80.57L366.40 80.57L362.20 73.30L366.40 66.03L374.80 66.03ZM391.60 66.03L387.40 73.30L379.00 73.30L374.80 66.03L379.00 58.75L387.40 58.75ZM391.60 80.57L387.40 87.85L379.00 87.85L374.80 80.57L379.00 73.30L387.40 73.30Z" fill="none" stroke="#7e2a30" stroke-width="0.8" stroke-linejoin="round"/><path d="M379.00 73.30L374.80 80.57L366.40 80.57L362.20 73.30L366.40 66.03L374.80 66.03ZM391.60 66.03L387.40 73.30L379.00 73.30L374.80 66.03L379.00 58.75L387.40 58.75ZM391.60 80.57L387.40 87.85L379.00 87.85L374.80 80.57L379.00 73.30L387.40 73.30Z" fill="none" stroke="#44597a" stroke-width="0.8" stroke-linejoin="round"/>
<path d="M376.90 136.40L372.70 143.67L364.30 143.67L360.10 136.40L364.30 129.13L372.70 129.13ZM389.50 129.13L385.30 136.40L376.90 136.40L372.70 129.13L376.90 121.85L385.30 121.85ZM389.50 143.67L385.30 150.95L376.90 150.95L372.70 143.67L376.90 136.40L385.30 136.40Z" fill="#d7c1c4"/><path d="M385.90 136.40L381.70 143.67L373.30 143.67L369.10 136.40L373.30 129.13L381.70 129.13ZM398.50 129.13L394.30 136.40L385.90 136.40L381.70 129.13L385.90 121.85L394.30 121.85ZM398.50 143.67L394.30 150.95L385.90 150.95L381.70 143.67L385.90 136.40L394.30 136.40Z" fill="#d4d9e0" style="mix-blend-mode:multiply"/><path d="M376.90 136.40L372.70 143.67L364.30 143.67L360.10 136.40L364.30 129.13L372.70 129.13ZM389.50 129.13L385.30 136.40L376.90 136.40L372.70 129.13L376.90 121.85L385.30 121.85ZM389.50 143.67L385.30 150.95L376.90 150.95L372.70 143.67L376.90 136.40L385.30 136.40Z" fill="none" stroke="#7e2a30" stroke-width="0.8" stroke-linejoin="round"/><path d="M385.90 136.40L381.70 143.67L373.30 143.67L369.10 136.40L373.30 129.13L381.70 129.13ZM398.50 129.13L394.30 136.40L385.90 136.40L381.70 129.13L385.90 121.85L394.30 121.85ZM398.50 143.67L394.30 150.95L385.90 150.95L381.70 143.67L385.90 136.40L394.30 136.40Z" fill="none" stroke="#44597a" stroke-width="0.8" stroke-linejoin="round"/>
<line x1="49.4" y1="246.6" x2="240.6" y2="246.6" stroke="#222" stroke-width="1"/>
<line x1="240.6" y1="246.6" x2="240.6" y2="429.6" stroke="#888" stroke-width="1"/>
<line x1="49.4" y1="246.1" x2="49.4" y2="430.1" stroke="#1c1c30" stroke-width="1"/>
<line x1="48.9" y1="429.6" x2="241.1" y2="429.6" stroke="#1c1c30" stroke-width="1"/>
<line x1="49.4" y1="429.6" x2="49.4" y2="433.6" stroke="#222" stroke-width="1"/>
<line x1="93.8" y1="429.6" x2="93.8" y2="433.6" stroke="#222" stroke-width="1"/>
<line x1="138.2" y1="429.6" x2="138.2" y2="433.6" stroke="#222" stroke-width="1"/>
<line x1="182.6" y1="429.6" x2="182.6" y2="433.6" stroke="#222" stroke-width="1"/>
<line x1="227" y1="429.6" x2="227" y2="433.6" stroke="#222" stroke-width="1"/>
<line x1="71.6" y1="429.6" x2="71.6" y2="431.8" stroke="#222" stroke-width="1"/>
<line x1="116" y1="429.6" x2="116" y2="431.8" stroke="#222" stroke-width="1"/>
<line x1="160.4" y1="429.6" x2="160.4" y2="431.8" stroke="#222" stroke-width="1"/>
<line x1="204.8" y1="429.6" x2="204.8" y2="431.8" stroke="#222" stroke-width="1"/>
<line x1="45.4" y1="429.6" x2="49.4" y2="429.6" stroke="#222" stroke-width="1"/>
<line x1="45.4" y1="393.4" x2="49.4" y2="393.4" stroke="#222" stroke-width="1"/>
<line x1="45.4" y1="357.3" x2="49.4" y2="357.3" stroke="#222" stroke-width="1"/>
<line x1="45.4" y1="321.1" x2="49.4" y2="321.1" stroke="#222" stroke-width="1"/>
<line x1="45.4" y1="285" x2="49.4" y2="285" stroke="#222" stroke-width="1"/>
<line x1="45.4" y1="248.8" x2="49.4" y2="248.8" stroke="#222" stroke-width="1"/>
<line x1="47.2" y1="411.5" x2="49.4" y2="411.5" stroke="#222" stroke-width="1"/>
<line x1="47.2" y1="375.4" x2="49.4" y2="375.4" stroke="#222" stroke-width="1"/>
<line x1="47.2" y1="339.2" x2="49.4" y2="339.2" stroke="#222" stroke-width="1"/>
<line x1="47.2" y1="303" x2="49.4" y2="303" stroke="#222" stroke-width="1"/>
<line x1="47.2" y1="266.9" x2="49.4" y2="266.9" stroke="#222" stroke-width="1"/>
<text x="49.4" y="444.9" font-size="11" text-anchor="middle" fill="#1a1a1a" stroke="#1a1a1a">0</text>
<text x="93.8" y="444.9" font-size="11" text-anchor="middle" fill="#1a1a1a" stroke="#1a1a1a">2</text>
<text x="138.2" y="444.9" font-size="11" text-anchor="middle" fill="#1a1a1a" stroke="#1a1a1a">4</text>
<text x="182.6" y="444.9" font-size="11" text-anchor="middle" fill="#1a1a1a" stroke="#1a1a1a">6</text>
<text x="227" y="444.9" font-size="11" text-anchor="middle" fill="#1a1a1a" stroke="#1a1a1a">8</text>
<text x="43.2" y="432.9" font-size="11" text-anchor="end" fill="#1a1a1a" stroke="#1a1a1a">0</text>
<text x="43.2" y="396.7" font-size="11" text-anchor="end" fill="#1a1a1a" stroke="#1a1a1a">1</text>
<text x="43.2" y="360.6" font-size="11" text-anchor="end" fill="#1a1a1a" stroke="#1a1a1a">2</text>
<text x="43.2" y="324.4" font-size="11" text-anchor="end" fill="#1a1a1a" stroke="#1a1a1a">3</text>
<text x="43.2" y="288.3" font-size="11" text-anchor="end" fill="#1a1a1a" stroke="#1a1a1a">4</text>
<text x="43.2" y="252.1" font-size="11" text-anchor="end" fill="#1a1a1a" stroke="#1a1a1a">5</text>
<rect x="45.3" y="332.8" width="197.8" height="12.2" fill="none" stroke="#26265e" stroke-width="1"/>
<circle cx="163.6" cy="292.8" r="2.7" fill="#fff"/><text x="166.5" y="288.5" font-size="9.5" text-anchor="start" font-weight="bold" fill="#fff" stroke="#fff">2</text>
<circle cx="149.6" cy="337.8" r="2.7" fill="#fff"/><text x="152.8" y="334.4" font-size="9.5" text-anchor="start" font-weight="bold" fill="#fff" stroke="#fff">3</text>
<circle cx="177.3" cy="338.6" r="2.7" fill="#fff"/><text x="180.3" y="335.3" font-size="9.5" text-anchor="start" font-weight="bold" fill="#fff" stroke="#fff">4</text>
<circle cx="210.3" cy="339.1" r="2.7" fill="#fff"/><text x="213.2" y="335.3" font-size="9.5" text-anchor="start" font-weight="bold" fill="#fff" stroke="#fff">1</text>
<text x="0" y="236.1" font-size="15" text-anchor="start" fill="#1a1a1a" stroke="#1a1a1a">(c)</text>
<text transform="translate(32.2 337.6) rotate(-90)" font-size="12" text-anchor="middle" fill="#1a1a1a" stroke="#1a1a1a">Y (&#197;)</text>
<text x="144.9" y="458.4" font-size="12" text-anchor="middle" fill="#1a1a1a" stroke="#1a1a1a">X (&#197;)</text>
<text x="244.3" y="244.8" font-size="11.4" text-anchor="start" fill="#1a1a1a" stroke="#1a1a1a">Energy (eV)</text>
<rect x="257.8" y="251.6" width="28.2" height="175.2" fill="url(#cb)" stroke="#6a6a6a" stroke-width="1"/>
<line x1="286" y1="251.6" x2="289.5" y2="251.6" stroke="#444" stroke-width="0.8"/>
<text x="293.8" y="255.3" font-size="11" text-anchor="start" fill="#1a1a1a" stroke="#1a1a1a">-1421.390</text>
<line x1="286" y1="273.5" x2="289.5" y2="273.5" stroke="#444" stroke-width="0.8"/>
<text x="293.8" y="277.2" font-size="11" text-anchor="start" fill="#1a1a1a" stroke="#1a1a1a">-1421.614</text>
<line x1="286" y1="295.4" x2="289.5" y2="295.4" stroke="#444" stroke-width="0.8"/>
<text x="293.8" y="299.1" font-size="11" text-anchor="start" fill="#1a1a1a" stroke="#1a1a1a">-1421.837</text>
<line x1="286" y1="317.3" x2="289.5" y2="317.3" stroke="#444" stroke-width="0.8"/>
<text x="293.8" y="321" font-size="11" text-anchor="start" fill="#1a1a1a" stroke="#1a1a1a">-1422.061</text>
<line x1="286" y1="339.2" x2="289.5" y2="339.2" stroke="#444" stroke-width="0.8"/>
<text x="293.8" y="342.9" font-size="11" text-anchor="start" fill="#1a1a1a" stroke="#1a1a1a">-1422.285</text>
<line x1="286" y1="361.1" x2="289.5" y2="361.1" stroke="#444" stroke-width="0.8"/>
<text x="293.8" y="364.8" font-size="11" text-anchor="start" fill="#1a1a1a" stroke="#1a1a1a">-1422.509</text>
<line x1="286" y1="383" x2="289.5" y2="383" stroke="#444" stroke-width="0.8"/>
<text x="293.8" y="386.7" font-size="11" text-anchor="start" fill="#1a1a1a" stroke="#1a1a1a">-1422.733</text>
<line x1="286" y1="404.9" x2="289.5" y2="404.9" stroke="#444" stroke-width="0.8"/>
<text x="293.8" y="408.6" font-size="11" text-anchor="start" fill="#1a1a1a" stroke="#1a1a1a">-1422.956</text>
<line x1="286" y1="426.8" x2="289.5" y2="426.8" stroke="#444" stroke-width="0.8"/>
<text x="293.8" y="430.5" font-size="11" text-anchor="start" fill="#1a1a1a" stroke="#1a1a1a">-1423.180</text>
<text x="343.2" y="267.3" font-size="10" text-anchor="start" font-weight="bold" fill="#1a1a1a" stroke="#1a1a1a">1:</text>
<text x="343.2" y="319.9" font-size="10" text-anchor="start" font-weight="bold" fill="#1a1a1a" stroke="#1a1a1a">2:</text>
<text x="343.2" y="374.1" font-size="10" text-anchor="start" font-weight="bold" fill="#1a1a1a" stroke="#1a1a1a">3:</text>
<text x="343.2" y="427.4" font-size="10" text-anchor="start" font-weight="bold" fill="#1a1a1a" stroke="#1a1a1a">4:</text>
<path d="M390.70 263.00L386.50 270.27L378.10 270.27L373.90 263.00L378.10 255.73L386.50 255.73ZM403.30 255.73L399.10 263.00L390.70 263.00L386.50 255.73L390.70 248.45L399.10 248.45ZM403.30 270.27L399.10 277.55L390.70 277.55L386.50 270.27L390.70 263.00L399.10 263.00Z" fill="#d7c1c4"/><path d="M377.80 263.00L373.60 270.27L365.20 270.27L361.00 263.00L365.20 255.73L373.60 255.73ZM390.40 255.73L386.20 263.00L377.80 263.00L373.60 255.73L377.80 248.45L386.20 248.45ZM390.40 270.27L386.20 277.55L377.80 277.55L373.60 270.27L377.80 263.00L386.20 263.00Z" fill="#d4d9e0" style="mix-blend-mode:multiply"/><path d="M390.70 263.00L386.50 270.27L378.10 270.27L373.90 263.00L378.10 255.73L386.50 255.73ZM403.30 255.73L399.10 263.00L390.70 263.00L386.50 255.73L390.70 248.45L399.10 248.45ZM403.30 270.27L399.10 277.55L390.70 277.55L386.50 270.27L390.70 263.00L399.10 263.00Z" fill="none" stroke="#7e2a30" stroke-width="0.8" stroke-linejoin="round"/><path d="M377.80 263.00L373.60 270.27L365.20 270.27L361.00 263.00L365.20 255.73L373.60 255.73ZM390.40 255.73L386.20 263.00L377.80 263.00L373.60 255.73L377.80 248.45L386.20 248.45ZM390.40 270.27L386.20 277.55L377.80 277.55L373.60 270.27L377.80 263.00L386.20 263.00Z" fill="none" stroke="#44597a" stroke-width="0.8" stroke-linejoin="round"/>
<path d="M379.00 320.60L374.80 327.87L366.40 327.87L362.20 320.60L366.40 313.33L374.80 313.33ZM391.60 313.33L387.40 320.60L379.00 320.60L374.80 313.33L379.00 306.05L387.40 306.05ZM391.60 327.87L387.40 335.15L379.00 335.15L374.80 327.87L379.00 320.60L387.40 320.60Z" fill="#d7c1c4"/><path d="M385.20 317.75L381.00 325.02L372.60 325.02L368.40 317.75L372.60 310.48L381.00 310.48ZM397.80 310.48L393.60 317.75L385.20 317.75L381.00 310.48L385.20 303.20L393.60 303.20ZM397.80 325.02L393.60 332.30L385.20 332.30L381.00 325.02L385.20 317.75L393.60 317.75Z" fill="#d4d9e0" style="mix-blend-mode:multiply"/><path d="M379.00 320.60L374.80 327.87L366.40 327.87L362.20 320.60L366.40 313.33L374.80 313.33ZM391.60 313.33L387.40 320.60L379.00 320.60L374.80 313.33L379.00 306.05L387.40 306.05ZM391.60 327.87L387.40 335.15L379.00 335.15L374.80 327.87L379.00 320.60L387.40 320.60Z" fill="none" stroke="#7e2a30" stroke-width="0.8" stroke-linejoin="round"/><path d="M385.20 317.75L381.00 325.02L372.60 325.02L368.40 317.75L372.60 310.48L381.00 310.48ZM397.80 310.48L393.60 317.75L385.20 317.75L381.00 310.48L385.20 303.20L393.60 303.20ZM397.80 325.02L393.60 332.30L385.20 332.30L381.00 325.02L385.20 317.75L393.60 317.75Z" fill="none" stroke="#44597a" stroke-width="0.8" stroke-linejoin="round"/>
<path d="M378.10 372.20L373.90 379.47L365.50 379.47L361.30 372.20L365.50 364.93L373.90 364.93ZM390.70 364.93L386.50 372.20L378.10 372.20L373.90 364.93L378.10 357.65L386.50 357.65ZM390.70 379.47L386.50 386.75L378.10 386.75L373.90 379.47L378.10 372.20L386.50 372.20Z" fill="#d7c1c4"/><path d="M383.00 372.20L378.80 379.47L370.40 379.47L366.20 372.20L370.40 364.93L378.80 364.93ZM395.60 364.93L391.40 372.20L383.00 372.20L378.80 364.93L383.00 357.65L391.40 357.65ZM395.60 379.47L391.40 386.75L383.00 386.75L378.80 379.47L383.00 372.20L391.40 372.20Z" fill="#d4d9e0" style="mix-blend-mode:multiply"/><path d="M378.10 372.20L373.90 379.47L365.50 379.47L361.30 372.20L365.50 364.93L373.90 364.93ZM390.70 364.93L386.50 372.20L378.10 372.20L373.90 364.93L378.10 357.65L386.50 357.65ZM390.70 379.47L386.50 386.75L378.10 386.75L373.90 379.47L378.10 372.20L386.50 372.20Z" fill="none" stroke="#7e2a30" stroke-width="0.8" stroke-linejoin="round"/><path d="M383.00 372.20L378.80 379.47L370.40 379.47L366.20 372.20L370.40 364.93L378.80 364.93ZM395.60 364.93L391.40 372.20L383.00 372.20L378.80 364.93L383.00 357.65L391.40 357.65ZM395.60 379.47L391.40 386.75L383.00 386.75L378.80 379.47L383.00 372.20L391.40 372.20Z" fill="none" stroke="#44597a" stroke-width="0.8" stroke-linejoin="round"/>
<path d="M377.50 425.90L373.30 433.17L364.90 433.17L360.70 425.90L364.90 418.63L373.30 418.63ZM390.10 418.63L385.90 425.90L377.50 425.90L373.30 418.63L377.50 411.35L385.90 411.35ZM390.10 433.17L385.90 440.45L377.50 440.45L373.30 433.17L377.50 425.90L385.90 425.90Z" fill="#d7c1c4"/><path d="M386.00 425.90L381.80 433.17L373.40 433.17L369.20 425.90L373.40 418.63L381.80 418.63ZM398.60 418.63L394.40 425.90L386.00 425.90L381.80 418.63L386.00 411.35L394.40 411.35ZM398.60 433.17L394.40 440.45L386.00 440.45L381.80 433.17L386.00 425.90L394.40 425.90Z" fill="#d4d9e0" style="mix-blend-mode:multiply"/><path d="M377.50 425.90L373.30 433.17L364.90 433.17L360.70 425.90L364.90 418.63L373.30 418.63ZM390.10 418.63L385.90 425.90L377.50 425.90L373.30 418.63L377.50 411.35L385.90 411.35ZM390.10 433.17L385.90 440.45L377.50 440.45L373.30 433.17L377.50 425.90L385.90 425.90Z" fill="none" stroke="#7e2a30" stroke-width="0.8" stroke-linejoin="round"/><path d="M386.00 425.90L381.80 433.17L373.40 433.17L369.20 425.90L373.40 418.63L381.80 418.63ZM398.60 418.63L394.40 425.90L386.00 425.90L381.80 418.63L386.00 411.35L394.40 411.35ZM398.60 433.17L394.40 440.45L386.00 440.45L381.80 433.17L386.00 425.90L394.40 425.90Z" fill="none" stroke="#44597a" stroke-width="0.8" stroke-linejoin="round"/>
<rect x="462.9" y="14.6" width="215.4" height="173.4" fill="none" stroke="#6b6b6b" stroke-width="1"/>
<line x1="482.5" y1="188" x2="482.5" y2="184.5" stroke="#6b6b6b" stroke-width="1"/>
<line x1="482.5" y1="14.6" x2="482.5" y2="18.1" stroke="#6b6b6b" stroke-width="1"/>
<line x1="521.7" y1="188" x2="521.7" y2="184.5" stroke="#6b6b6b" stroke-width="1"/>
<line x1="521.7" y1="14.6" x2="521.7" y2="18.1" stroke="#6b6b6b" stroke-width="1"/>
<line x1="560.8" y1="188" x2="560.8" y2="184.5" stroke="#6b6b6b" stroke-width="1"/>
<line x1="560.8" y1="14.6" x2="560.8" y2="18.1" stroke="#6b6b6b" stroke-width="1"/>
<line x1="600" y1="188" x2="600" y2="184.5" stroke="#6b6b6b" stroke-width="1"/>
<line x1="600" y1="14.6" x2="600" y2="18.1" stroke="#6b6b6b" stroke-width="1"/>
<line x1="639.1" y1="188" x2="639.1" y2="184.5" stroke="#6b6b6b" stroke-width="1"/>
<line x1="639.1" y1="14.6" x2="639.1" y2="18.1" stroke="#6b6b6b" stroke-width="1"/>
<line x1="502.1" y1="188" x2="502.1" y2="186" stroke="#6b6b6b" stroke-width="1"/>
<line x1="502.1" y1="14.6" x2="502.1" y2="16.6" stroke="#6b6b6b" stroke-width="1"/>
<line x1="541.2" y1="188" x2="541.2" y2="186" stroke="#6b6b6b" stroke-width="1"/>
<line x1="541.2" y1="14.6" x2="541.2" y2="16.6" stroke="#6b6b6b" stroke-width="1"/>
<line x1="580.4" y1="188" x2="580.4" y2="186" stroke="#6b6b6b" stroke-width="1"/>
<line x1="580.4" y1="14.6" x2="580.4" y2="16.6" stroke="#6b6b6b" stroke-width="1"/>
<line x1="619.6" y1="188" x2="619.6" y2="186" stroke="#6b6b6b" stroke-width="1"/>
<line x1="619.6" y1="14.6" x2="619.6" y2="16.6" stroke="#6b6b6b" stroke-width="1"/>
<line x1="658.7" y1="188" x2="658.7" y2="186" stroke="#6b6b6b" stroke-width="1"/>
<line x1="658.7" y1="14.6" x2="658.7" y2="16.6" stroke="#6b6b6b" stroke-width="1"/>
<line x1="462.9" y1="14.6" x2="466.4" y2="14.6" stroke="#6b6b6b" stroke-width="1"/>
<line x1="678.3" y1="14.6" x2="674.8" y2="14.6" stroke="#6b6b6b" stroke-width="1"/>
<line x1="462.9" y1="46.1" x2="466.4" y2="46.1" stroke="#6b6b6b" stroke-width="1"/>
<line x1="678.3" y1="46.1" x2="674.8" y2="46.1" stroke="#6b6b6b" stroke-width="1"/>
<line x1="462.9" y1="77.7" x2="466.4" y2="77.7" stroke="#6b6b6b" stroke-width="1"/>
<line x1="678.3" y1="77.7" x2="674.8" y2="77.7" stroke="#6b6b6b" stroke-width="1"/>
<line x1="462.9" y1="109.2" x2="466.4" y2="109.2" stroke="#6b6b6b" stroke-width="1"/>
<line x1="678.3" y1="109.2" x2="674.8" y2="109.2" stroke="#6b6b6b" stroke-width="1"/>
<line x1="462.9" y1="140.8" x2="466.4" y2="140.8" stroke="#6b6b6b" stroke-width="1"/>
<line x1="678.3" y1="140.8" x2="674.8" y2="140.8" stroke="#6b6b6b" stroke-width="1"/>
<line x1="462.9" y1="172.3" x2="466.4" y2="172.3" stroke="#6b6b6b" stroke-width="1"/>
<line x1="678.3" y1="172.3" x2="674.8" y2="172.3" stroke="#6b6b6b" stroke-width="1"/>
<line x1="462.9" y1="30.4" x2="464.9" y2="30.4" stroke="#6b6b6b" stroke-width="1"/>
<line x1="678.3" y1="30.4" x2="676.3" y2="30.4" stroke="#6b6b6b" stroke-width="1"/>
<line x1="462.9" y1="61.9" x2="464.9" y2="61.9" stroke="#6b6b6b" stroke-width="1"/>
<line x1="678.3" y1="61.9" x2="676.3" y2="61.9" stroke="#6b6b6b" stroke-width="1"/>
<line x1="462.9" y1="93.4" x2="464.9" y2="93.4" stroke="#6b6b6b" stroke-width="1"/>
<line x1="678.3" y1="93.4" x2="676.3" y2="93.4" stroke="#6b6b6b" stroke-width="1"/>
<line x1="462.9" y1="125" x2="464.9" y2="125" stroke="#6b6b6b" stroke-width="1"/>
<line x1="678.3" y1="125" x2="676.3" y2="125" stroke="#6b6b6b" stroke-width="1"/>
<line x1="462.9" y1="156.5" x2="464.9" y2="156.5" stroke="#6b6b6b" stroke-width="1"/>
<line x1="678.3" y1="156.5" x2="676.3" y2="156.5" stroke="#6b6b6b" stroke-width="1"/>
<text x="482.5" y="200.1" font-size="10.5" text-anchor="middle" fill="#1a1a1a" stroke="#1a1a1a">0</text>
<text x="521.7" y="200.1" font-size="10.5" text-anchor="middle" fill="#1a1a1a" stroke="#1a1a1a">1</text>
<text x="560.8" y="200.1" font-size="10.5" text-anchor="middle" fill="#1a1a1a" stroke="#1a1a1a">2</text>
<text x="600" y="200.1" font-size="10.5" text-anchor="middle" fill="#1a1a1a" stroke="#1a1a1a">3</text>
<text x="639.1" y="200.1" font-size="10.5" text-anchor="middle" fill="#1a1a1a" stroke="#1a1a1a">4</text>
<text x="678.3" y="200.1" font-size="10.5" text-anchor="middle" fill="#1a1a1a" stroke="#1a1a1a">5</text>
<text x="458.8" y="18.2" font-size="10.5" text-anchor="end" fill="#1a1a1a" stroke="#1a1a1a">-474.60</text>
<text x="458.8" y="49.7" font-size="10.5" text-anchor="end" fill="#1a1a1a" stroke="#1a1a1a">-474.61</text>
<text x="458.8" y="81.3" font-size="10.5" text-anchor="end" fill="#1a1a1a" stroke="#1a1a1a">-474.62</text>
<text x="458.8" y="112.8" font-size="10.5" text-anchor="end" fill="#1a1a1a" stroke="#1a1a1a">-474.63</text>
<text x="458.8" y="144.4" font-size="10.5" text-anchor="end" fill="#1a1a1a" stroke="#1a1a1a">-474.64</text>
<text x="458.8" y="175.9" font-size="10.5" text-anchor="end" fill="#1a1a1a" stroke="#1a1a1a">-474.65</text>
<text x="570.7" y="218" font-size="11.5" text-anchor="middle" fill="#1a1a1a" stroke="#1a1a1a">Shear displacement (&#197;)</text>
<text transform="translate(422 101) rotate(-90)" font-size="11.5" text-anchor="middle" fill="#1a1a1a" stroke="#1a1a1a">System energy (eV)</text>
<text x="402.7" y="12.8" font-size="15" text-anchor="start" fill="#1a1a1a" stroke="#1a1a1a">(b)</text>
<polyline fill="none" stroke="#111" stroke-width="0.8" points="486.3,171.6 494.3,162.5 502.2,147.3 510.1,122.6 518,92.1 525.8,63.1 533.6,43 541.5,36.3 549.3,48.9 557.2,74.3 565,103.7 572.8,132.5 580.7,154.4 588.5,166.5 596.4,171.2 604.2,169.2 612,165.3 619.9,162.8 627.7,162.5 635.6,164.9 643.4,167 651.2,171.3"/>
<path fill="#000" d="M484.5 169.8h3.6v3.6h-3.6zM492.5 160.7h3.6v3.6h-3.6zM500.4 145.5h3.6v3.6h-3.6zM508.3 120.8h3.6v3.6h-3.6zM516.2 90.3h3.6v3.6h-3.6zM524 61.3h3.6v3.6h-3.6zM531.8 41.2h3.6v3.6h-3.6zM539.7 34.5h3.6v3.6h-3.6zM547.5 47.1h3.6v3.6h-3.6zM555.4 72.5h3.6v3.6h-3.6zM563.2 101.9h3.6v3.6h-3.6zM571 130.7h3.6v3.6h-3.6zM578.9 152.6h3.6v3.6h-3.6zM586.7 164.7h3.6v3.6h-3.6zM594.6 169.4h3.6v3.6h-3.6zM602.4 167.4h3.6v3.6h-3.6zM610.2 163.5h3.6v3.6h-3.6zM618.1 161h3.6v3.6h-3.6zM625.9 160.7h3.6v3.6h-3.6zM633.8 163.1h3.6v3.6h-3.6zM641.6 165.2h3.6v3.6h-3.6zM649.4 169.5h3.6v3.6h-3.6z"/>
<rect x="462.9" y="250.1" width="215.7" height="173.4" fill="none" stroke="#6b6b6b" stroke-width="1"/>
<line x1="482.5" y1="423.5" x2="482.5" y2="420" stroke="#6b6b6b" stroke-width="1"/>
<line x1="482.5" y1="250.1" x2="482.5" y2="253.6" stroke="#6b6b6b" stroke-width="1"/>
<line x1="521.8" y1="423.5" x2="521.8" y2="420" stroke="#6b6b6b" stroke-width="1"/>
<line x1="521.8" y1="250.1" x2="521.8" y2="253.6" stroke="#6b6b6b" stroke-width="1"/>
<line x1="561" y1="423.5" x2="561" y2="420" stroke="#6b6b6b" stroke-width="1"/>
<line x1="561" y1="250.1" x2="561" y2="253.6" stroke="#6b6b6b" stroke-width="1"/>
<line x1="600.3" y1="423.5" x2="600.3" y2="420" stroke="#6b6b6b" stroke-width="1"/>
<line x1="600.3" y1="250.1" x2="600.3" y2="253.6" stroke="#6b6b6b" stroke-width="1"/>
<line x1="639.5" y1="423.5" x2="639.5" y2="420" stroke="#6b6b6b" stroke-width="1"/>
<line x1="639.5" y1="250.1" x2="639.5" y2="253.6" stroke="#6b6b6b" stroke-width="1"/>
<line x1="678.8" y1="423.5" x2="678.8" y2="420" stroke="#6b6b6b" stroke-width="1"/>
<line x1="678.8" y1="250.1" x2="678.8" y2="253.6" stroke="#6b6b6b" stroke-width="1"/>
<line x1="502.1" y1="423.5" x2="502.1" y2="421.5" stroke="#6b6b6b" stroke-width="1"/>
<line x1="502.1" y1="250.1" x2="502.1" y2="252.1" stroke="#6b6b6b" stroke-width="1"/>
<line x1="541.4" y1="423.5" x2="541.4" y2="421.5" stroke="#6b6b6b" stroke-width="1"/>
<line x1="541.4" y1="250.1" x2="541.4" y2="252.1" stroke="#6b6b6b" stroke-width="1"/>
<line x1="580.6" y1="423.5" x2="580.6" y2="421.5" stroke="#6b6b6b" stroke-width="1"/>
<line x1="580.6" y1="250.1" x2="580.6" y2="252.1" stroke="#6b6b6b" stroke-width="1"/>
<line x1="619.9" y1="423.5" x2="619.9" y2="421.5" stroke="#6b6b6b" stroke-width="1"/>
<line x1="619.9" y1="250.1" x2="619.9" y2="252.1" stroke="#6b6b6b" stroke-width="1"/>
<line x1="659.2" y1="423.5" x2="659.2" y2="421.5" stroke="#6b6b6b" stroke-width="1"/>
<line x1="659.2" y1="250.1" x2="659.2" y2="252.1" stroke="#6b6b6b" stroke-width="1"/>
<line x1="462.9" y1="250.1" x2="466.4" y2="250.1" stroke="#6b6b6b" stroke-width="1"/>
<line x1="678.6" y1="250.1" x2="675.1" y2="250.1" stroke="#6b6b6b" stroke-width="1"/>
<line x1="462.9" y1="281.6" x2="466.4" y2="281.6" stroke="#6b6b6b" stroke-width="1"/>
<line x1="678.6" y1="281.6" x2="675.1" y2="281.6" stroke="#6b6b6b" stroke-width="1"/>
<line x1="462.9" y1="313.1" x2="466.4" y2="313.1" stroke="#6b6b6b" stroke-width="1"/>
<line x1="678.6" y1="313.1" x2="675.1" y2="313.1" stroke="#6b6b6b" stroke-width="1"/>
<line x1="462.9" y1="344.7" x2="466.4" y2="344.7" stroke="#6b6b6b" stroke-width="1"/>
<line x1="678.6" y1="344.7" x2="675.1" y2="344.7" stroke="#6b6b6b" stroke-width="1"/>
<line x1="462.9" y1="376.2" x2="466.4" y2="376.2" stroke="#6b6b6b" stroke-width="1"/>
<line x1="678.6" y1="376.2" x2="675.1" y2="376.2" stroke="#6b6b6b" stroke-width="1"/>
<line x1="462.9" y1="407.7" x2="466.4" y2="407.7" stroke="#6b6b6b" stroke-width="1"/>
<line x1="678.6" y1="407.7" x2="675.1" y2="407.7" stroke="#6b6b6b" stroke-width="1"/>
<line x1="462.9" y1="265.9" x2="464.9" y2="265.9" stroke="#6b6b6b" stroke-width="1"/>
<line x1="678.6" y1="265.9" x2="676.6" y2="265.9" stroke="#6b6b6b" stroke-width="1"/>
<line x1="462.9" y1="297.4" x2="464.9" y2="297.4" stroke="#6b6b6b" stroke-width="1"/>
<line x1="678.6" y1="297.4" x2="676.6" y2="297.4" stroke="#6b6b6b" stroke-width="1"/>
<line x1="462.9" y1="328.9" x2="464.9" y2="328.9" stroke="#6b6b6b" stroke-width="1"/>
<line x1="678.6" y1="328.9" x2="676.6" y2="328.9" stroke="#6b6b6b" stroke-width="1"/>
<line x1="462.9" y1="360.4" x2="464.9" y2="360.4" stroke="#6b6b6b" stroke-width="1"/>
<line x1="678.6" y1="360.4" x2="676.6" y2="360.4" stroke="#6b6b6b" stroke-width="1"/>
<line x1="462.9" y1="391.9" x2="464.9" y2="391.9" stroke="#6b6b6b" stroke-width="1"/>
<line x1="678.6" y1="391.9" x2="676.6" y2="391.9" stroke="#6b6b6b" stroke-width="1"/>
<text x="482.5" y="436" font-size="10.5" text-anchor="middle" fill="#1a1a1a" stroke="#1a1a1a">0</text>
<text x="521.8" y="436" font-size="10.5" text-anchor="middle" fill="#1a1a1a" stroke="#1a1a1a">2</text>
<text x="561" y="436" font-size="10.5" text-anchor="middle" fill="#1a1a1a" stroke="#1a1a1a">4</text>
<text x="600.3" y="436" font-size="10.5" text-anchor="middle" fill="#1a1a1a" stroke="#1a1a1a">6</text>
<text x="639.5" y="436" font-size="10.5" text-anchor="middle" fill="#1a1a1a" stroke="#1a1a1a">8</text>
<text x="678.8" y="436" font-size="10.5" text-anchor="middle" fill="#1a1a1a" stroke="#1a1a1a">10</text>
<text x="458.8" y="253.7" font-size="10.5" text-anchor="end" fill="#1a1a1a" stroke="#1a1a1a">-1421.2</text>
<text x="458.8" y="285.2" font-size="10.5" text-anchor="end" fill="#1a1a1a" stroke="#1a1a1a">-1421.6</text>
<text x="458.8" y="316.7" font-size="10.5" text-anchor="end" fill="#1a1a1a" stroke="#1a1a1a">-1422.0</text>
<text x="458.8" y="348.3" font-size="10.5" text-anchor="end" fill="#1a1a1a" stroke="#1a1a1a">-1422.4</text>
<text x="458.8" y="379.8" font-size="10.5" text-anchor="end" fill="#1a1a1a" stroke="#1a1a1a">-1422.8</text>
<text x="458.8" y="411.3" font-size="10.5" text-anchor="end" fill="#1a1a1a" stroke="#1a1a1a">-1423.2</text>
<text x="571" y="453.8" font-size="11.5" text-anchor="middle" fill="#1a1a1a" stroke="#1a1a1a">Shear displacement (&#197;)</text>
<text transform="translate(422 335.4) rotate(-90)" font-size="11.5" text-anchor="middle" fill="#1a1a1a" stroke="#1a1a1a">System energy (eV)</text>
<text x="402.7" y="237" font-size="15" text-anchor="start" fill="#1a1a1a" stroke="#1a1a1a">(d)</text>
<polyline fill="none" stroke="#111" stroke-width="0.8" points="484,352.5 488,357.4 491.9,366.4 495.9,376.2 499.8,385.7 503.8,391.3 507.7,391.8 511.7,386.6 515.6,374.5 519.6,355.8 523.5,333 527.5,308.8 531.4,287.2 535.4,271.6 539.3,265.2 543.3,268.7 547.2,282.5 551.2,302.8 555.1,326.7 559.1,350.6 563,370.2 567,384.5 570.9,391.3 574.9,392.1 578.8,387.5 582.8,379 586.7,369 590.7,359.6 594.6,353.4 598.6,352.1 602.5,356 606.5,364.5 610.4,375 614.4,386.1 618.3,395.8 622.3,402.2 626.2,404.8 630.2,403 634.1,396.7 638.1,387.4 642,376.4 646,365.8 649.9,356.7 653.9,352.4"/>
<path fill="#000" d="M482.2 350.7h3.6v3.6h-3.6zM486.2 355.6h3.6v3.6h-3.6zM490.1 364.6h3.6v3.6h-3.6zM494.1 374.4h3.6v3.6h-3.6zM498 383.9h3.6v3.6h-3.6zM502 389.5h3.6v3.6h-3.6zM505.9 390h3.6v3.6h-3.6zM509.9 384.8h3.6v3.6h-3.6zM513.8 372.7h3.6v3.6h-3.6zM517.8 354h3.6v3.6h-3.6zM521.7 331.2h3.6v3.6h-3.6zM525.7 307h3.6v3.6h-3.6zM529.6 285.4h3.6v3.6h-3.6zM533.6 269.8h3.6v3.6h-3.6zM537.5 263.4h3.6v3.6h-3.6zM541.5 266.9h3.6v3.6h-3.6zM545.4 280.7h3.6v3.6h-3.6zM549.4 301h3.6v3.6h-3.6zM553.3 324.9h3.6v3.6h-3.6zM557.3 348.8h3.6v3.6h-3.6zM561.2 368.4h3.6v3.6h-3.6zM565.2 382.7h3.6v3.6h-3.6zM569.1 389.5h3.6v3.6h-3.6zM573.1 390.3h3.6v3.6h-3.6zM577 385.7h3.6v3.6h-3.6zM581 377.2h3.6v3.6h-3.6zM584.9 367.2h3.6v3.6h-3.6zM588.9 357.8h3.6v3.6h-3.6zM592.8 351.6h3.6v3.6h-3.6zM596.8 350.3h3.6v3.6h-3.6zM600.7 354.2h3.6v3.6h-3.6zM604.7 362.7h3.6v3.6h-3.6zM608.6 373.2h3.6v3.6h-3.6zM612.6 384.3h3.6v3.6h-3.6zM616.5 394h3.6v3.6h-3.6zM620.5 400.4h3.6v3.6h-3.6zM624.4 403h3.6v3.6h-3.6zM628.4 401.2h3.6v3.6h-3.6zM632.3 394.9h3.6v3.6h-3.6zM636.3 385.6h3.6v3.6h-3.6zM640.2 374.6h3.6v3.6h-3.6zM644.2 364h3.6v3.6h-3.6zM648.1 354.9h3.6v3.6h-3.6zM652.1 350.6h3.6v3.6h-3.6z"/>
<path d="M534.35 255.40L532.48 258.65L528.73 258.65L526.85 255.40L528.73 252.15L532.48 252.15ZM539.98 252.15L538.10 255.40L534.35 255.40L532.48 252.15L534.35 248.90L538.10 248.90ZM539.98 258.65L538.10 261.90L534.35 261.90L532.48 258.65L534.35 255.40L538.10 255.40Z" fill="#d7c1c4"/><path d="M534.35 255.40L532.48 258.65L528.73 258.65L526.85 255.40L528.73 252.15L532.48 252.15ZM539.98 252.15L538.10 255.40L534.35 255.40L532.48 252.15L534.35 248.90L538.10 248.90ZM539.98 258.65L538.10 261.90L534.35 261.90L532.48 258.65L534.35 255.40L538.10 255.40Z" fill="#d4d9e0" style="mix-blend-mode:multiply"/><path d="M534.35 255.40L532.48 258.65L528.73 258.65L526.85 255.40L528.73 252.15L532.48 252.15ZM539.98 252.15L538.10 255.40L534.35 255.40L532.48 252.15L534.35 248.90L538.10 248.90ZM539.98 258.65L538.10 261.90L534.35 261.90L532.48 258.65L534.35 255.40L538.10 255.40Z" fill="none" stroke="#7e2a30" stroke-width="0.7" stroke-linejoin="round"/><path d="M534.35 255.40L532.48 258.65L528.73 258.65L526.85 255.40L528.73 252.15L532.48 252.15ZM539.98 252.15L538.10 255.40L534.35 255.40L532.48 252.15L534.35 248.90L538.10 248.90ZM539.98 258.65L538.10 261.90L534.35 261.90L532.48 258.65L534.35 255.40L538.10 255.40Z" fill="none" stroke="#44597a" stroke-width="0.7" stroke-linejoin="round"/>
<path d="M474.55 341.00L472.68 344.25L468.93 344.25L467.05 341.00L468.93 337.75L472.68 337.75ZM480.18 337.75L478.30 341.00L474.55 341.00L472.68 337.75L474.55 334.50L478.30 334.50ZM480.18 344.25L478.30 347.50L474.55 347.50L472.68 344.25L474.55 341.00L478.30 341.00Z" fill="#d7c1c4"/><path d="M482.25 341.00L480.38 344.25L476.62 344.25L474.75 341.00L476.62 337.75L480.38 337.75ZM487.88 337.75L486.00 341.00L482.25 341.00L480.38 337.75L482.25 334.50L486.00 334.50ZM487.88 344.25L486.00 347.50L482.25 347.50L480.38 344.25L482.25 341.00L486.00 341.00Z" fill="#d4d9e0" style="mix-blend-mode:multiply"/><path d="M474.55 341.00L472.68 344.25L468.93 344.25L467.05 341.00L468.93 337.75L472.68 337.75ZM480.18 337.75L478.30 341.00L474.55 341.00L472.68 337.75L474.55 334.50L478.30 334.50ZM480.18 344.25L478.30 347.50L474.55 347.50L472.68 344.25L474.55 341.00L478.30 341.00Z" fill="none" stroke="#7e2a30" stroke-width="0.7" stroke-linejoin="round"/><path d="M482.25 341.00L480.38 344.25L476.62 344.25L474.75 341.00L476.62 337.75L480.38 337.75ZM487.88 337.75L486.00 341.00L482.25 341.00L480.38 337.75L482.25 334.50L486.00 334.50ZM487.88 344.25L486.00 347.50L482.25 347.50L480.38 344.25L482.25 341.00L486.00 341.00Z" fill="none" stroke="#44597a" stroke-width="0.7" stroke-linejoin="round"/>
<path d="M495.55 401.70L493.68 404.95L489.93 404.95L488.05 401.70L489.93 398.45L493.68 398.45ZM501.18 398.45L499.30 401.70L495.55 401.70L493.68 398.45L495.55 395.20L499.30 395.20ZM501.18 404.95L499.30 408.20L495.55 408.20L493.68 404.95L495.55 401.70L499.30 401.70Z" fill="#d7c1c4"/><path d="M505.15 401.70L503.27 404.95L499.52 404.95L497.65 401.70L499.52 398.45L503.27 398.45ZM510.77 398.45L508.90 401.70L505.15 401.70L503.27 398.45L505.15 395.20L508.90 395.20ZM510.77 404.95L508.90 408.20L505.15 408.20L503.27 404.95L505.15 401.70L508.90 401.70Z" fill="#d4d9e0" style="mix-blend-mode:multiply"/><path d="M495.55 401.70L493.68 404.95L489.93 404.95L488.05 401.70L489.93 398.45L493.68 398.45ZM501.18 398.45L499.30 401.70L495.55 401.70L493.68 398.45L495.55 395.20L499.30 395.20ZM501.18 404.95L499.30 408.20L495.55 408.20L493.68 404.95L495.55 401.70L499.30 401.70Z" fill="none" stroke="#7e2a30" stroke-width="0.7" stroke-linejoin="round"/><path d="M505.15 401.70L503.27 404.95L499.52 404.95L497.65 401.70L499.52 398.45L503.27 398.45ZM510.77 398.45L508.90 401.70L505.15 401.70L503.27 398.45L505.15 395.20L508.90 395.20ZM510.77 404.95L508.90 408.20L505.15 408.20L503.27 404.95L505.15 401.70L508.90 401.70Z" fill="none" stroke="#44597a" stroke-width="0.7" stroke-linejoin="round"/>
<path d="M566.95 401.50L565.08 404.75L561.33 404.75L559.45 401.50L561.33 398.25L565.08 398.25ZM572.58 398.25L570.70 401.50L566.95 401.50L565.08 398.25L566.95 395.00L570.70 395.00ZM572.58 404.75L570.70 408.00L566.95 408.00L565.08 404.75L566.95 401.50L570.70 401.50Z" fill="#d7c1c4"/><path d="M568.95 401.50L567.08 404.75L563.33 404.75L561.45 401.50L563.33 398.25L567.08 398.25ZM574.58 398.25L572.70 401.50L568.95 401.50L567.08 398.25L568.95 395.00L572.70 395.00ZM574.58 404.75L572.70 408.00L568.95 408.00L567.08 404.75L568.95 401.50L572.70 401.50Z" fill="#d4d9e0" style="mix-blend-mode:multiply"/><path d="M566.95 401.50L565.08 404.75L561.33 404.75L559.45 401.50L561.33 398.25L565.08 398.25ZM572.58 398.25L570.70 401.50L566.95 401.50L565.08 398.25L566.95 395.00L570.70 395.00ZM572.58 404.75L570.70 408.00L566.95 408.00L565.08 404.75L566.95 401.50L570.70 401.50Z" fill="none" stroke="#7e2a30" stroke-width="0.7" stroke-linejoin="round"/><path d="M568.95 401.50L567.08 404.75L563.33 404.75L561.45 401.50L563.33 398.25L567.08 398.25ZM574.58 398.25L572.70 401.50L568.95 401.50L567.08 398.25L568.95 395.00L572.70 395.00ZM574.58 404.75L572.70 408.00L568.95 408.00L567.08 404.75L568.95 401.50L572.70 401.50Z" fill="none" stroke="#44597a" stroke-width="0.7" stroke-linejoin="round"/>
<path d="M588.50 340.50L586.62 343.75L582.88 343.75L581.00 340.50L582.88 337.25L586.62 337.25ZM594.12 337.25L592.25 340.50L588.50 340.50L586.62 337.25L588.50 334.00L592.25 334.00ZM594.12 343.75L592.25 347.00L588.50 347.00L586.62 343.75L588.50 340.50L592.25 340.50Z" fill="#d7c1c4"/><path d="M592.60 340.50L590.73 343.75L586.98 343.75L585.10 340.50L586.98 337.25L590.73 337.25ZM598.23 337.25L596.35 340.50L592.60 340.50L590.73 337.25L592.60 334.00L596.35 334.00ZM598.23 343.75L596.35 347.00L592.60 347.00L590.73 343.75L592.60 340.50L596.35 340.50Z" fill="#d4d9e0" style="mix-blend-mode:multiply"/><path d="M588.50 340.50L586.62 343.75L582.88 343.75L581.00 340.50L582.88 337.25L586.62 337.25ZM594.12 337.25L592.25 340.50L588.50 340.50L586.62 337.25L588.50 334.00L592.25 334.00ZM594.12 343.75L592.25 347.00L588.50 347.00L586.62 343.75L588.50 340.50L592.25 340.50Z" fill="none" stroke="#7e2a30" stroke-width="0.7" stroke-linejoin="round"/><path d="M592.60 340.50L590.73 343.75L586.98 343.75L585.10 340.50L586.98 337.25L590.73 337.25ZM598.23 337.25L596.35 340.50L592.60 340.50L590.73 337.25L592.60 334.00L596.35 334.00ZM598.23 343.75L596.35 347.00L592.60 347.00L590.73 343.75L592.60 340.50L596.35 340.50Z" fill="none" stroke="#44597a" stroke-width="0.7" stroke-linejoin="round"/>
<path d="M617.60 414.45L615.73 417.70L611.98 417.70L610.10 414.45L611.98 411.20L615.73 411.20ZM623.23 411.20L621.35 414.45L617.60 414.45L615.73 411.20L617.60 407.95L621.35 407.95ZM623.23 417.70L621.35 420.95L617.60 420.95L615.73 417.70L617.60 414.45L621.35 414.45Z" fill="#d7c1c4"/><path d="M624.85 414.45L622.98 417.70L619.23 417.70L617.35 414.45L619.23 411.20L622.98 411.20ZM630.48 411.20L628.60 414.45L624.85 414.45L622.98 411.20L624.85 407.95L628.60 407.95ZM630.48 417.70L628.60 420.95L624.85 420.95L622.98 417.70L624.85 414.45L628.60 414.45Z" fill="#d4d9e0" style="mix-blend-mode:multiply"/><path d="M617.60 414.45L615.73 417.70L611.98 417.70L610.10 414.45L611.98 411.20L615.73 411.20ZM623.23 411.20L621.35 414.45L617.60 414.45L615.73 411.20L617.60 407.95L621.35 407.95ZM623.23 417.70L621.35 420.95L617.60 420.95L615.73 417.70L617.60 414.45L621.35 414.45Z" fill="none" stroke="#7e2a30" stroke-width="0.7" stroke-linejoin="round"/><path d="M624.85 414.45L622.98 417.70L619.23 417.70L617.35 414.45L619.23 411.20L622.98 411.20ZM630.48 411.20L628.60 414.45L624.85 414.45L622.98 411.20L624.85 407.95L628.60 407.95ZM630.48 417.70L628.60 420.95L624.85 420.95L622.98 417.70L624.85 414.45L628.60 414.45Z" fill="none" stroke="#44597a" stroke-width="0.7" stroke-linejoin="round"/>
<path d="M644.00 341.40L642.12 344.65L638.38 344.65L636.50 341.40L638.38 338.15L642.12 338.15ZM649.62 338.15L647.75 341.40L644.00 341.40L642.12 338.15L644.00 334.90L647.75 334.90ZM649.62 344.65L647.75 347.90L644.00 347.90L642.12 344.65L644.00 341.40L647.75 341.40Z" fill="#d7c1c4"/><path d="M651.90 341.40L650.02 344.65L646.27 344.65L644.40 341.40L646.27 338.15L650.02 338.15ZM657.52 338.15L655.65 341.40L651.90 341.40L650.02 338.15L651.90 334.90L655.65 334.90ZM657.52 344.65L655.65 347.90L651.90 347.90L650.02 344.65L651.90 341.40L655.65 341.40Z" fill="#d4d9e0" style="mix-blend-mode:multiply"/><path d="M644.00 341.40L642.12 344.65L638.38 344.65L636.50 341.40L638.38 338.15L642.12 338.15ZM649.62 338.15L647.75 341.40L644.00 341.40L642.12 338.15L644.00 334.90L647.75 334.90ZM649.62 344.65L647.75 347.90L644.00 347.90L642.12 344.65L644.00 341.40L647.75 341.40Z" fill="none" stroke="#7e2a30" stroke-width="0.7" stroke-linejoin="round"/><path d="M651.90 341.40L650.02 344.65L646.27 344.65L644.40 341.40L646.27 338.15L650.02 338.15ZM657.52 338.15L655.65 341.40L651.90 341.40L650.02 338.15L651.90 334.90L655.65 334.90ZM657.52 344.65L655.65 347.90L651.90 347.90L650.02 344.65L651.90 341.40L655.65 341.40Z" fill="none" stroke="#44597a" stroke-width="0.7" stroke-linejoin="round"/>
</svg></body></html>
